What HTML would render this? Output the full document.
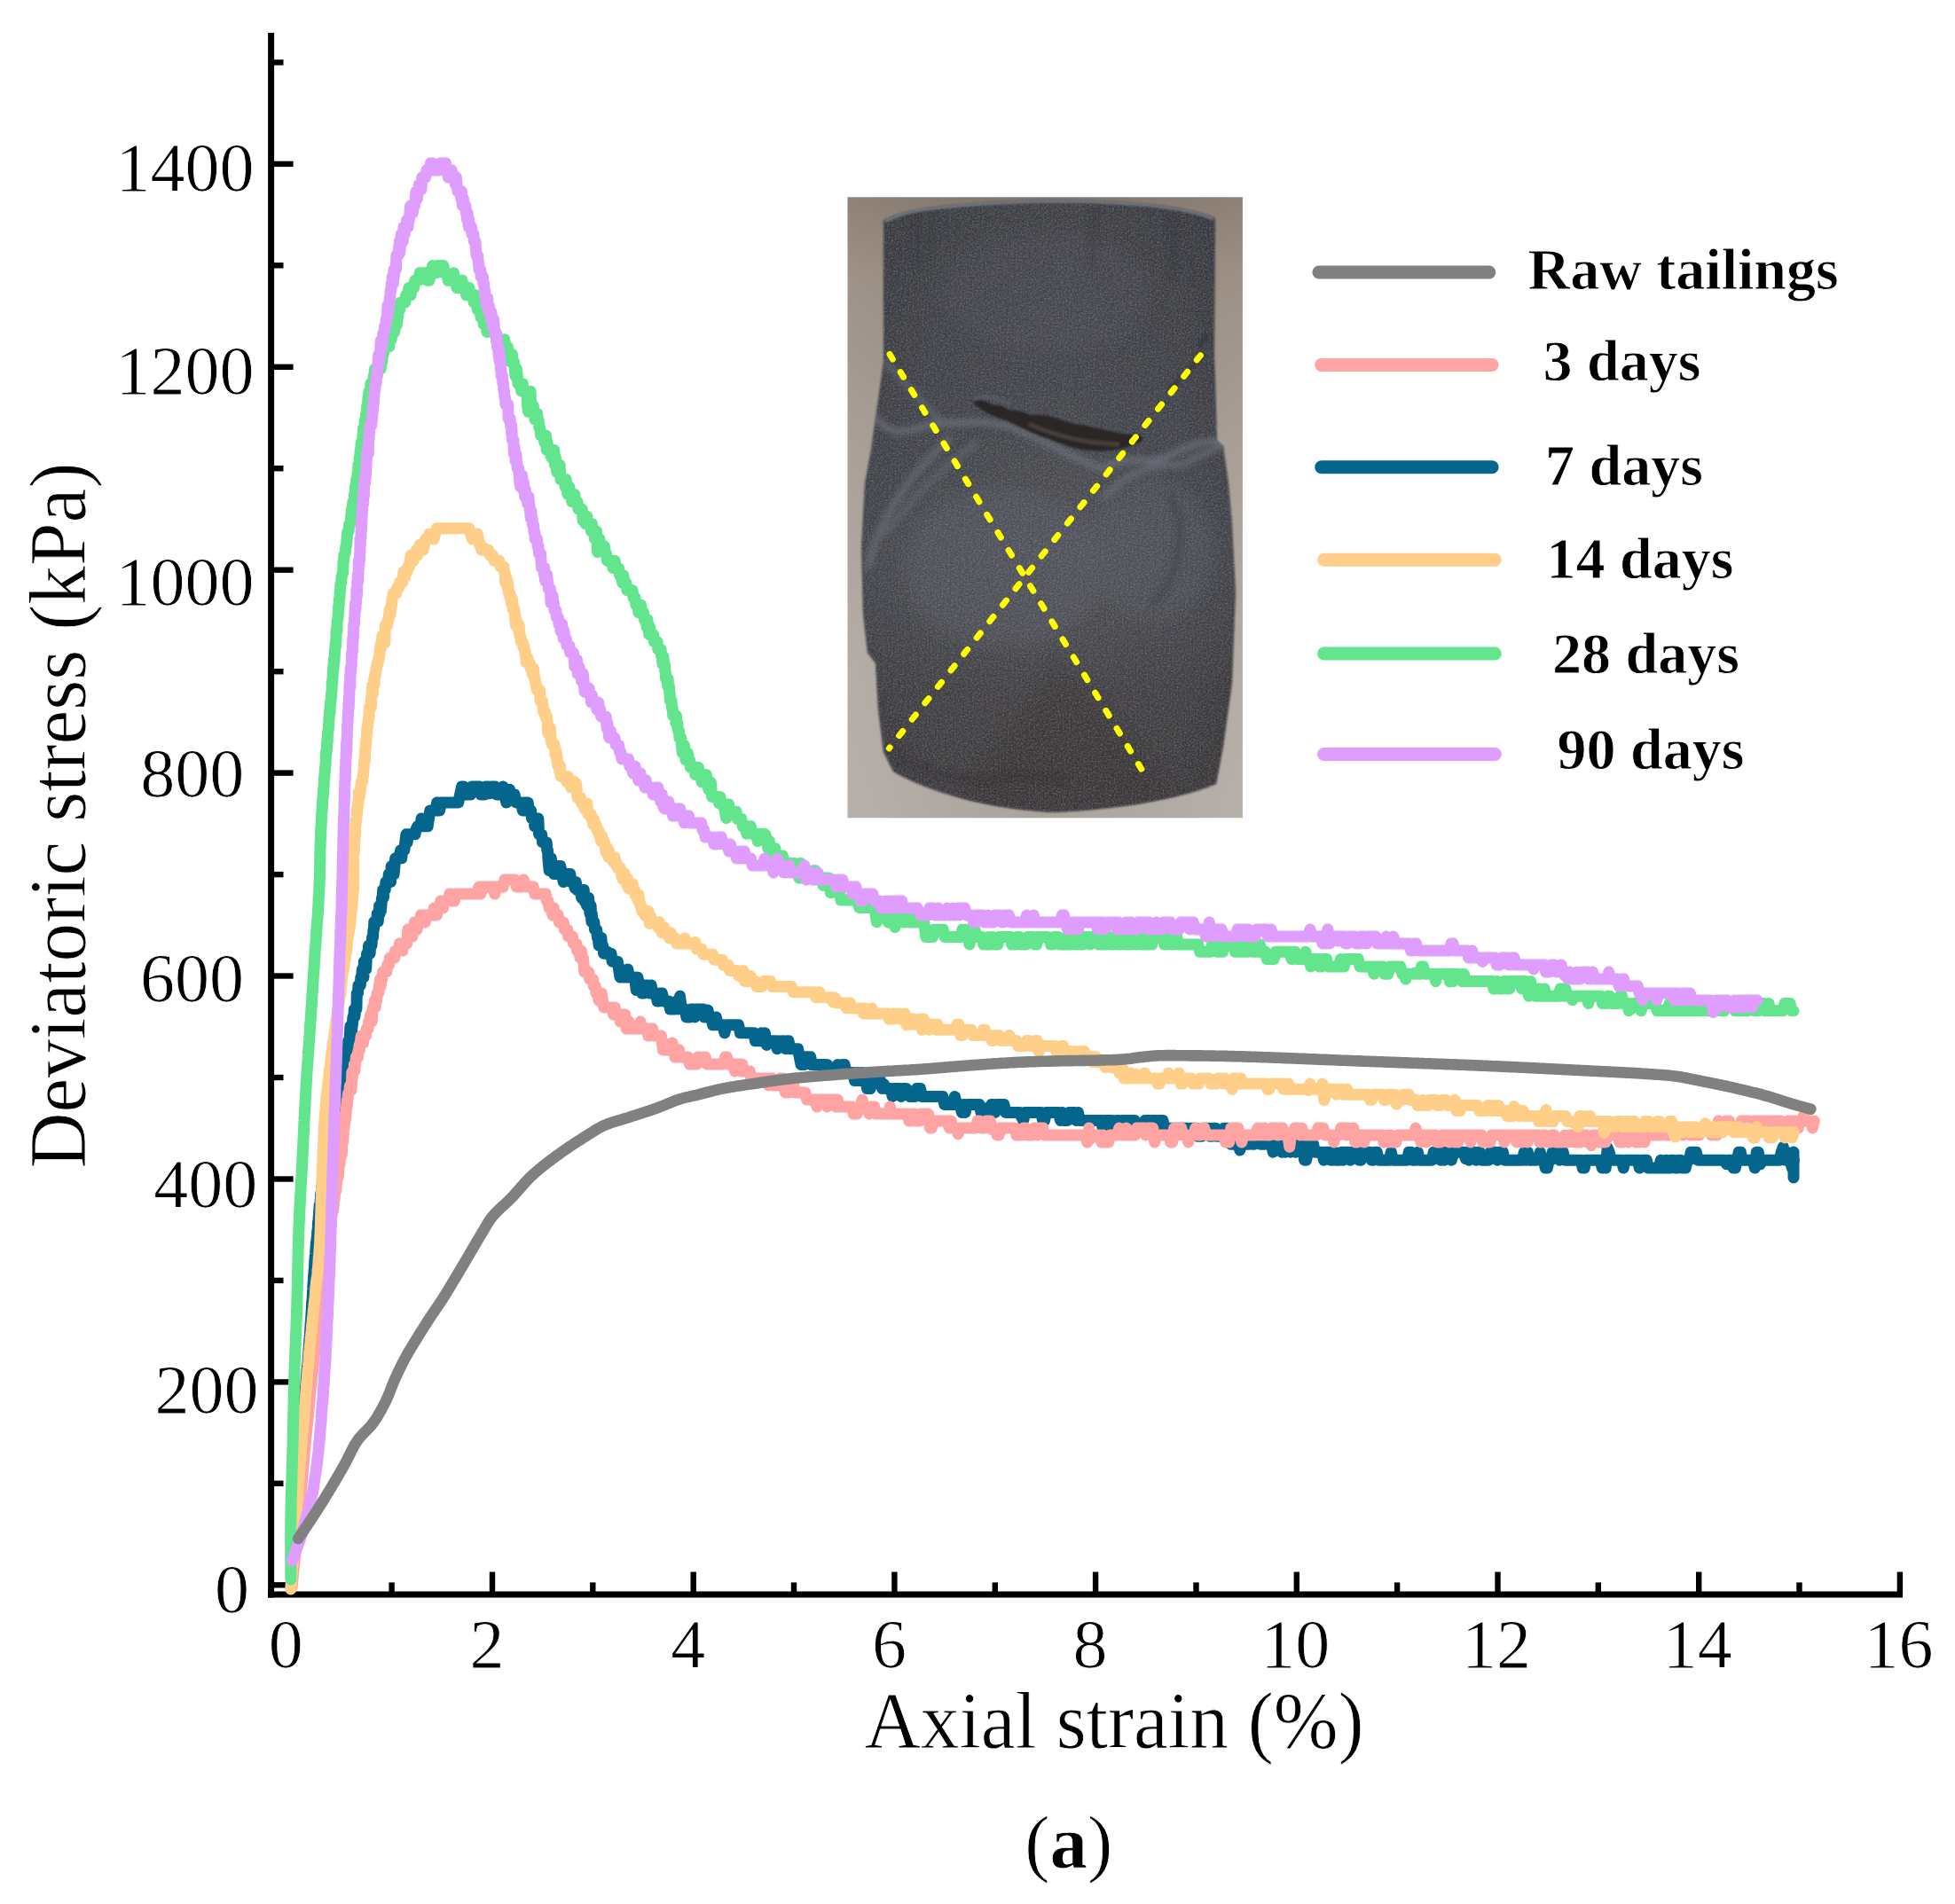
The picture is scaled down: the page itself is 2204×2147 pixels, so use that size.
<!DOCTYPE html>
<html><head><meta charset="utf-8"><title>Deviatoric stress vs axial strain</title>
<style>html,body{margin:0;padding:0;background:#fff}svg{display:block}text{font-family:"Liberation Serif",serif;fill:#000;stroke:#fff;stroke-width:0.8px;paint-order:fill stroke}</style>
</head><body>
<svg width="2204" height="2147" viewBox="0 0 2204 2147">
<rect width="2204" height="2147" fill="#fff"/>
<g id="axes">
<path d="M305.6 37 V1801.50" stroke="#000" stroke-width="7" fill="none"/>
<path d="M302.10 1798 H2145" stroke="#000" stroke-width="7" fill="none"/>
<path d="M305.6 1787.3 h25" stroke="#000" stroke-width="6.4" fill="none"/>
<path d="M305.6 1672.8 h13.9" stroke="#000" stroke-width="6.4" fill="none"/>
<path d="M305.6 1558.4 h25" stroke="#000" stroke-width="6.4" fill="none"/>
<path d="M305.6 1443.9 h13.9" stroke="#000" stroke-width="6.4" fill="none"/>
<path d="M305.6 1329.5 h25" stroke="#000" stroke-width="6.4" fill="none"/>
<path d="M305.6 1215.0 h13.9" stroke="#000" stroke-width="6.4" fill="none"/>
<path d="M305.6 1100.5 h25" stroke="#000" stroke-width="6.4" fill="none"/>
<path d="M305.6 986.1 h13.9" stroke="#000" stroke-width="6.4" fill="none"/>
<path d="M305.6 871.6 h25" stroke="#000" stroke-width="6.4" fill="none"/>
<path d="M305.6 757.2 h13.9" stroke="#000" stroke-width="6.4" fill="none"/>
<path d="M305.6 642.7 h25" stroke="#000" stroke-width="6.4" fill="none"/>
<path d="M305.6 528.2 h13.9" stroke="#000" stroke-width="6.4" fill="none"/>
<path d="M305.6 413.8 h25" stroke="#000" stroke-width="6.4" fill="none"/>
<path d="M305.6 299.3 h13.9" stroke="#000" stroke-width="6.4" fill="none"/>
<path d="M305.6 184.9 h25" stroke="#000" stroke-width="6.4" fill="none"/>
<path d="M305.6 70.4 h13.9" stroke="#000" stroke-width="6.4" fill="none"/>
<path d="M328.3 1798 v-25.5" stroke="#000" stroke-width="6.4" fill="none"/>
<path d="M441.6 1798 v-13.6" stroke="#000" stroke-width="6.4" fill="none"/>
<path d="M555.0 1798 v-25.5" stroke="#000" stroke-width="6.4" fill="none"/>
<path d="M668.3 1798 v-13.6" stroke="#000" stroke-width="6.4" fill="none"/>
<path d="M781.7 1798 v-25.5" stroke="#000" stroke-width="6.4" fill="none"/>
<path d="M895.0 1798 v-13.6" stroke="#000" stroke-width="6.4" fill="none"/>
<path d="M1008.4 1798 v-25.5" stroke="#000" stroke-width="6.4" fill="none"/>
<path d="M1121.8 1798 v-13.6" stroke="#000" stroke-width="6.4" fill="none"/>
<path d="M1235.1 1798 v-25.5" stroke="#000" stroke-width="6.4" fill="none"/>
<path d="M1348.5 1798 v-13.6" stroke="#000" stroke-width="6.4" fill="none"/>
<path d="M1461.8 1798 v-25.5" stroke="#000" stroke-width="6.4" fill="none"/>
<path d="M1575.1 1798 v-13.6" stroke="#000" stroke-width="6.4" fill="none"/>
<path d="M1688.5 1798 v-25.5" stroke="#000" stroke-width="6.4" fill="none"/>
<path d="M1801.8 1798 v-13.6" stroke="#000" stroke-width="6.4" fill="none"/>
<path d="M1915.2 1798 v-25.5" stroke="#000" stroke-width="6.4" fill="none"/>
<path d="M2028.5 1798 v-13.6" stroke="#000" stroke-width="6.4" fill="none"/>
<path d="M2141.9 1798 v-25.5" stroke="#000" stroke-width="6.4" fill="none"/>
</g>
<g id="curves">
<path d="M328.0 1790.0 L328.2 1788.0 L328.3 1786.0 L328.5 1784.0 L328.6 1782.0 L328.8 1780.0 L329.0 1778.0 L329.1 1776.0 L329.3 1774.0 L329.4 1772.1 L329.6 1770.1 L329.8 1768.1 L329.9 1766.1 L330.1 1764.1 L330.2 1762.1 L330.4 1760.1 L330.6 1758.1 L330.7 1756.1 L330.9 1754.1 L331.0 1752.1 L331.2 1750.1 L331.4 1748.1 L331.5 1746.1 L331.7 1744.1 L331.8 1742.1 L332.0 1740.1 L332.2 1738.1 L332.3 1736.2 L332.5 1734.2 L332.6 1732.2 L332.8 1730.2 L332.9 1728.2 L333.1 1726.2 L333.2 1724.2 L333.4 1722.2 L333.5 1720.2 L333.7 1718.2 L333.8 1716.2 L334.0 1714.2 L334.1 1712.2 L334.3 1710.2 L334.4 1708.2 L334.6 1706.2 L334.7 1704.2 L334.8 1702.2 L335.0 1700.2 L335.1 1698.2 L335.2 1696.3 L335.4 1694.2 L335.5 1692.3 L335.6 1690.3 L335.8 1688.2 L335.9 1686.2 L336.0 1684.3 L336.2 1682.3 L336.3 1680.2 L336.4 1678.2 L336.5 1676.1 L336.7 1674.3 L336.8 1672.4 L336.9 1670.4 L337.0 1668.2 L337.2 1666.3 L337.3 1664.1 L337.4 1662.5 L337.5 1660.2 L337.6 1658.6 L337.8 1656.4 L337.9 1654.5 L338.0 1652.2 L338.1 1650.6 L338.3 1648.3 L338.4 1646.0 L338.5 1644.1 L338.6 1642.7 L338.8 1640.3 L338.9 1638.4 L339.0 1636.0 L339.1 1634.1 L339.3 1632.3 L339.4 1629.8 L339.5 1627.9 L339.7 1626.1 L339.8 1624.2 L339.9 1622.3 L340.0 1620.5 L340.2 1618.6 L340.3 1616.8 L340.5 1615.0 L340.6 1613.1 L340.7 1610.6 L340.9 1608.8 L341.0 1606.2 L341.2 1605.1 L341.3 1602.5 L341.5 1599.9 L341.6 1598.9 L341.8 1596.3 L341.9 1593.6 L342.1 1593.5 L342.2 1590.9 L342.4 1589.1 L342.6 1586.4 L342.7 1584.6 L342.9 1582.9 L343.1 1581.1 L343.2 1578.3 L343.4 1576.5 L343.6 1573.7 L343.7 1571.9 L343.9 1570.2 L344.1 1567.3 L344.2 1566.7 L344.4 1565.0 L344.6 1563.3 L344.8 1561.6 L344.9 1559.9 L345.1 1555.6 L345.3 1555.2 L345.4 1552.2 L345.6 1550.5 L345.8 1548.8 L346.0 1545.7 L346.1 1544.0 L346.3 1543.8 L346.5 1540.7 L346.7 1539.0 L346.8 1537.4 L347.0 1535.7 L347.2 1534.1 L347.3 1530.9 L347.5 1529.3 L347.7 1527.6 L347.8 1526.0 L348.0 1522.8 L348.2 1521.1 L348.3 1519.5 L348.5 1516.2 L348.6 1514.6 L348.8 1511.2 L348.9 1509.6 L349.1 1508.0 L349.2 1506.4 L349.4 1504.8 L349.5 1503.3 L349.7 1499.8 L349.8 1498.2 L350.0 1494.7 L350.1 1493.1 L350.2 1491.6 L350.4 1490.0 L350.5 1488.4 L350.6 1486.9 L350.8 1485.3 L350.9 1481.8 L351.0 1480.2 L351.2 1478.7 L351.3 1477.1 L351.4 1475.6 L351.5 1472.0 L351.7 1468.3 L351.8 1468.9 L351.9 1467.4 L352.0 1465.9 L352.2 1464.4 L352.3 1460.7 L352.4 1459.2 L352.5 1457.7 L352.7 1454.0 L352.8 1450.2 L352.9 1448.7 L353.1 1447.2 L353.2 1448.0 L353.3 1444.2 L353.4 1442.8 L353.6 1438.9 L353.7 1437.4 L353.9 1436.0 L354.0 1434.5 L354.1 1433.0 L354.3 1431.6 L354.4 1430.2 L354.6 1426.2 L354.7 1424.8 L354.9 1420.8 L355.0 1419.4 L355.2 1418.0 L355.3 1416.5 L355.5 1417.7 L355.7 1413.7 L355.8 1409.7 L356.0 1408.3 L356.2 1404.1 L356.4 1402.7 L356.5 1401.3 L356.7 1400.0 L356.9 1401.4 L357.0 1397.2 L357.2 1395.8 L357.4 1394.5 L357.6 1393.2 L357.7 1388.9 L357.9 1387.6 L358.1 1386.2 L358.3 1384.9 L358.4 1380.6 L358.6 1377.0 L358.8 1378.0 L359.0 1376.7 L359.2 1372.3 L359.4 1374.1 L359.5 1369.7 L359.7 1365.2 L359.9 1363.9 L360.1 1359.4 L360.3 1364.6 L360.5 1360.1 L360.7 1358.9 L361.0 1357.6 L361.2 1353.1 L361.4 1351.8 L361.6 1347.2 L361.8 1345.9 L362.1 1344.7 L362.3 1343.5 L362.5 1342.3 L362.8 1337.6 L363.0 1336.3 L363.3 1335.2 L363.6 1334.0 L363.8 1332.8 L364.1 1328.0 L364.4 1330.6 L364.6 1321.9 L364.9 1324.5 L365.2 1323.4 L365.5 1318.4 L365.8 1317.3 L366.0 1316.2 L366.3 1315.1 L366.6 1314.0 L366.9 1313.0 L367.2 1307.8 L367.5 1306.7 L367.8 1301.5 L368.1 1300.4 L368.4 1299.4 L368.8 1298.4 L369.1 1293.8 L369.4 1292.0 L369.8 1295.4 L370.1 1285.5 L370.5 1289.0 L370.8 1283.5 L371.2 1282.5 L371.6 1281.5 L371.9 1280.6 L372.3 1279.7 L372.7 1278.8 L373.1 1273.1 L373.6 1277.1 L374.0 1266.3 L374.4 1265.4 L374.9 1264.6 L375.4 1263.7 L375.9 1262.9 L376.4 1262.1 L376.9 1261.4 L377.5 1260.7 L378.0 1255.6 L378.6 1253.7 L379.1 1247.4 L379.7 1246.7 L380.2 1251.7 L380.8 1245.3 L381.3 1238.7 L381.8 1238.0 L382.3 1243.4 L382.8 1236.7 L383.3 1236.1 L383.7 1229.3 L384.1 1235.0 L384.5 1228.1 L384.9 1221.1 L385.2 1226.9 L385.5 1219.9 L385.8 1230.5 L386.1 1218.8 L386.3 1218.3 L386.5 1211.2 L386.8 1210.6 L387.0 1210.1 L387.2 1209.6 L387.4 1202.4 L387.7 1208.6 L387.9 1208.1 L388.1 1207.7 L388.4 1210.7 L388.6 1193.1 L388.9 1199.5 L389.2 1199.1 L389.5 1198.7 L389.8 1189.2 L390.2 1190.9 L390.6 1190.5 L390.9 1183.0 L391.3 1182.6 L391.7 1182.2 L392.1 1181.8 L392.5 1174.2 L392.9 1173.8 L393.3 1173.5 L393.7 1173.2 L394.1 1172.9 L394.5 1165.0 L395.0 1157.0 L395.4 1156.7 L395.8 1156.4 L396.2 1156.2 L396.6 1163.8 L397.0 1155.7 L397.4 1155.5 L397.8 1147.3 L398.2 1147.0 L398.5 1146.9 L398.9 1146.7 L399.3 1138.3 L399.7 1138.1 L400.0 1146.3 L400.4 1137.8 L400.8 1137.7 L401.2 1137.6 L401.5 1137.6 L401.9 1137.5 L402.3 1120.3 L402.7 1120.2 L403.1 1120.1 L403.5 1120.0 L404.0 1111.2 L404.4 1111.1 L404.8 1111.0 L405.3 1111.0 L405.8 1111.0 L406.3 1111.0 L406.8 1102.1 L407.3 1102.1 L407.8 1102.1 L408.3 1093.1 L408.8 1102.1 L409.4 1102.1 L409.9 1102.1 L410.4 1084.2 L411.0 1086.7 L411.5 1093.1 L412.0 1093.1 L412.6 1093.1 L413.1 1084.2 L413.6 1075.2 L414.1 1075.2 L414.6 1075.2 L415.1 1075.2 L415.6 1066.2 L416.1 1071.3 L416.6 1075.2 L417.1 1075.2 L417.6 1066.2 L418.0 1066.2 L418.5 1066.2 L419.0 1066.2 L419.5 1057.3 L420.0 1057.3 L420.4 1057.3 L420.9 1048.3 L421.4 1048.3 L421.8 1039.4 L422.2 1039.4 L422.7 1039.4 L423.1 1039.4 L423.5 1039.4 L424.0 1039.4 L424.4 1039.4 L424.9 1039.4 L425.3 1030.4 L425.8 1039.4 L426.2 1039.4 L426.7 1030.4 L427.2 1030.4 L427.7 1021.4 L428.2 1030.4 L428.8 1021.4 L429.3 1027.3 L429.9 1021.4 L430.5 1012.5 L431.1 1012.5 L431.7 1003.5 L432.3 1012.5 L432.9 1003.5 L433.6 1003.5 L434.2 1003.5 L434.9 994.6 L435.5 994.6 L436.2 994.6 L436.9 994.6 L437.6 994.6 L438.3 985.6 L439.0 985.6 L439.7 994.6 L440.5 994.6 L441.2 976.6 L441.9 976.6 L442.7 976.6 L443.4 976.6 L444.1 985.6 L444.9 976.6 L445.7 967.7 L446.4 967.7 L447.2 967.7 L448.1 967.7 L448.9 967.7 L449.8 967.7 L450.7 962.9 L451.7 958.7 L452.7 967.7 L453.7 958.7 L454.7 958.7 L455.8 958.7 L456.8 949.8 L457.9 940.8 L459.1 949.8 L460.2 940.8 L461.4 940.8 L462.6 940.8 L463.9 940.8 L465.2 940.8 L466.5 940.8 L467.9 940.8 L469.3 934.6 L470.8 931.8 L472.2 931.8 L473.7 931.8 L475.2 922.9 L476.6 931.8 L478.1 922.9 L479.5 931.8 L480.9 922.9 L482.2 931.8 L483.5 922.9 L484.8 913.9 L486.0 913.9 L487.3 913.9 L488.6 913.9 L489.9 913.9 L491.2 913.9 L492.6 905.0 L494.1 913.9 L495.6 913.9 L497.2 905.0 L498.8 905.0 L500.4 905.0 L502.1 905.0 L503.9 905.0 L505.6 905.0 L507.4 905.0 L509.2 905.0 L511.0 905.0 L512.9 905.0 L514.8 905.0 L516.7 905.0 L518.6 896.0 L520.6 887.0 L522.5 887.0 L524.5 896.0 L526.5 896.0 L528.5 896.0 L530.4 896.0 L532.4 887.0 L534.4 887.0 L536.3 887.0 L538.3 887.0 L540.3 887.0 L542.3 896.0 L544.3 896.0 L546.3 896.0 L548.2 887.0 L550.2 887.0 L552.2 894.7 L554.1 887.0 L556.0 887.0 L557.9 887.0 L559.8 896.0 L561.6 896.0 L563.5 896.0 L565.3 896.0 L567.2 887.0 L569.0 896.0 L570.8 905.0 L572.6 896.0 L574.5 890.2 L576.3 896.0 L578.2 896.0 L580.1 896.0 L582.0 905.0 L583.9 905.0 L585.8 905.0 L587.6 905.0 L589.3 913.9 L591.0 913.9 L592.5 905.0 L593.9 905.0 L595.2 905.0 L596.4 913.9 L597.5 913.9 L598.5 913.9 L599.5 922.9 L600.4 922.9 L601.2 922.9 L602.0 922.9 L602.8 931.8 L603.6 922.9 L604.4 922.9 L605.2 931.8 L606.0 931.8 L606.8 922.9 L607.6 940.8 L608.4 940.8 L609.2 940.8 L610.0 940.8 L610.7 940.8 L611.5 949.8 L612.2 949.8 L612.9 949.8 L613.6 949.8 L614.3 949.8 L615.0 949.8 L615.6 949.8 L616.2 949.8 L616.7 958.7 L617.1 958.7 L617.5 958.7 L617.9 967.7 L618.3 973.0 L618.7 976.6 L619.2 981.8 L619.8 967.7 L620.4 967.7 L621.3 967.7 L622.3 976.6 L623.4 976.6 L624.8 985.6 L626.4 985.6 L628.1 976.6 L629.8 976.6 L631.7 976.6 L633.5 985.6 L635.2 994.6 L636.9 985.6 L638.4 985.6 L639.9 985.6 L641.3 985.6 L642.7 985.6 L644.1 994.6 L645.4 994.6 L646.8 994.6 L648.1 1001.5 L649.3 994.6 L650.6 1003.5 L651.9 1003.5 L653.1 1003.5 L654.4 1003.5 L655.6 1012.5 L656.9 1012.5 L658.2 1003.5 L659.4 1017.0 L660.5 1012.5 L661.6 1021.4 L662.6 1021.4 L663.5 1012.5 L664.3 1021.4 L665.0 1030.4 L665.6 1030.4 L666.1 1021.4 L666.5 1030.4 L666.9 1039.4 L667.3 1030.4 L667.7 1039.4 L668.2 1039.4 L668.6 1039.4 L669.2 1039.4 L669.8 1039.4 L670.5 1048.3 L671.2 1048.3 L671.9 1048.3 L672.7 1048.3 L673.5 1057.3 L674.3 1057.3 L675.2 1066.2 L676.0 1066.2 L676.9 1061.8 L677.8 1057.3 L678.7 1066.2 L679.7 1066.2 L680.6 1075.2 L681.6 1075.2 L682.6 1075.2 L683.6 1075.2 L684.7 1073.2 L685.7 1075.2 L686.8 1075.2 L687.9 1075.2 L689.0 1075.2 L690.1 1084.2 L691.3 1084.2 L692.5 1084.2 L693.7 1084.2 L695.0 1084.2 L696.3 1084.2 L697.6 1093.1 L699.0 1102.1 L700.4 1093.1 L701.8 1102.1 L703.3 1102.1 L704.8 1102.1 L706.3 1102.1 L707.8 1093.1 L709.4 1102.1 L711.0 1102.1 L712.5 1102.1 L714.1 1102.1 L715.7 1102.1 L717.3 1116.6 L718.9 1102.1 L720.5 1111.0 L722.2 1111.0 L723.9 1120.0 L725.5 1120.0 L727.2 1111.0 L728.9 1111.0 L730.6 1111.0 L732.4 1120.0 L734.1 1111.0 L735.8 1120.0 L737.6 1120.0 L739.3 1120.0 L741.1 1129.0 L742.9 1129.0 L744.6 1120.0 L746.4 1120.0 L748.2 1129.0 L750.1 1129.0 L751.9 1129.0 L753.7 1129.0 L755.5 1137.9 L757.3 1137.9 L759.1 1137.9 L761.0 1137.9 L762.8 1129.0 L764.6 1137.9 L766.5 1123.3 L768.3 1137.9 L770.2 1137.9 L772.0 1137.9 L773.9 1146.9 L775.7 1146.9 L777.6 1146.9 L779.4 1137.9 L781.3 1137.9 L783.2 1146.9 L785.0 1137.9 L786.9 1137.9 L788.8 1137.9 L790.6 1137.9 L792.5 1137.9 L794.3 1146.9 L796.2 1146.9 L798.0 1139.1 L799.8 1146.9 L801.7 1146.9 L803.6 1155.8 L805.4 1155.8 L807.3 1146.9 L809.2 1155.8 L811.1 1155.8 L813.0 1155.8 L814.9 1155.8 L816.9 1164.8 L818.9 1155.8 L820.8 1155.8 L822.8 1155.8 L824.8 1155.8 L826.8 1155.8 L828.7 1155.8 L830.7 1155.8 L832.6 1155.8 L834.5 1164.8 L836.3 1164.8 L838.1 1164.8 L839.9 1164.8 L841.6 1164.8 L843.2 1164.8 L844.9 1164.8 L846.5 1164.8 L848.1 1164.8 L849.8 1164.8 L851.5 1173.8 L853.2 1173.8 L854.9 1173.8 L856.7 1173.8 L858.5 1164.8 L860.4 1173.8 L862.3 1164.8 L864.3 1178.4 L866.3 1173.8 L868.3 1173.8 L870.3 1173.8 L872.3 1173.8 L874.2 1173.8 L876.2 1182.7 L878.1 1173.8 L879.9 1178.0 L881.8 1173.8 L883.6 1173.8 L885.4 1182.7 L887.2 1173.8 L889.0 1173.8 L890.7 1182.7 L892.5 1182.7 L894.3 1182.7 L896.1 1182.7 L897.8 1182.7 L899.6 1182.7 L901.3 1191.7 L903.1 1200.6 L904.8 1191.7 L906.6 1200.6 L908.3 1191.7 L910.1 1191.7 L911.9 1191.7 L913.7 1191.7 L915.5 1200.6 L917.4 1200.6 L919.3 1200.6 L921.2 1200.6 L923.1 1200.6 L925.0 1200.6 L927.0 1200.6 L928.9 1200.6 L930.8 1207.0 L932.8 1200.6 L934.7 1209.6 L936.6 1209.6 L938.6 1209.6 L940.5 1209.6 L942.4 1209.6 L944.4 1200.6 L946.3 1209.6 L948.2 1209.6 L950.2 1200.6 L952.1 1200.6 L954.1 1209.6 L956.0 1209.6 L957.9 1209.6 L959.8 1209.6 L961.7 1209.6 L963.5 1218.6 L965.3 1218.6 L967.1 1209.6 L968.9 1218.6 L970.6 1209.6 L972.3 1209.6 L974.1 1218.6 L975.8 1218.6 L977.6 1227.5 L979.4 1227.5 L981.2 1227.5 L983.0 1218.6 L984.9 1218.6 L986.8 1218.6 L988.7 1218.6 L990.6 1218.6 L992.6 1218.6 L994.5 1227.5 L996.5 1222.5 L998.4 1227.5 L1000.4 1227.5 L1002.3 1227.5 L1004.2 1227.5 L1006.2 1236.5 L1008.1 1227.5 L1010.1 1227.5 L1012.0 1227.5 L1014.0 1227.5 L1016.0 1236.5 L1017.9 1227.5 L1019.9 1227.5 L1021.9 1227.5 L1023.8 1230.4 L1025.8 1236.5 L1027.8 1236.5 L1029.7 1236.5 L1031.7 1236.5 L1033.6 1227.5 L1035.6 1227.5 L1037.5 1227.5 L1039.5 1236.5 L1041.5 1236.5 L1043.4 1236.5 L1045.4 1236.5 L1047.3 1236.5 L1049.3 1236.5 L1051.2 1236.5 L1053.2 1236.5 L1055.1 1236.5 L1057.1 1236.5 L1059.0 1236.5 L1060.9 1236.5 L1062.9 1236.5 L1064.8 1245.4 L1066.7 1245.4 L1068.7 1245.4 L1070.6 1245.4 L1072.5 1245.4 L1074.5 1245.4 L1076.4 1236.5 L1078.4 1245.4 L1080.3 1245.4 L1082.3 1245.4 L1084.3 1254.4 L1086.2 1245.4 L1088.2 1254.4 L1090.2 1245.4 L1092.1 1245.4 L1094.1 1245.4 L1096.1 1245.4 L1098.1 1245.4 L1100.1 1245.4 L1102.1 1245.4 L1104.0 1245.4 L1106.0 1254.4 L1108.0 1260.0 L1110.0 1254.4 L1112.0 1249.6 L1114.0 1254.4 L1116.0 1254.4 L1117.9 1245.4 L1119.9 1245.4 L1121.9 1254.4 L1123.9 1245.4 L1125.9 1245.4 L1127.9 1245.4 L1129.9 1245.4 L1131.8 1245.4 L1133.8 1254.4 L1135.8 1254.4 L1137.8 1254.4 L1139.8 1254.4 L1141.8 1254.4 L1143.8 1254.4 L1145.8 1254.4 L1147.7 1254.4 L1149.7 1254.4 L1151.7 1259.7 L1153.7 1263.4 L1155.7 1254.4 L1157.7 1254.4 L1159.7 1254.4 L1161.7 1254.4 L1163.6 1254.4 L1165.6 1254.4 L1167.6 1254.4 L1169.6 1254.4 L1171.6 1254.4 L1173.6 1254.4 L1175.6 1263.4 L1177.6 1263.4 L1179.6 1254.4 L1181.5 1254.4 L1183.5 1254.4 L1185.5 1254.4 L1187.5 1254.4 L1189.5 1254.4 L1191.5 1254.4 L1193.5 1254.4 L1195.5 1263.4 L1197.5 1254.4 L1199.4 1263.4 L1201.4 1263.4 L1203.4 1263.4 L1205.4 1254.4 L1207.4 1254.4 L1209.4 1254.4 L1211.4 1254.4 L1213.4 1263.4 L1215.4 1254.4 L1217.4 1263.4 L1219.4 1263.4 L1221.3 1263.4 L1223.3 1263.4 L1225.3 1263.4 L1227.3 1263.4 L1229.3 1263.4 L1231.3 1263.4 L1233.3 1263.4 L1235.3 1263.4 L1237.3 1263.4 L1239.3 1263.4 L1241.3 1263.4 L1243.2 1272.3 L1245.2 1263.4 L1247.2 1263.4 L1249.2 1263.4 L1251.2 1263.4 L1253.2 1263.4 L1255.2 1272.3 L1257.2 1272.3 L1259.2 1263.4 L1261.2 1263.4 L1263.1 1272.3 L1265.1 1263.4 L1267.1 1263.4 L1269.1 1263.4 L1271.1 1263.4 L1273.1 1263.4 L1275.1 1263.4 L1277.1 1263.4 L1279.1 1263.4 L1281.1 1272.3 L1283.1 1272.3 L1285.1 1272.3 L1287.0 1272.3 L1289.0 1272.3 L1291.0 1263.4 L1293.0 1263.4 L1295.0 1263.4 L1297.0 1272.3 L1299.0 1263.4 L1301.0 1263.4 L1303.0 1263.4 L1304.9 1272.3 L1306.9 1263.4 L1308.9 1263.4 L1310.9 1263.4 L1312.9 1272.3 L1314.8 1272.3 L1316.8 1272.3 L1318.8 1272.3 L1320.8 1272.3 L1322.8 1272.3 L1324.7 1272.3 L1326.7 1272.3 L1328.7 1272.3 L1330.7 1272.3 L1332.6 1272.3 L1334.6 1272.3 L1336.6 1272.3 L1338.6 1272.3 L1340.5 1281.3 L1342.5 1272.3 L1344.5 1272.3 L1346.5 1272.3 L1348.5 1272.3 L1350.4 1281.3 L1352.4 1281.3 L1354.4 1281.3 L1356.4 1272.3 L1358.3 1272.3 L1360.3 1272.3 L1362.3 1272.3 L1364.3 1281.3 L1366.2 1281.3 L1368.2 1272.3 L1370.2 1272.3 L1372.2 1281.3 L1374.2 1281.3 L1376.1 1281.3 L1378.1 1281.3 L1380.1 1272.3 L1382.1 1272.3 L1384.0 1272.3 L1386.0 1281.3 L1388.0 1290.2 L1389.9 1290.2 L1391.9 1288.5 L1393.9 1290.2 L1395.9 1290.2 L1397.8 1297.0 L1399.8 1290.2 L1401.8 1290.2 L1403.7 1290.2 L1405.7 1290.2 L1407.7 1290.2 L1409.7 1281.3 L1411.6 1290.2 L1413.6 1290.2 L1415.6 1281.3 L1417.5 1281.3 L1419.5 1281.3 L1421.5 1290.2 L1423.4 1290.2 L1425.4 1290.2 L1427.4 1281.3 L1429.3 1281.3 L1431.3 1290.2 L1433.3 1290.2 L1435.2 1299.2 L1437.2 1290.2 L1439.2 1290.2 L1441.1 1290.2 L1443.1 1290.2 L1445.1 1299.2 L1447.0 1290.2 L1449.0 1299.2 L1451.0 1295.4 L1452.9 1290.2 L1454.9 1299.2 L1456.9 1290.2 L1458.8 1290.2 L1460.8 1299.2 L1462.8 1290.2 L1464.7 1290.2 L1466.7 1290.2 L1468.6 1290.2 L1470.6 1308.2 L1472.6 1308.2 L1474.5 1299.2 L1476.5 1290.2 L1478.5 1290.2 L1480.5 1290.2 L1482.4 1299.2 L1484.4 1299.2 L1486.4 1299.2 L1488.4 1299.2 L1490.4 1299.2 L1492.4 1308.2 L1494.3 1299.2 L1496.3 1299.2 L1498.3 1299.2 L1500.3 1308.2 L1502.3 1308.2 L1504.3 1299.2 L1506.3 1308.2 L1508.3 1308.2 L1510.3 1308.2 L1512.3 1299.2 L1514.3 1308.2 L1516.3 1299.2 L1518.3 1299.2 L1520.3 1299.2 L1522.3 1308.2 L1524.3 1299.2 L1526.3 1299.2 L1528.3 1299.2 L1530.3 1299.2 L1532.3 1308.2 L1534.3 1308.2 L1536.3 1299.2 L1538.3 1299.2 L1540.3 1299.2 L1542.3 1299.2 L1544.3 1299.2 L1546.3 1308.2 L1548.3 1308.2 L1550.3 1299.2 L1552.3 1299.2 L1554.3 1308.2 L1556.3 1308.2 L1558.3 1308.2 L1560.3 1308.2 L1562.3 1308.2 L1564.3 1308.2 L1566.3 1308.2 L1568.3 1299.2 L1570.3 1308.2 L1572.3 1308.2 L1574.3 1308.2 L1576.3 1308.2 L1578.3 1308.2 L1580.3 1308.2 L1582.3 1308.2 L1584.3 1308.2 L1586.3 1308.2 L1588.3 1299.2 L1590.3 1299.2 L1592.3 1308.2 L1594.3 1308.2 L1596.3 1308.2 L1598.3 1299.2 L1600.3 1308.2 L1602.3 1308.2 L1604.3 1308.2 L1606.3 1308.2 L1608.3 1308.2 L1610.3 1308.2 L1612.3 1308.2 L1614.3 1308.2 L1616.3 1299.2 L1618.3 1299.2 L1620.3 1303.5 L1622.3 1299.2 L1624.3 1308.2 L1626.3 1299.2 L1628.3 1308.2 L1630.3 1299.2 L1632.3 1299.2 L1634.3 1299.2 L1636.3 1308.2 L1638.3 1301.6 L1640.3 1299.2 L1642.3 1299.2 L1644.3 1299.2 L1646.3 1299.2 L1648.3 1299.2 L1650.3 1299.2 L1652.3 1306.6 L1654.3 1299.2 L1656.3 1308.2 L1658.3 1299.2 L1660.3 1299.2 L1662.3 1299.2 L1664.3 1308.2 L1666.3 1299.2 L1668.3 1299.2 L1670.3 1308.2 L1672.3 1308.2 L1674.3 1308.2 L1676.3 1308.2 L1678.3 1308.2 L1680.3 1299.2 L1682.3 1299.2 L1684.3 1299.2 L1686.3 1299.2 L1688.3 1308.2 L1690.3 1299.2 L1692.3 1299.2 L1694.3 1299.2 L1696.3 1308.2 L1698.3 1308.2 L1700.3 1308.2 L1702.3 1308.2 L1704.3 1308.2 L1706.3 1308.2 L1708.3 1308.2 L1710.3 1308.2 L1712.3 1308.2 L1714.3 1308.2 L1716.3 1308.2 L1718.3 1299.2 L1720.3 1308.2 L1722.3 1299.2 L1724.3 1308.2 L1726.3 1308.2 L1728.3 1308.2 L1730.3 1308.2 L1732.3 1308.2 L1734.3 1306.6 L1736.3 1299.2 L1738.3 1308.2 L1740.3 1308.2 L1742.3 1317.1 L1744.3 1317.1 L1746.3 1308.2 L1748.3 1308.2 L1750.3 1299.2 L1752.3 1299.2 L1754.3 1299.2 L1756.2 1299.2 L1758.2 1308.2 L1760.2 1299.2 L1762.2 1299.2 L1764.2 1308.2 L1766.2 1308.2 L1768.2 1308.2 L1770.2 1308.2 L1772.2 1308.2 L1774.2 1308.2 L1776.2 1308.2 L1778.2 1308.2 L1780.2 1308.2 L1782.2 1308.2 L1784.2 1317.1 L1786.2 1317.1 L1788.2 1308.2 L1790.2 1308.2 L1792.2 1308.2 L1794.2 1308.2 L1796.2 1308.2 L1798.2 1308.2 L1800.2 1308.2 L1802.2 1308.2 L1804.2 1308.2 L1806.2 1317.1 L1808.2 1308.2 L1810.2 1317.1 L1812.2 1294.3 L1814.2 1299.2 L1816.2 1308.2 L1818.2 1308.2 L1820.2 1308.2 L1822.2 1308.2 L1824.2 1308.2 L1826.2 1308.2 L1828.2 1308.2 L1830.2 1317.1 L1832.2 1308.2 L1834.3 1308.2 L1836.3 1308.2 L1838.3 1308.2 L1840.3 1308.2 L1842.3 1308.2 L1844.3 1308.2 L1846.3 1308.2 L1848.3 1317.1 L1850.3 1308.2 L1852.3 1308.2 L1854.3 1308.2 L1856.3 1308.2 L1858.3 1317.1 L1860.3 1317.1 L1862.3 1317.1 L1864.3 1317.1 L1866.3 1317.1 L1868.3 1317.1 L1870.3 1317.1 L1872.3 1308.2 L1874.3 1317.1 L1876.3 1317.1 L1878.3 1308.2 L1880.3 1317.1 L1882.3 1317.1 L1884.3 1308.2 L1886.3 1308.2 L1888.3 1317.1 L1890.3 1317.1 L1892.3 1308.2 L1894.3 1308.2 L1896.3 1317.1 L1898.3 1317.1 L1900.3 1317.1 L1902.3 1308.2 L1904.3 1308.2 L1906.3 1299.2 L1908.3 1299.2 L1910.3 1299.2 L1912.3 1299.2 L1914.3 1308.2 L1916.3 1308.2 L1918.3 1308.2 L1920.3 1308.2 L1922.3 1308.2 L1924.3 1308.2 L1926.3 1308.2 L1928.3 1308.2 L1930.3 1308.2 L1932.3 1308.2 L1934.3 1308.2 L1936.3 1308.2 L1938.3 1308.2 L1940.3 1308.2 L1942.3 1308.2 L1944.3 1308.2 L1946.3 1312.7 L1948.3 1308.2 L1950.3 1308.2 L1952.3 1308.2 L1954.3 1317.1 L1956.3 1317.1 L1958.3 1308.2 L1960.3 1299.2 L1962.3 1299.2 L1964.3 1308.2 L1966.3 1308.2 L1968.3 1308.2 L1970.3 1308.2 L1972.3 1308.2 L1974.3 1308.2 L1976.3 1308.2 L1978.3 1317.1 L1980.3 1299.2 L1982.3 1299.2 L1984.3 1312.8 L1986.3 1308.2 L1988.3 1308.2 L1990.3 1308.2 L1992.3 1308.2 L1994.3 1308.2 L1996.3 1308.2 L1998.3 1308.2 L2000.3 1308.2 L2002.3 1308.2 L2004.3 1308.2 L2006.3 1308.2 L2008.3 1299.2 L2010.3 1293.3 L2012.3 1308.2 L2014.3 1299.2 L2016.3 1308.2 L2018.3 1308.2 L2020.3 1317.1 L2022.3 1308.2" fill="none" stroke="#05668D" stroke-width="13" stroke-linecap="round" stroke-linejoin="round"/>
<path d="M2022 1299 L2022 1328" stroke="#05668D" stroke-width="13" stroke-linecap="round" fill="none"/>
<path d="M329.0 1790.0 L329.2 1788.0 L329.4 1786.0 L329.6 1784.0 L329.8 1782.0 L330.0 1780.0 L330.2 1778.1 L330.4 1776.1 L330.6 1774.1 L330.8 1772.1 L331.0 1770.1 L331.2 1768.1 L331.4 1766.1 L331.6 1764.1 L331.8 1762.1 L332.0 1760.1 L332.2 1758.1 L332.4 1756.1 L332.6 1754.2 L332.8 1752.2 L333.0 1750.2 L333.2 1748.2 L333.4 1746.2 L333.6 1744.2 L333.8 1742.2 L334.0 1740.2 L334.2 1738.2 L334.4 1736.2 L334.6 1734.2 L334.7 1732.2 L334.9 1730.3 L335.1 1728.3 L335.3 1726.3 L335.5 1724.2 L335.7 1722.3 L335.9 1720.2 L336.1 1718.2 L336.3 1716.2 L336.5 1714.3 L336.7 1712.3 L336.8 1710.4 L337.0 1708.4 L337.2 1706.3 L337.4 1704.3 L337.6 1702.1 L337.8 1700.2 L337.9 1698.6 L338.1 1696.7 L338.3 1694.5 L338.5 1692.6 L338.6 1690.7 L338.8 1687.9 L339.0 1686.0 L339.2 1684.2 L339.3 1682.3 L339.5 1680.4 L339.7 1678.0 L339.9 1676.7 L340.0 1674.3 L340.2 1672.4 L340.4 1670.6 L340.5 1668.1 L340.7 1666.3 L340.9 1664.4 L341.1 1662.6 L341.2 1660.4 L341.4 1658.3 L341.6 1656.5 L341.8 1653.9 L341.9 1652.9 L342.1 1650.3 L342.3 1649.3 L342.5 1646.7 L342.7 1644.9 L342.8 1642.3 L343.0 1639.6 L343.2 1637.8 L343.4 1637.0 L343.6 1635.2 L343.8 1632.5 L343.9 1629.8 L344.1 1629.0 L344.3 1627.3 L344.5 1624.5 L344.7 1622.8 L344.9 1620.0 L345.1 1618.3 L345.3 1616.6 L345.5 1614.9 L345.7 1612.0 L345.9 1610.3 L346.1 1608.6 L346.3 1606.9 L346.5 1603.9 L346.7 1602.3 L346.9 1601.4 L347.1 1598.9 L347.3 1597.3 L347.5 1595.7 L347.7 1592.6 L347.9 1591.0 L348.1 1589.4 L348.3 1586.3 L348.5 1584.6 L348.7 1583.0 L348.9 1581.4 L349.1 1578.2 L349.3 1575.0 L349.5 1573.4 L349.7 1571.8 L349.9 1570.2 L350.1 1566.9 L350.3 1565.4 L350.5 1563.8 L350.7 1562.2 L351.0 1560.7 L351.2 1559.2 L351.4 1557.6 L351.6 1554.2 L351.8 1550.8 L352.0 1549.3 L352.2 1547.7 L352.4 1546.2 L352.6 1546.7 L352.8 1543.2 L353.0 1541.8 L353.2 1538.2 L353.4 1536.7 L353.6 1535.3 L353.8 1533.8 L354.0 1532.4 L354.2 1531.0 L354.5 1525.1 L354.7 1525.9 L354.9 1522.2 L355.1 1520.8 L355.3 1517.0 L355.5 1515.6 L355.7 1514.2 L355.9 1512.8 L356.1 1511.4 L356.3 1507.6 L356.5 1508.6 L356.7 1507.3 L356.9 1503.4 L357.1 1502.1 L357.4 1500.7 L357.6 1496.8 L357.8 1495.5 L358.0 1491.5 L358.2 1492.8 L358.4 1488.8 L358.7 1484.8 L358.9 1486.2 L359.1 1482.1 L359.4 1480.8 L359.6 1479.5 L359.8 1478.3 L360.0 1477.0 L360.3 1475.7 L360.5 1471.6 L360.8 1470.3 L361.0 1469.1 L361.2 1464.9 L361.5 1466.7 L361.7 1459.3 L361.9 1458.1 L362.2 1460.0 L362.4 1455.7 L362.7 1454.5 L362.9 1453.3 L363.2 1452.1 L363.4 1444.5 L363.7 1443.3 L363.9 1445.4 L364.2 1440.9 L364.4 1436.4 L364.7 1438.6 L364.9 1434.1 L365.2 1436.4 L365.5 1435.3 L365.7 1427.2 L366.0 1426.0 L366.2 1428.5 L366.5 1427.4 L366.8 1419.1 L367.0 1415.4 L367.3 1416.9 L367.6 1415.9 L367.8 1414.8 L368.1 1410.0 L368.4 1408.9 L368.7 1407.9 L369.0 1406.9 L369.2 1405.9 L369.5 1404.9 L369.8 1396.0 L370.1 1399.0 L370.4 1393.9 L370.7 1397.0 L371.0 1387.9 L371.3 1391.0 L371.5 1390.1 L371.8 1389.2 L372.1 1388.3 L372.4 1383.1 L372.7 1382.2 L373.0 1377.0 L373.3 1376.1 L373.6 1375.2 L373.9 1369.9 L374.2 1369.0 L374.5 1368.1 L374.8 1367.2 L375.1 1366.4 L375.4 1365.6 L375.7 1364.8 L376.0 1359.3 L376.3 1358.5 L376.6 1353.0 L376.9 1352.2 L377.2 1351.4 L377.5 1345.7 L377.8 1345.0 L378.1 1344.2 L378.4 1343.4 L378.7 1342.7 L379.0 1342.0 L379.3 1336.2 L379.6 1330.4 L379.9 1329.7 L380.2 1328.9 L380.6 1328.2 L380.9 1327.5 L381.2 1326.9 L381.5 1325.1 L381.8 1320.2 L382.1 1314.2 L382.5 1313.5 L382.8 1312.9 L383.1 1312.3 L383.4 1306.1 L383.7 1305.5 L384.0 1304.9 L384.2 1304.3 L384.5 1303.7 L384.8 1297.4 L385.1 1296.8 L385.3 1302.0 L385.6 1295.7 L385.8 1289.4 L386.0 1288.8 L386.3 1288.3 L386.5 1286.8 L386.6 1287.2 L386.8 1286.7 L387.0 1280.3 L387.2 1279.8 L387.3 1273.3 L387.5 1272.8 L387.7 1272.3 L387.8 1265.7 L388.0 1271.3 L388.2 1270.8 L388.4 1264.3 L388.6 1267.1 L388.8 1257.2 L389.1 1262.9 L389.3 1262.5 L389.6 1262.1 L389.9 1255.4 L390.2 1255.0 L390.5 1248.3 L390.8 1247.9 L391.1 1241.1 L391.4 1247.1 L391.8 1240.3 L392.1 1239.9 L392.5 1233.0 L392.8 1232.6 L393.2 1232.2 L393.6 1231.9 L393.9 1231.6 L394.3 1224.5 L394.7 1224.2 L395.1 1223.9 L395.5 1223.7 L396.0 1229.0 L396.4 1223.2 L396.8 1208.9 L397.2 1215.8 L397.6 1208.4 L398.1 1208.2 L398.5 1208.0 L399.0 1207.8 L399.4 1200.3 L399.9 1207.6 L400.3 1200.0 L400.8 1199.9 L401.3 1192.2 L401.8 1192.1 L402.4 1192.0 L402.9 1192.0 L403.5 1191.9 L404.1 1184.0 L404.7 1184.0 L405.3 1184.0 L405.9 1176.0 L406.6 1176.0 L407.3 1168.0 L408.1 1168.0 L408.8 1168.0 L409.6 1176.0 L410.3 1168.0 L411.0 1168.0 L411.8 1168.0 L412.5 1168.0 L413.2 1160.0 L413.9 1160.0 L414.5 1160.0 L415.1 1160.0 L415.7 1152.0 L416.3 1152.0 L416.9 1152.0 L417.5 1144.0 L418.0 1144.0 L418.6 1152.0 L419.2 1152.0 L419.7 1144.0 L420.3 1136.0 L420.8 1136.0 L421.3 1136.0 L421.8 1136.0 L422.3 1128.0 L422.8 1136.0 L423.2 1136.0 L423.7 1128.0 L424.2 1128.0 L424.6 1128.0 L425.1 1120.0 L425.6 1120.0 L426.1 1120.0 L426.7 1120.0 L427.3 1112.0 L427.9 1112.0 L428.5 1104.0 L429.2 1112.0 L429.9 1104.0 L430.7 1104.0 L431.5 1096.0 L432.3 1096.0 L433.1 1096.0 L434.0 1096.0 L434.9 1096.0 L435.8 1096.0 L436.7 1088.0 L437.6 1088.0 L438.6 1088.0 L439.5 1080.0 L440.5 1080.0 L441.5 1080.0 L442.6 1080.0 L443.6 1080.0 L444.7 1080.0 L445.8 1072.0 L446.9 1072.0 L448.0 1072.0 L449.1 1072.0 L450.3 1064.0 L451.5 1064.0 L452.6 1064.0 L453.8 1072.0 L455.0 1064.0 L456.3 1064.0 L457.5 1064.0 L458.7 1064.0 L459.9 1048.0 L461.1 1048.0 L462.4 1048.0 L463.6 1048.0 L464.9 1056.0 L466.2 1048.0 L467.5 1040.0 L468.9 1040.0 L470.2 1048.0 L471.6 1040.0 L473.1 1040.0 L474.6 1032.0 L476.1 1032.0 L477.7 1032.0 L479.3 1040.0 L481.0 1032.0 L482.7 1032.0 L484.3 1032.0 L486.0 1032.0 L487.6 1032.0 L489.3 1024.0 L490.8 1032.0 L492.4 1032.0 L493.8 1024.0 L495.3 1024.0 L496.7 1016.0 L498.1 1024.0 L499.5 1024.0 L500.9 1016.0 L502.3 1016.0 L503.8 1016.0 L505.3 1016.0 L506.9 1008.0 L508.6 1008.0 L510.4 1016.0 L512.2 1016.0 L514.1 1008.0 L516.0 1008.0 L517.9 1008.0 L519.9 1008.0 L521.9 1008.0 L523.9 1008.0 L525.9 1008.0 L527.9 1008.0 L529.9 1008.0 L531.8 1008.0 L533.8 1008.0 L535.8 1008.0 L537.8 1008.0 L539.9 1000.0 L541.9 1008.0 L543.9 1000.0 L545.9 1000.0 L548.0 1000.0 L550.0 1000.0 L551.9 1000.0 L553.9 1000.0 L555.9 1000.0 L557.8 1008.0 L559.7 1000.0 L561.6 1000.0 L563.4 1000.0 L565.3 1000.0 L567.2 1000.0 L569.0 992.0 L570.9 992.0 L572.7 992.0 L574.6 992.0 L576.5 992.0 L578.5 992.0 L580.4 992.0 L582.4 1000.0 L584.4 1000.0 L586.4 1000.0 L588.4 1000.0 L590.3 992.0 L592.3 998.3 L594.1 1000.0 L595.9 1000.0 L597.7 1000.0 L599.5 1000.0 L601.2 1000.0 L602.9 1008.0 L604.6 1008.0 L606.3 1008.0 L607.9 1008.0 L609.4 1008.0 L610.9 1008.0 L612.4 1008.0 L613.8 1008.0 L615.2 1008.0 L616.5 1016.0 L617.9 1016.0 L619.2 1024.0 L620.4 1024.0 L621.7 1024.0 L623.0 1032.0 L624.2 1024.0 L625.5 1032.0 L626.8 1032.0 L628.0 1032.0 L629.2 1032.0 L630.5 1040.0 L631.7 1040.0 L632.9 1040.0 L634.0 1040.0 L635.2 1040.0 L636.3 1048.0 L637.4 1048.0 L638.5 1048.0 L639.6 1048.0 L640.6 1056.0 L641.6 1056.0 L642.6 1056.0 L643.6 1056.0 L644.6 1056.0 L645.5 1056.0 L646.4 1064.0 L647.3 1064.0 L648.2 1064.0 L649.0 1064.0 L649.9 1064.0 L650.7 1072.0 L651.5 1072.0 L652.3 1072.0 L653.1 1072.0 L653.9 1080.0 L654.6 1072.0 L655.3 1072.0 L656.0 1080.0 L656.7 1080.0 L657.4 1080.0 L658.1 1088.0 L658.8 1096.0 L659.6 1096.0 L660.3 1096.0 L661.2 1096.0 L662.0 1096.0 L662.9 1096.0 L663.7 1096.0 L664.6 1104.0 L665.5 1104.0 L666.5 1104.0 L667.4 1104.0 L668.3 1104.0 L669.3 1112.0 L670.2 1112.0 L671.2 1112.0 L672.1 1120.0 L673.1 1120.0 L674.0 1120.0 L675.0 1128.0 L676.0 1120.0 L677.1 1120.0 L678.2 1120.0 L679.4 1128.0 L680.7 1136.0 L682.0 1136.0 L683.5 1136.0 L685.1 1136.0 L686.7 1136.0 L688.3 1136.0 L690.0 1136.0 L691.6 1144.0 L693.3 1136.0 L694.9 1144.0 L696.4 1144.0 L697.9 1144.0 L699.3 1152.0 L700.7 1152.0 L702.0 1144.0 L703.4 1144.0 L704.7 1144.0 L706.1 1160.0 L707.5 1152.0 L709.0 1152.0 L710.6 1160.0 L712.4 1160.0 L714.2 1160.0 L716.0 1160.0 L717.9 1160.0 L719.9 1160.0 L721.8 1152.0 L723.7 1160.0 L725.6 1160.0 L727.4 1160.0 L729.1 1160.0 L730.8 1168.0 L732.4 1168.0 L734.0 1160.0 L735.6 1160.0 L737.2 1168.0 L738.8 1168.0 L740.4 1168.0 L742.0 1168.0 L743.7 1168.0 L745.5 1168.0 L747.3 1184.0 L749.1 1176.0 L751.0 1184.0 L752.8 1184.0 L754.6 1184.0 L756.3 1184.0 L758.0 1176.0 L759.6 1184.0 L761.1 1192.0 L762.6 1192.0 L764.1 1184.0 L765.5 1184.0 L767.0 1192.0 L768.6 1192.0 L770.2 1192.0 L771.9 1192.0 L773.7 1192.0 L775.6 1192.0 L777.5 1200.0 L779.4 1200.0 L781.3 1200.0 L783.2 1200.0 L785.2 1200.0 L787.1 1192.0 L789.0 1192.0 L791.0 1197.6 L793.0 1192.0 L795.1 1192.0 L797.1 1200.0 L799.2 1200.0 L801.2 1200.0 L803.3 1200.0 L805.4 1200.0 L807.4 1200.0 L809.5 1200.0 L811.5 1200.0 L813.5 1200.0 L815.5 1200.0 L817.5 1192.0 L819.4 1192.0 L821.3 1200.0 L823.2 1200.0 L825.0 1200.0 L826.7 1200.0 L828.4 1208.0 L830.1 1200.0 L831.8 1200.0 L833.4 1200.0 L835.1 1208.0 L836.7 1200.0 L838.3 1208.0 L840.0 1208.0 L841.7 1208.0 L843.4 1208.0 L845.2 1208.0 L847.0 1216.0 L848.9 1216.0 L850.8 1216.0 L852.7 1216.0 L854.6 1216.0 L856.5 1216.0 L858.5 1216.0 L860.5 1216.0 L862.4 1216.0 L864.4 1216.0 L866.4 1224.0 L868.3 1216.0 L870.3 1216.0 L872.2 1224.0 L874.1 1224.0 L876.0 1224.0 L877.9 1224.0 L879.8 1216.0 L881.7 1216.0 L883.5 1216.0 L885.4 1232.0 L887.3 1224.0 L889.1 1232.0 L891.0 1224.0 L892.9 1224.0 L894.7 1224.0 L896.6 1232.0 L898.5 1232.0 L900.3 1232.0 L902.2 1232.0 L904.1 1232.0 L906.0 1232.0 L907.8 1232.0 L909.7 1240.0 L911.6 1240.0 L913.5 1240.0 L915.3 1240.0 L917.2 1240.0 L919.1 1240.0 L921.0 1248.0 L922.9 1240.0 L924.8 1240.0 L926.7 1240.0 L928.7 1240.0 L930.6 1240.0 L932.5 1248.0 L934.5 1240.0 L936.5 1240.0 L938.4 1240.0 L940.4 1240.0 L942.4 1248.0 L944.3 1240.0 L946.3 1248.0 L948.3 1248.0 L950.3 1248.0 L952.3 1248.0 L954.3 1248.0 L956.2 1248.0 L958.2 1248.0 L960.2 1248.0 L962.2 1256.0 L964.1 1256.0 L966.1 1256.0 L968.1 1248.0 L970.0 1248.0 L972.0 1240.0 L973.9 1248.0 L975.9 1248.0 L977.8 1248.0 L979.8 1256.0 L981.8 1248.0 L983.7 1248.0 L985.7 1248.0 L987.6 1256.0 L989.6 1256.0 L991.6 1256.0 L993.5 1256.0 L995.5 1256.0 L997.4 1256.0 L999.4 1256.0 L1001.4 1256.0 L1003.3 1248.0 L1005.3 1256.0 L1007.3 1256.0 L1009.2 1256.0 L1011.2 1256.0 L1013.2 1256.0 L1015.1 1256.0 L1017.1 1256.0 L1019.0 1256.0 L1021.0 1256.0 L1022.9 1256.0 L1024.9 1264.0 L1026.8 1264.0 L1028.8 1256.0 L1030.8 1256.0 L1032.7 1264.0 L1034.7 1264.0 L1036.6 1264.0 L1038.6 1256.0 L1040.6 1256.0 L1042.5 1256.0 L1044.5 1256.0 L1046.5 1256.0 L1048.5 1272.0 L1050.4 1272.0 L1052.4 1264.0 L1054.4 1264.0 L1056.4 1264.0 L1058.4 1264.0 L1060.4 1264.0 L1062.4 1264.0 L1064.4 1264.0 L1066.3 1264.0 L1068.3 1264.0 L1070.3 1272.0 L1072.3 1264.0 L1074.3 1272.0 L1076.3 1272.0 L1078.3 1272.0 L1080.3 1278.7 L1082.3 1272.0 L1084.3 1272.0 L1086.3 1272.0 L1088.3 1272.0 L1090.2 1272.0 L1092.2 1272.0 L1094.2 1272.0 L1096.2 1272.0 L1098.2 1272.0 L1100.2 1272.0 L1102.2 1264.0 L1104.2 1264.0 L1106.2 1272.0 L1108.2 1272.0 L1110.2 1272.0 L1112.2 1264.0 L1114.2 1264.0 L1116.2 1264.0 L1118.2 1273.5 L1120.1 1272.0 L1122.1 1272.0 L1124.1 1280.0 L1126.1 1280.0 L1128.1 1272.0 L1130.1 1272.0 L1132.1 1272.0 L1134.1 1272.0 L1136.1 1272.0 L1138.1 1272.0 L1140.1 1272.0 L1142.1 1272.0 L1144.1 1272.0 L1146.0 1280.0 L1148.0 1280.0 L1150.0 1280.0 L1152.0 1280.0 L1154.0 1272.0 L1156.0 1272.0 L1158.0 1280.0 L1159.9 1280.0 L1161.9 1280.0 L1163.9 1280.0 L1165.9 1272.0 L1167.9 1272.0 L1169.8 1280.0 L1171.8 1272.0 L1173.8 1272.0 L1175.8 1272.0 L1177.7 1280.0 L1179.7 1280.0 L1181.7 1280.0 L1183.7 1280.0 L1185.7 1280.0 L1187.7 1280.0 L1189.7 1280.0 L1191.7 1280.0 L1193.7 1280.0 L1195.7 1280.0 L1197.7 1280.0 L1199.7 1280.0 L1201.7 1280.0 L1203.7 1280.0 L1205.7 1280.0 L1207.7 1280.0 L1209.7 1280.0 L1211.7 1280.0 L1213.7 1280.0 L1215.7 1280.0 L1217.7 1280.0 L1219.7 1280.0 L1221.7 1280.0 L1223.7 1280.0 L1225.7 1288.0 L1227.7 1272.0 L1229.7 1284.0 L1231.7 1280.0 L1233.7 1280.0 L1235.7 1280.0 L1237.7 1280.0 L1239.7 1280.0 L1241.7 1288.0 L1243.7 1280.0 L1245.7 1288.0 L1247.7 1288.0 L1249.7 1288.0 L1251.7 1280.0 L1253.7 1280.0 L1255.7 1280.0 L1257.7 1280.0 L1259.7 1280.0 L1261.7 1272.0 L1263.7 1280.0 L1265.7 1280.0 L1267.7 1280.0 L1269.7 1272.0 L1271.7 1280.0 L1273.7 1280.0 L1275.7 1280.0 L1277.7 1280.0 L1279.7 1280.0 L1281.7 1272.0 L1283.7 1272.0 L1285.7 1272.0 L1287.7 1272.0 L1289.7 1272.0 L1291.7 1280.0 L1293.7 1272.0 L1295.7 1272.0 L1297.7 1272.0 L1299.7 1272.0 L1301.7 1288.0 L1303.7 1280.0 L1305.7 1280.0 L1307.7 1280.0 L1309.7 1280.0 L1311.7 1280.0 L1313.7 1280.0 L1315.7 1280.0 L1317.7 1280.0 L1319.7 1288.0 L1321.7 1288.0 L1323.7 1272.0 L1325.7 1272.0 L1327.7 1280.0 L1329.7 1272.0 L1331.7 1272.0 L1333.7 1280.0 L1335.7 1280.0 L1337.7 1280.0 L1339.7 1288.0 L1341.7 1280.0 L1343.7 1280.0 L1345.7 1280.0 L1347.7 1272.0 L1349.7 1280.0 L1351.7 1280.0 L1353.7 1280.0 L1355.7 1272.0 L1357.7 1272.0 L1359.7 1280.0 L1361.7 1280.0 L1363.7 1280.0 L1365.7 1280.0 L1367.7 1280.0 L1369.7 1280.0 L1371.7 1280.0 L1373.7 1280.0 L1375.7 1280.0 L1377.7 1280.0 L1379.7 1280.0 L1381.7 1288.0 L1383.7 1288.0 L1385.7 1288.0 L1387.8 1272.0 L1389.8 1272.0 L1391.8 1272.0 L1393.8 1272.0 L1395.8 1272.0 L1397.8 1280.0 L1399.8 1288.0 L1401.8 1280.0 L1403.8 1280.0 L1405.8 1280.0 L1407.8 1280.0 L1409.8 1280.0 L1411.8 1280.0 L1413.8 1280.0 L1415.8 1280.0 L1417.8 1272.0 L1419.8 1280.0 L1421.8 1272.0 L1423.8 1280.0 L1425.8 1272.0 L1427.8 1280.0 L1429.8 1280.0 L1431.8 1280.0 L1433.8 1272.0 L1435.8 1272.0 L1437.8 1272.0 L1439.8 1280.0 L1441.8 1280.0 L1443.8 1272.0 L1445.8 1272.0 L1447.8 1280.0 L1449.8 1280.0 L1451.8 1280.0 L1453.8 1293.3 L1455.8 1276.9 L1457.8 1280.0 L1459.8 1272.0 L1461.8 1272.0 L1463.8 1272.0 L1465.8 1280.0 L1467.8 1272.0 L1469.8 1280.0 L1471.8 1280.0 L1473.8 1280.0 L1475.8 1280.0 L1477.8 1280.0 L1479.8 1280.0 L1481.8 1280.0 L1483.8 1280.0 L1485.8 1272.0 L1487.8 1272.0 L1489.8 1272.0 L1491.8 1272.0 L1493.8 1280.0 L1495.8 1280.0 L1497.8 1280.0 L1499.8 1280.0 L1501.8 1280.0 L1503.8 1288.0 L1505.8 1280.0 L1507.8 1280.0 L1509.8 1280.0 L1511.8 1272.0 L1513.8 1272.0 L1515.8 1272.0 L1517.8 1280.0 L1519.8 1272.0 L1521.8 1280.0 L1523.8 1280.0 L1525.8 1272.0 L1527.8 1288.0 L1529.8 1288.0 L1531.8 1280.0 L1533.8 1280.0 L1535.8 1280.0 L1537.8 1288.0 L1539.9 1280.0 L1541.9 1280.0 L1543.9 1280.0 L1545.9 1280.0 L1547.9 1280.0 L1549.9 1280.0 L1551.9 1280.0 L1553.9 1280.0 L1555.9 1280.0 L1557.9 1280.0 L1559.9 1288.0 L1561.9 1288.0 L1563.9 1280.0 L1565.9 1288.0 L1567.9 1280.0 L1569.9 1288.0 L1571.9 1288.0 L1573.9 1288.0 L1575.9 1280.0 L1577.9 1280.0 L1579.9 1280.0 L1581.9 1280.0 L1583.9 1280.0 L1585.9 1280.0 L1587.9 1280.0 L1589.9 1280.0 L1591.9 1280.0 L1593.9 1280.0 L1595.9 1272.0 L1597.9 1280.0 L1599.9 1280.0 L1601.9 1288.0 L1603.9 1280.0 L1605.9 1280.0 L1607.9 1288.0 L1609.9 1280.0 L1611.9 1280.0 L1613.9 1280.0 L1615.9 1280.0 L1617.9 1280.0 L1619.9 1288.0 L1621.9 1288.0 L1623.9 1288.0 L1625.9 1280.0 L1627.9 1280.0 L1629.9 1280.0 L1631.9 1280.0 L1633.9 1288.0 L1635.9 1280.0 L1637.9 1280.0 L1639.9 1288.0 L1641.9 1280.0 L1643.9 1288.0 L1645.9 1280.0 L1647.9 1280.0 L1649.9 1280.0 L1651.9 1280.0 L1653.9 1280.0 L1655.9 1280.0 L1657.9 1288.0 L1659.9 1280.0 L1661.9 1280.0 L1663.9 1280.0 L1665.9 1280.0 L1667.9 1280.0 L1669.9 1280.0 L1671.9 1288.0 L1673.9 1288.0 L1675.9 1288.0 L1677.9 1288.0 L1679.9 1288.0 L1681.9 1280.0 L1683.9 1280.0 L1685.9 1280.0 L1687.9 1280.0 L1689.9 1280.0 L1691.9 1280.0 L1693.9 1280.0 L1695.9 1288.0 L1697.9 1280.0 L1699.9 1280.0 L1701.9 1280.0 L1703.9 1280.0 L1705.9 1280.0 L1707.9 1280.0 L1709.9 1288.0 L1711.9 1280.0 L1713.9 1280.0 L1715.9 1288.0 L1717.9 1280.0 L1719.9 1280.0 L1721.9 1288.0 L1723.9 1280.0 L1725.9 1280.0 L1727.9 1280.0 L1729.9 1280.0 L1731.9 1280.0 L1733.9 1280.0 L1735.9 1288.0 L1737.9 1288.0 L1739.9 1280.0 L1741.9 1280.0 L1743.9 1288.0 L1745.9 1288.0 L1748.0 1288.0 L1750.0 1280.0 L1752.0 1280.0 L1754.0 1288.0 L1756.0 1288.0 L1758.0 1288.0 L1760.0 1288.0 L1762.0 1288.0 L1764.0 1280.0 L1766.0 1288.0 L1768.0 1288.0 L1770.0 1280.0 L1772.0 1280.0 L1774.0 1288.0 L1776.0 1288.0 L1778.0 1288.0 L1780.0 1280.0 L1782.0 1288.0 L1784.0 1280.0 L1786.0 1280.0 L1788.0 1280.0 L1790.0 1288.0 L1792.0 1288.0 L1794.0 1291.7 L1796.0 1280.0 L1798.0 1280.0 L1800.0 1280.0 L1802.0 1288.0 L1804.0 1288.0 L1806.0 1288.0 L1808.0 1288.0 L1810.0 1288.0 L1812.0 1280.0 L1814.0 1280.0 L1816.0 1280.0 L1818.0 1280.0 L1820.0 1280.0 L1822.0 1280.0 L1824.0 1280.0 L1826.0 1288.0 L1828.0 1288.0 L1830.0 1288.0 L1832.0 1280.0 L1834.0 1280.0 L1836.0 1288.0 L1838.0 1280.0 L1840.0 1280.0 L1842.0 1280.0 L1844.0 1288.0 L1846.0 1280.0 L1848.0 1288.0 L1849.9 1280.0 L1851.9 1280.0 L1853.9 1288.0 L1855.9 1280.0 L1857.9 1280.0 L1859.9 1280.0 L1861.9 1280.0 L1863.9 1280.0 L1865.9 1280.0 L1867.9 1280.0 L1869.9 1280.0 L1871.9 1280.0 L1873.8 1272.0 L1875.8 1272.0 L1877.8 1280.0 L1879.8 1280.0 L1881.8 1280.0 L1883.8 1280.0 L1885.8 1280.0 L1887.8 1280.0 L1889.7 1280.0 L1891.7 1272.0 L1893.7 1272.0 L1895.7 1272.0 L1897.7 1280.0 L1899.7 1272.0 L1901.7 1272.0 L1903.6 1272.0 L1905.6 1280.0 L1907.6 1272.0 L1909.6 1280.0 L1911.6 1280.0 L1913.6 1272.0 L1915.6 1280.0 L1917.5 1272.0 L1919.5 1272.0 L1921.5 1272.0 L1923.5 1272.0 L1925.5 1272.0 L1927.5 1272.0 L1929.5 1280.0 L1931.4 1272.0 L1933.4 1276.3 L1935.4 1280.0 L1937.4 1264.0 L1939.4 1272.0 L1941.4 1272.0 L1943.4 1272.0 L1945.4 1264.0 L1947.4 1272.0 L1949.4 1264.0 L1951.3 1272.0 L1953.3 1272.0 L1955.3 1272.0 L1957.3 1272.0 L1959.3 1272.0 L1961.3 1272.0 L1963.3 1264.0 L1965.3 1264.0 L1967.3 1264.0 L1969.3 1264.0 L1971.3 1264.0 L1973.3 1272.0 L1975.3 1272.0 L1977.3 1264.0 L1979.3 1272.0 L1981.3 1264.0 L1983.3 1264.0 L1985.3 1264.0 L1987.3 1272.0 L1989.3 1264.0 L1991.3 1264.0 L1993.3 1272.0 L1995.3 1264.0 L1997.3 1272.0 L1999.3 1264.0 L2001.3 1264.0 L2003.3 1264.0 L2005.3 1264.0 L2007.3 1264.0 L2009.3 1272.0 L2011.3 1272.0 L2013.3 1272.0 L2015.3 1264.0 L2017.3 1272.0 L2019.3 1264.0 L2021.3 1264.0 L2023.3 1264.0 L2025.3 1272.0 L2027.3 1272.0 L2029.3 1264.0 L2031.3 1264.0 L2033.3 1258.2 L2035.3 1264.0 L2037.3 1264.0 L2039.3 1264.0 L2041.3 1264.0 L2043.3 1272.0 L2045.3 1264.0" fill="none" stroke="#FFA3A3" stroke-width="13" stroke-linecap="round" stroke-linejoin="round"/>
<path d="M327.8 1792.0 L327.9 1790.0 L328.1 1788.0 L328.2 1786.0 L328.4 1784.0 L328.5 1782.0 L328.7 1780.0 L328.8 1778.0 L329.0 1776.0 L329.1 1774.0 L329.3 1772.0 L329.4 1770.0 L329.5 1768.0 L329.7 1766.1 L329.8 1764.1 L330.0 1762.1 L330.1 1760.1 L330.3 1758.1 L330.4 1756.1 L330.6 1754.1 L330.7 1752.1 L330.8 1750.1 L331.0 1748.1 L331.1 1746.1 L331.3 1744.1 L331.4 1742.1 L331.6 1740.1 L331.7 1738.1 L331.9 1736.1 L332.0 1734.1 L332.2 1732.1 L332.3 1730.1 L332.4 1728.1 L332.6 1726.1 L332.7 1724.1 L332.9 1722.1 L333.0 1720.1 L333.2 1718.2 L333.3 1716.2 L333.5 1714.2 L333.6 1712.2 L333.8 1710.2 L333.9 1708.2 L334.1 1706.2 L334.2 1704.2 L334.4 1702.2 L334.5 1700.2 L334.7 1698.2 L334.8 1696.2 L335.0 1694.2 L335.1 1692.2 L335.3 1690.2 L335.5 1688.2 L335.6 1686.2 L335.8 1684.2 L335.9 1682.3 L336.1 1680.2 L336.2 1678.2 L336.4 1676.3 L336.5 1674.2 L336.7 1672.2 L336.8 1670.3 L337.0 1668.4 L337.1 1666.4 L337.3 1664.3 L337.5 1662.2 L337.6 1660.3 L337.8 1658.1 L337.9 1656.2 L338.1 1654.3 L338.2 1652.4 L338.4 1650.2 L338.5 1648.3 L338.7 1646.1 L338.9 1644.2 L339.0 1642.3 L339.2 1640.4 L339.3 1638.2 L339.5 1636.3 L339.7 1634.4 L339.8 1632.6 L340.0 1630.3 L340.1 1628.0 L340.3 1626.1 L340.5 1624.3 L340.6 1622.0 L340.8 1620.1 L340.9 1618.8 L341.1 1615.9 L341.2 1614.7 L341.4 1612.4 L341.6 1610.5 L341.7 1608.1 L341.9 1606.3 L342.0 1604.5 L342.2 1602.7 L342.4 1600.9 L342.5 1598.5 L342.7 1596.7 L342.9 1594.3 L343.0 1592.5 L343.2 1590.8 L343.3 1588.3 L343.5 1586.5 L343.7 1584.0 L343.8 1582.3 L344.0 1581.3 L344.2 1578.0 L344.3 1576.3 L344.5 1574.5 L344.6 1572.8 L344.8 1571.1 L345.0 1568.5 L345.1 1566.8 L345.3 1564.2 L345.5 1561.6 L345.7 1559.9 L345.8 1558.2 L346.0 1556.5 L346.2 1554.9 L346.3 1553.2 L346.5 1550.5 L346.7 1548.9 L346.9 1546.2 L347.0 1545.6 L347.2 1542.9 L347.4 1541.3 L347.6 1538.5 L347.7 1536.9 L347.9 1535.3 L348.1 1532.5 L348.3 1530.9 L348.5 1528.2 L348.6 1526.5 L348.8 1524.9 L349.0 1522.1 L349.2 1520.5 L349.4 1517.7 L349.6 1516.1 L349.8 1514.5 L350.0 1513.0 L350.2 1508.6 L350.3 1508.5 L350.5 1507.0 L350.7 1505.4 L350.9 1502.5 L351.1 1501.0 L351.3 1499.5 L351.5 1496.5 L351.7 1493.5 L351.9 1492.0 L352.1 1492.0 L352.3 1487.3 L352.5 1487.5 L352.7 1486.0 L352.9 1483.0 L353.1 1481.5 L353.3 1478.5 L353.5 1477.0 L353.7 1475.6 L353.9 1474.1 L354.1 1471.0 L354.3 1469.6 L354.5 1468.1 L354.7 1465.0 L354.9 1465.5 L355.1 1462.2 L355.3 1460.8 L355.5 1457.8 L355.7 1454.4 L355.9 1451.2 L356.2 1449.8 L356.4 1448.4 L356.6 1445.1 L356.8 1443.7 L357.0 1444.3 L357.2 1441.0 L357.5 1439.7 L357.7 1438.3 L357.9 1437.0 L358.1 1431.7 L358.3 1432.3 L358.5 1429.0 L358.7 1427.7 L358.9 1424.3 L359.0 1423.0 L359.2 1419.6 L359.4 1418.3 L359.5 1417.0 L359.7 1415.7 L359.8 1412.2 L360.0 1413.1 L360.1 1407.5 L360.2 1408.4 L360.3 1407.1 L360.4 1403.6 L360.6 1402.4 L360.7 1398.9 L360.8 1395.4 L360.8 1394.1 L360.9 1392.9 L361.0 1391.6 L361.1 1392.3 L361.2 1388.8 L361.2 1385.6 L361.3 1384.3 L361.4 1383.1 L361.5 1379.5 L361.5 1378.3 L361.6 1374.8 L361.6 1371.2 L361.7 1370.0 L361.7 1371.0 L361.8 1367.5 L361.9 1363.9 L361.9 1362.7 L362.0 1361.4 L362.0 1360.2 L362.1 1359.0 L362.1 1355.4 L362.2 1351.8 L362.2 1350.6 L362.3 1349.4 L362.4 1348.2 L362.4 1347.0 L362.5 1343.4 L362.6 1342.1 L362.6 1340.9 L362.7 1342.8 L362.8 1336.1 L362.9 1332.5 L362.9 1331.3 L363.0 1330.1 L363.1 1328.9 L363.2 1325.3 L363.3 1324.1 L363.4 1320.4 L363.4 1319.2 L363.5 1315.7 L363.6 1314.4 L363.7 1310.7 L363.7 1309.5 L363.8 1308.3 L363.9 1303.9 L364.0 1306.0 L364.0 1304.8 L364.1 1303.7 L364.2 1297.4 L364.3 1296.3 L364.3 1295.1 L364.4 1293.9 L364.5 1290.2 L364.6 1289.1 L364.7 1287.9 L364.8 1286.8 L364.8 1285.6 L364.9 1281.9 L365.0 1278.1 L365.1 1278.8 L365.2 1273.2 L365.3 1269.3 L365.5 1271.0 L365.6 1267.2 L365.7 1268.7 L365.8 1264.9 L366.0 1261.1 L366.1 1262.7 L366.2 1258.9 L366.4 1255.1 L366.5 1254.0 L366.7 1252.9 L366.9 1251.8 L367.1 1250.7 L367.2 1246.8 L367.4 1242.9 L367.6 1241.9 L367.8 1238.0 L368.0 1236.9 L368.2 1235.8 L368.4 1234.8 L368.6 1233.7 L368.8 1229.8 L369.0 1231.7 L369.2 1227.7 L369.5 1226.7 L369.7 1225.7 L369.9 1221.7 L370.2 1220.7 L370.4 1216.7 L370.6 1216.4 L370.9 1211.6 L371.1 1210.6 L371.3 1206.5 L371.6 1208.7 L371.8 1204.6 L372.1 1203.7 L372.3 1202.7 L372.6 1198.6 L372.8 1197.6 L373.1 1196.7 L373.3 1192.5 L373.6 1191.6 L373.8 1187.4 L374.1 1189.9 L374.3 1185.6 L374.6 1184.7 L374.8 1180.4 L375.0 1176.1 L375.3 1175.2 L375.5 1177.9 L375.8 1173.5 L376.1 1172.7 L376.3 1171.9 L376.6 1167.5 L376.9 1166.7 L377.1 1165.9 L377.4 1161.5 L377.7 1160.7 L377.9 1159.9 L378.2 1155.4 L378.5 1154.7 L378.8 1153.9 L379.1 1149.4 L379.4 1148.7 L379.6 1148.0 L379.9 1147.3 L380.2 1142.7 L380.5 1142.0 L380.8 1137.3 L381.1 1136.6 L381.4 1136.0 L381.7 1131.3 L382.0 1130.6 L382.3 1130.0 L382.5 1125.2 L382.8 1124.6 L383.1 1124.0 L383.4 1123.4 L383.7 1122.8 L384.0 1118.0 L384.3 1113.1 L384.6 1112.5 L384.9 1112.0 L385.2 1107.0 L385.4 1102.1 L385.7 1101.5 L386.0 1101.0 L386.3 1096.0 L386.6 1095.4 L386.9 1094.9 L387.1 1094.4 L387.4 1093.9 L387.7 1088.8 L388.0 1088.4 L388.2 1087.9 L388.5 1082.8 L388.7 1082.3 L389.0 1081.8 L389.3 1081.4 L389.5 1076.2 L389.8 1075.8 L390.0 1070.6 L390.3 1075.0 L390.6 1069.8 L390.9 1069.4 L391.1 1069.0 L391.4 1063.7 L391.7 1058.4 L392.0 1058.1 L392.3 1057.7 L392.6 1052.4 L392.9 1052.0 L393.1 1051.7 L393.4 1051.3 L393.7 1045.9 L394.0 1045.6 L394.3 1045.3 L394.6 1045.0 L394.8 1039.6 L395.1 1039.3 L395.4 1033.8 L395.6 1033.5 L395.9 1028.0 L396.1 1027.7 L396.4 1027.4 L396.6 1021.9 L396.8 1021.6 L397.0 1021.4 L397.2 1015.8 L397.4 1015.5 L397.6 1015.3 L397.7 1009.7 L397.9 1009.5 L398.0 1009.3 L398.2 1003.6 L398.3 1003.4 L398.4 1003.2 L398.5 1003.0 L398.5 1003.9 L398.6 991.6 L398.6 996.9 L398.6 991.2 L398.6 991.0 L398.6 985.3 L398.6 985.2 L398.5 985.0 L398.5 984.8 L398.5 979.1 L398.4 978.9 L398.4 973.2 L398.4 973.0 L398.4 978.3 L398.5 972.6 L398.5 966.9 L398.6 966.7 L398.6 966.6 L398.7 960.9 L398.8 960.7 L398.9 954.9 L399.0 961.7 L399.1 953.2 L399.2 954.4 L399.3 961.1 L399.5 948.5 L399.6 942.8 L399.7 942.6 L399.9 948.1 L400.1 942.3 L400.2 936.5 L400.4 942.0 L400.6 936.2 L400.7 930.4 L400.9 930.3 L401.1 930.2 L401.3 924.3 L401.5 924.2 L401.7 924.1 L402.0 924.0 L402.2 918.1 L402.4 912.2 L402.6 918.0 L402.9 912.0 L403.2 912.0 L403.4 906.0 L403.7 905.9 L404.0 905.9 L404.3 899.9 L404.6 892.9 L405.0 899.8 L405.3 899.8 L405.6 893.8 L405.9 893.8 L406.3 893.8 L406.6 887.7 L406.9 887.7 L407.2 881.6 L407.6 881.6 L407.9 881.6 L408.2 881.6 L408.5 881.6 L408.8 881.6 L409.0 875.5 L409.3 875.5 L409.5 875.5 L409.8 869.4 L410.0 869.4 L410.2 863.4 L410.4 863.4 L410.6 857.3 L410.8 857.3 L411.0 857.3 L411.2 857.3 L411.4 857.3 L411.6 851.2 L411.7 845.1 L411.9 845.1 L412.1 845.1 L412.3 839.0 L412.4 839.0 L412.6 839.0 L412.8 833.0 L413.0 833.0 L413.2 833.0 L413.4 826.9 L413.6 826.9 L413.8 820.8 L414.0 820.8 L414.2 820.8 L414.4 820.8 L414.7 814.7 L414.9 814.7 L415.1 814.7 L415.4 808.6 L415.6 808.6 L415.9 808.6 L416.1 808.6 L416.3 802.6 L416.6 796.5 L416.8 796.5 L417.1 796.5 L417.3 796.5 L417.6 796.5 L417.9 796.5 L418.2 790.4 L418.4 797.6 L418.7 784.3 L419.0 784.3 L419.3 778.2 L419.6 778.2 L419.9 772.2 L420.3 782.9 L420.6 772.2 L420.9 772.2 L421.3 772.2 L421.6 766.1 L422.0 772.2 L422.4 766.1 L422.7 760.0 L423.1 760.0 L423.5 760.0 L423.9 753.9 L424.3 753.9 L424.7 753.9 L425.1 747.8 L425.5 747.8 L425.9 747.8 L426.3 747.8 L426.8 741.8 L427.2 741.8 L427.6 741.8 L428.1 735.7 L428.5 729.6 L428.9 729.6 L429.4 729.6 L429.9 723.5 L430.3 729.6 L430.8 717.0 L431.3 717.4 L431.8 717.4 L432.3 717.4 L432.8 717.4 L433.3 717.4 L433.8 724.9 L434.3 705.3 L434.8 705.3 L435.2 705.3 L435.7 705.3 L436.2 705.3 L436.7 705.3 L437.1 699.2 L437.6 699.2 L438.0 699.2 L438.4 693.1 L438.8 693.1 L439.2 687.0 L439.6 693.1 L440.0 693.1 L440.5 687.0 L441.0 687.0 L441.5 681.0 L442.0 674.9 L442.6 674.9 L443.2 668.8 L443.8 668.8 L444.6 668.8 L445.3 668.8 L446.1 668.8 L447.0 668.8 L447.8 662.7 L448.7 662.7 L449.6 662.7 L450.5 656.6 L451.4 656.6 L452.3 656.6 L453.2 656.6 L454.0 656.6 L454.9 644.5 L455.7 644.5 L456.6 650.6 L457.4 644.5 L458.3 644.5 L459.2 644.5 L460.0 638.4 L461.0 638.4 L461.9 638.4 L462.9 626.2 L464.0 632.3 L465.0 626.2 L466.1 632.3 L467.2 626.2 L468.3 626.2 L469.5 620.2 L470.7 626.2 L471.9 620.2 L473.2 614.1 L474.4 620.2 L475.8 620.2 L477.1 620.2 L478.4 614.1 L479.8 608.0 L481.3 608.0 L482.7 608.0 L484.2 601.9 L485.8 601.9 L487.3 601.9 L489.0 608.0 L490.6 601.9 L492.3 595.8 L494.0 595.8 L495.8 595.8 L497.6 595.8 L499.4 595.8 L501.3 595.8 L503.2 595.8 L505.2 595.8 L507.2 595.8 L509.2 595.8 L511.3 595.8 L513.3 595.8 L515.4 595.8 L517.4 595.8 L519.3 595.8 L521.2 595.8 L523.1 595.8 L525.1 595.8 L526.9 595.8 L528.8 595.8 L530.6 601.9 L532.3 608.0 L533.9 601.9 L535.4 601.9 L536.8 601.9 L538.1 601.9 L539.4 608.0 L540.5 614.1 L541.7 614.1 L542.8 620.2 L544.0 620.2 L545.2 620.2 L546.4 618.4 L547.7 620.2 L549.2 620.2 L550.7 620.2 L552.3 626.2 L553.9 626.2 L555.5 626.2 L557.1 632.3 L558.7 632.3 L560.1 632.3 L561.4 632.3 L562.6 632.3 L563.7 638.4 L564.6 638.4 L565.5 638.4 L566.3 638.4 L567.0 638.4 L567.7 638.4 L568.3 644.5 L568.9 644.5 L569.6 656.6 L570.2 656.6 L570.8 650.6 L571.4 656.6 L572.0 662.7 L572.5 656.6 L573.0 662.7 L573.4 668.8 L573.9 668.8 L574.3 668.8 L574.8 668.8 L575.2 674.9 L575.6 674.9 L576.1 674.9 L576.6 681.0 L577.0 674.9 L577.5 674.9 L577.9 681.0 L578.3 687.0 L578.8 687.0 L579.2 687.0 L579.6 687.0 L580.0 687.0 L580.5 693.1 L580.9 699.2 L581.4 705.3 L581.9 699.2 L582.4 699.2 L582.9 705.3 L583.5 705.3 L584.1 705.3 L584.7 711.4 L585.3 705.3 L586.0 717.4 L586.6 717.4 L587.3 723.5 L587.9 723.5 L588.6 723.5 L589.2 723.5 L589.9 729.6 L590.5 729.6 L591.1 729.6 L591.8 735.7 L592.4 735.7 L593.0 746.8 L593.7 741.8 L594.3 741.8 L594.9 741.8 L595.6 747.8 L596.2 747.8 L596.9 747.8 L597.5 747.8 L598.1 753.9 L598.8 753.9 L599.4 753.9 L600.1 760.0 L600.7 760.0 L601.4 753.9 L602.0 760.0 L602.7 766.1 L603.3 766.1 L604.0 772.2 L604.6 772.2 L605.2 778.2 L605.8 778.2 L606.4 778.2 L607.0 778.2 L607.5 778.2 L608.0 778.2 L608.6 778.2 L609.1 790.4 L609.6 790.4 L610.1 790.4 L610.6 790.4 L611.1 790.4 L611.5 790.4 L612.0 796.5 L612.6 802.6 L613.1 802.6 L613.6 802.6 L614.1 802.6 L614.6 802.6 L615.1 808.6 L615.7 808.6 L616.2 808.6 L616.7 808.6 L617.2 814.7 L617.7 826.7 L618.3 820.8 L618.8 820.8 L619.3 820.8 L619.8 820.8 L620.3 820.8 L620.8 833.0 L621.3 833.0 L621.8 839.0 L622.4 839.0 L622.9 839.0 L623.4 839.0 L623.9 839.0 L624.4 839.0 L624.9 839.0 L625.5 845.1 L626.0 851.2 L626.4 845.1 L626.9 851.2 L627.3 851.2 L627.8 851.2 L628.2 857.3 L628.8 863.4 L629.3 863.4 L629.9 863.4 L630.6 869.4 L631.4 863.4 L632.2 875.5 L633.2 875.5 L634.2 875.5 L635.3 875.5 L636.4 875.5 L637.6 875.5 L638.8 881.6 L640.0 875.5 L641.2 881.6 L642.3 881.6 L643.5 887.7 L644.7 887.7 L645.9 887.7 L647.1 881.2 L648.4 887.7 L649.6 883.4 L650.9 899.8 L652.1 899.8 L653.4 899.8 L654.6 899.8 L655.7 905.9 L656.9 905.9 L658.0 905.9 L659.0 912.0 L660.0 905.9 L660.9 905.9 L661.9 905.9 L662.8 918.1 L663.7 918.1 L664.5 918.1 L665.4 918.1 L666.2 918.1 L667.0 924.2 L667.9 924.2 L668.7 930.2 L669.6 924.2 L670.5 930.2 L671.4 930.2 L672.2 930.2 L673.1 936.3 L674.0 936.3 L674.9 936.3 L675.7 942.4 L676.6 942.4 L677.5 948.5 L678.4 942.4 L679.3 948.5 L680.2 948.5 L681.1 948.5 L682.0 954.6 L683.0 960.6 L683.9 960.6 L684.9 956.6 L685.9 966.7 L686.9 960.6 L687.9 966.7 L688.9 966.7 L689.9 966.7 L690.9 966.7 L692.0 972.8 L693.0 966.7 L694.1 972.8 L695.1 972.8 L696.2 978.9 L697.3 978.9 L698.3 978.9 L699.4 978.9 L700.5 985.0 L701.7 991.0 L702.8 985.0 L704.0 985.0 L705.2 991.0 L706.4 997.1 L707.6 991.0 L708.7 1002.3 L709.9 997.1 L711.0 997.1 L712.2 997.1 L713.2 997.1 L714.3 1003.2 L715.3 1003.2 L716.3 1009.3 L717.2 1009.3 L718.1 1009.3 L719.0 1015.4 L719.9 1009.3 L720.8 1015.4 L721.7 1021.4 L722.7 1021.4 L723.7 1027.5 L724.8 1027.5 L726.0 1027.5 L727.2 1032.6 L728.4 1027.5 L729.7 1027.5 L731.0 1027.5 L732.3 1041.4 L733.6 1033.6 L735.0 1039.5 L736.4 1039.7 L737.7 1039.7 L739.1 1039.7 L740.5 1039.7 L741.9 1045.8 L743.3 1039.7 L744.6 1045.8 L746.0 1051.8 L747.4 1045.8 L748.8 1045.8 L750.3 1051.8 L751.7 1051.8 L753.2 1051.8 L754.7 1057.9 L756.3 1051.8 L757.8 1057.9 L759.5 1057.9 L761.1 1057.9 L762.9 1064.0 L764.6 1064.0 L766.5 1064.0 L768.3 1064.0 L770.2 1064.0 L772.1 1057.9 L774.1 1064.0 L776.0 1064.0 L777.9 1064.0 L779.9 1064.0 L781.8 1064.0 L783.6 1062.3 L785.5 1070.1 L787.3 1070.1 L789.1 1070.1 L791.0 1070.1 L792.8 1076.2 L794.6 1076.2 L796.4 1076.2 L798.1 1076.2 L799.9 1076.2 L801.7 1076.2 L803.5 1076.2 L805.2 1082.2 L807.0 1082.2 L808.8 1082.2 L810.5 1082.2 L812.3 1082.2 L814.0 1082.2 L815.8 1088.3 L817.5 1088.3 L819.2 1088.3 L821.0 1088.3 L822.7 1094.4 L824.4 1094.4 L826.1 1094.4 L827.8 1094.4 L829.6 1094.4 L831.3 1094.4 L833.0 1100.5 L834.6 1100.5 L836.3 1100.5 L838.0 1094.4 L839.7 1106.6 L841.3 1106.6 L842.9 1106.6 L844.5 1106.6 L846.2 1100.5 L847.8 1106.6 L849.5 1106.6 L851.3 1106.6 L853.1 1112.6 L854.9 1112.6 L856.8 1112.6 L858.8 1112.6 L860.7 1106.6 L862.7 1106.6 L864.7 1106.6 L866.7 1106.6 L868.7 1106.6 L870.8 1112.6 L872.7 1112.6 L874.7 1112.6 L876.7 1112.6 L878.6 1112.6 L880.6 1112.6 L882.5 1112.6 L884.5 1112.6 L886.5 1112.6 L888.4 1112.6 L890.4 1112.6 L892.3 1112.6 L894.3 1118.7 L896.2 1118.7 L898.2 1118.7 L900.2 1118.7 L902.1 1118.7 L904.1 1118.7 L906.0 1118.7 L908.0 1118.7 L910.0 1118.7 L911.9 1118.7 L913.9 1118.7 L915.9 1118.7 L917.9 1118.7 L919.8 1124.8 L921.8 1118.7 L923.7 1118.7 L925.7 1124.8 L927.6 1124.8 L929.6 1124.8 L931.5 1124.8 L933.5 1124.8 L935.4 1124.8 L937.3 1124.8 L939.2 1130.2 L941.1 1124.8 L943.0 1130.9 L944.9 1130.9 L946.8 1130.9 L948.7 1130.9 L950.6 1130.9 L952.5 1130.9 L954.4 1137.0 L956.3 1130.9 L958.2 1130.9 L960.1 1137.0 L962.0 1137.0 L963.9 1137.0 L965.8 1137.0 L967.7 1137.0 L969.6 1137.0 L971.5 1137.0 L973.4 1143.0 L975.3 1137.0 L977.2 1143.0 L979.1 1143.0 L981.0 1143.0 L982.9 1137.0 L984.9 1143.0 L986.8 1143.0 L988.7 1143.0 L990.7 1143.0 L992.6 1143.0 L994.6 1143.0 L996.5 1143.0 L998.5 1143.0 L1000.4 1143.0 L1002.4 1149.1 L1004.3 1149.1 L1006.3 1143.0 L1008.3 1149.1 L1010.2 1143.0 L1012.2 1143.0 L1014.1 1143.0 L1016.1 1149.1 L1018.0 1149.1 L1020.0 1143.0 L1021.9 1155.7 L1023.9 1149.1 L1025.8 1155.2 L1027.7 1149.1 L1029.7 1149.1 L1031.6 1155.2 L1033.6 1155.2 L1035.5 1155.2 L1037.5 1149.1 L1039.4 1161.3 L1041.4 1149.1 L1043.3 1155.2 L1045.3 1155.2 L1047.3 1161.3 L1049.2 1155.2 L1051.2 1155.2 L1053.2 1155.2 L1055.2 1161.3 L1057.1 1155.2 L1059.1 1161.3 L1061.1 1161.3 L1063.1 1161.3 L1065.1 1161.3 L1067.0 1161.3 L1069.0 1161.3 L1071.0 1161.3 L1073.0 1161.3 L1075.0 1161.3 L1076.9 1161.3 L1078.9 1155.2 L1080.9 1155.2 L1082.9 1167.4 L1084.8 1167.4 L1086.8 1161.3 L1088.8 1161.3 L1090.7 1161.3 L1092.7 1161.3 L1094.7 1161.3 L1096.7 1167.4 L1098.6 1167.4 L1100.6 1167.4 L1102.6 1167.4 L1104.5 1167.4 L1106.5 1167.4 L1108.5 1161.3 L1110.4 1161.3 L1112.4 1167.4 L1114.4 1167.4 L1116.3 1167.4 L1118.3 1173.4 L1120.3 1173.4 L1122.2 1167.4 L1124.2 1167.4 L1126.2 1167.4 L1128.1 1173.4 L1130.1 1173.4 L1132.0 1173.4 L1134.0 1173.4 L1136.0 1173.4 L1137.9 1167.4 L1139.9 1173.4 L1141.9 1173.4 L1143.8 1173.4 L1145.8 1173.4 L1147.7 1179.5 L1149.7 1179.5 L1151.7 1179.5 L1153.6 1179.5 L1155.6 1179.5 L1157.5 1173.4 L1159.5 1173.4 L1161.4 1179.5 L1163.4 1179.5 L1165.4 1179.5 L1167.3 1173.4 L1169.3 1173.4 L1171.2 1185.6 L1173.2 1179.5 L1175.2 1179.5 L1177.1 1179.5 L1179.1 1179.5 L1181.0 1179.5 L1183.0 1179.5 L1184.9 1179.5 L1186.9 1179.5 L1188.8 1179.5 L1190.8 1185.6 L1192.8 1185.6 L1194.7 1185.6 L1196.7 1179.5 L1198.6 1179.5 L1200.6 1185.6 L1202.6 1185.6 L1204.5 1185.6 L1206.5 1185.6 L1208.5 1191.7 L1210.5 1191.7 L1212.5 1185.6 L1214.4 1191.7 L1216.4 1191.7 L1218.4 1185.6 L1220.3 1185.6 L1222.3 1185.6 L1224.2 1191.7 L1226.1 1191.7 L1228.0 1191.7 L1229.9 1191.7 L1231.8 1197.8 L1233.6 1191.7 L1235.5 1191.7 L1237.3 1197.8 L1239.1 1197.8 L1240.9 1197.8 L1242.7 1197.8 L1244.5 1197.8 L1246.3 1203.8 L1248.0 1197.8 L1249.8 1197.8 L1251.6 1197.8 L1253.3 1203.8 L1255.1 1203.8 L1256.8 1203.8 L1258.5 1203.8 L1260.2 1203.8 L1262.0 1209.9 L1263.7 1209.9 L1265.5 1203.8 L1267.3 1216.0 L1269.1 1216.0 L1271.0 1216.0 L1272.9 1216.0 L1274.8 1209.9 L1276.7 1216.0 L1278.7 1216.0 L1280.7 1211.2 L1282.6 1216.0 L1284.6 1216.0 L1286.7 1216.0 L1288.7 1216.0 L1290.7 1209.9 L1292.8 1216.0 L1294.8 1216.0 L1296.9 1216.0 L1298.9 1216.0 L1301.0 1216.0 L1303.0 1216.0 L1305.1 1222.1 L1307.1 1222.1 L1309.1 1216.0 L1311.2 1216.0 L1313.2 1216.0 L1315.2 1216.0 L1317.2 1209.9 L1319.2 1216.0 L1321.2 1216.0 L1323.2 1216.0 L1325.2 1216.0 L1327.2 1216.0 L1329.2 1209.9 L1331.1 1222.1 L1333.1 1222.1 L1335.1 1216.0 L1337.1 1216.0 L1339.1 1216.0 L1341.1 1216.0 L1343.1 1216.0 L1345.1 1222.1 L1347.1 1222.1 L1349.1 1222.1 L1351.1 1222.1 L1353.1 1216.0 L1355.1 1216.0 L1357.1 1216.0 L1359.1 1216.0 L1361.1 1216.0 L1363.1 1216.0 L1365.1 1222.1 L1367.0 1222.1 L1369.0 1222.1 L1371.0 1222.1 L1373.0 1216.0 L1375.0 1216.0 L1377.0 1216.0 L1379.0 1222.1 L1381.0 1216.0 L1383.0 1222.1 L1385.0 1222.1 L1387.0 1222.1 L1389.0 1228.2 L1391.0 1216.0 L1393.0 1216.0 L1395.0 1222.1 L1397.0 1222.1 L1399.0 1216.0 L1401.0 1222.1 L1403.0 1222.1 L1405.0 1222.1 L1407.0 1222.1 L1409.0 1222.1 L1411.0 1222.1 L1413.0 1222.1 L1414.9 1222.1 L1416.9 1222.1 L1418.9 1222.1 L1420.9 1222.1 L1422.9 1222.1 L1424.9 1222.1 L1426.9 1222.1 L1428.9 1228.2 L1430.9 1228.2 L1432.9 1222.1 L1434.9 1222.1 L1436.9 1222.1 L1438.9 1222.1 L1440.9 1222.1 L1442.9 1222.1 L1444.9 1222.1 L1446.9 1228.2 L1448.9 1222.1 L1450.9 1228.2 L1452.9 1222.1 L1454.9 1228.2 L1456.9 1228.2 L1458.9 1228.2 L1460.9 1228.2 L1462.9 1228.2 L1464.9 1228.2 L1466.9 1228.2 L1468.9 1228.2 L1470.8 1228.2 L1472.8 1228.2 L1474.8 1229.4 L1476.8 1222.1 L1478.8 1228.2 L1480.8 1228.2 L1482.8 1228.2 L1484.8 1228.2 L1486.8 1228.2 L1488.8 1228.2 L1490.8 1222.1 L1492.8 1240.7 L1494.8 1234.2 L1496.8 1228.2 L1498.8 1228.2 L1500.8 1228.2 L1502.8 1228.2 L1504.7 1228.2 L1506.7 1234.2 L1508.7 1228.2 L1510.7 1228.2 L1512.7 1228.2 L1514.7 1234.2 L1516.7 1234.2 L1518.7 1228.2 L1520.7 1234.2 L1522.7 1234.2 L1524.7 1234.2 L1526.7 1234.2 L1528.6 1234.2 L1530.6 1234.2 L1532.6 1234.2 L1534.6 1234.2 L1536.6 1234.2 L1538.6 1234.2 L1540.6 1234.2 L1542.6 1234.2 L1544.5 1240.3 L1546.5 1240.3 L1548.5 1234.2 L1550.5 1234.2 L1552.5 1234.2 L1554.5 1234.2 L1556.5 1234.2 L1558.5 1234.2 L1560.4 1240.3 L1562.4 1240.3 L1564.4 1234.2 L1566.4 1234.2 L1568.4 1234.2 L1570.4 1240.3 L1572.4 1234.2 L1574.4 1245.2 L1576.3 1240.3 L1578.3 1240.3 L1580.3 1240.3 L1582.3 1234.2 L1584.3 1234.2 L1586.3 1239.4 L1588.3 1234.2 L1590.3 1240.3 L1592.2 1240.3 L1594.2 1240.3 L1596.2 1240.3 L1598.2 1246.4 L1600.2 1246.4 L1602.2 1246.4 L1604.2 1240.3 L1606.1 1246.4 L1608.1 1246.4 L1610.1 1246.4 L1612.1 1240.3 L1614.1 1240.3 L1616.1 1240.3 L1618.1 1240.3 L1620.1 1246.4 L1622.0 1246.4 L1624.0 1246.4 L1626.0 1240.3 L1628.0 1240.3 L1630.0 1240.3 L1632.0 1246.4 L1634.0 1246.4 L1636.0 1246.4 L1638.0 1246.4 L1640.0 1240.3 L1642.0 1252.5 L1644.0 1252.5 L1646.0 1252.5 L1647.9 1246.4 L1649.9 1246.4 L1651.9 1246.4 L1653.9 1246.4 L1655.9 1246.4 L1657.9 1246.4 L1659.9 1246.4 L1661.9 1246.4 L1663.9 1246.4 L1665.9 1246.4 L1667.8 1252.5 L1669.8 1252.5 L1671.8 1252.5 L1673.8 1252.5 L1675.7 1252.5 L1677.7 1246.4 L1679.7 1246.4 L1681.6 1252.5 L1683.6 1252.5 L1685.5 1246.4 L1687.5 1252.5 L1689.4 1246.4 L1691.4 1252.5 L1693.4 1252.5 L1695.3 1252.5 L1697.3 1252.5 L1699.2 1258.6 L1701.2 1252.5 L1703.2 1258.6 L1705.2 1258.6 L1707.1 1247.6 L1709.1 1252.5 L1711.1 1252.5 L1713.1 1258.6 L1715.1 1252.5 L1717.1 1252.5 L1719.1 1258.6 L1721.1 1258.6 L1723.1 1258.6 L1725.1 1258.6 L1727.0 1258.6 L1729.0 1258.6 L1731.0 1258.6 L1733.0 1258.6 L1735.0 1264.6 L1737.0 1264.6 L1739.0 1264.6 L1741.0 1258.6 L1743.0 1251.5 L1745.0 1264.6 L1747.0 1264.6 L1749.0 1264.6 L1750.9 1264.6 L1752.9 1258.6 L1754.9 1258.6 L1756.9 1258.6 L1758.9 1258.6 L1760.9 1258.6 L1762.9 1258.6 L1764.9 1258.6 L1766.9 1264.6 L1768.9 1264.6 L1770.9 1264.6 L1772.9 1265.8 L1774.9 1264.6 L1776.9 1264.6 L1778.9 1270.5 L1780.8 1258.6 L1782.8 1258.6 L1784.8 1264.6 L1786.8 1264.6 L1788.8 1258.6 L1790.8 1264.6 L1792.8 1258.6 L1794.8 1264.6 L1796.8 1264.6 L1798.8 1264.6 L1800.8 1264.6 L1802.8 1264.6 L1804.8 1264.6 L1806.8 1264.6 L1808.7 1277.2 L1810.7 1264.6 L1812.7 1264.6 L1814.7 1264.6 L1816.7 1270.7 L1818.7 1270.7 L1820.7 1270.7 L1822.7 1264.6 L1824.7 1264.6 L1826.7 1264.6 L1828.7 1270.7 L1830.7 1270.7 L1832.7 1264.6 L1834.7 1264.6 L1836.7 1270.7 L1838.7 1270.7 L1840.7 1264.6 L1842.7 1264.6 L1844.6 1270.7 L1846.6 1270.7 L1848.6 1270.7 L1850.6 1270.7 L1852.6 1270.7 L1854.6 1264.6 L1856.6 1264.6 L1858.6 1264.6 L1860.6 1270.7 L1862.6 1270.7 L1864.6 1270.7 L1866.6 1270.7 L1868.6 1264.6 L1870.6 1264.6 L1872.6 1270.7 L1874.6 1270.7 L1876.6 1270.7 L1878.6 1270.7 L1880.6 1270.7 L1882.6 1264.6 L1884.6 1264.6 L1886.6 1276.8 L1888.6 1282.0 L1890.6 1276.8 L1892.6 1270.7 L1894.6 1276.8 L1896.6 1276.8 L1898.6 1270.7 L1900.6 1270.7 L1902.6 1276.8 L1904.6 1270.7 L1906.6 1276.8 L1908.6 1270.7 L1910.6 1270.7 L1912.6 1276.8 L1914.6 1276.8 L1916.6 1276.8 L1918.5 1276.8 L1920.5 1270.7 L1922.5 1266.7 L1924.5 1270.7 L1926.5 1270.7 L1928.5 1276.8 L1930.5 1276.8 L1932.5 1270.7 L1934.5 1276.8 L1936.5 1276.8 L1938.5 1270.7 L1940.5 1270.7 L1942.5 1276.8 L1944.5 1270.7 L1946.5 1270.7 L1948.5 1270.7 L1950.5 1270.7 L1952.5 1270.7 L1954.5 1276.8 L1956.5 1276.8 L1958.5 1276.8 L1960.5 1270.7 L1962.5 1276.8 L1964.5 1276.8 L1966.5 1276.8 L1968.5 1276.8 L1970.5 1272.3 L1972.5 1276.8 L1974.5 1276.8 L1976.5 1282.9 L1978.5 1282.9 L1980.5 1270.7 L1982.4 1276.8 L1984.4 1276.8 L1986.4 1276.8 L1988.4 1276.8 L1990.4 1276.8 L1992.4 1276.8 L1994.4 1282.9 L1996.4 1276.8 L1998.4 1282.9 L2000.4 1276.8 L2002.4 1276.8 L2004.4 1276.8 L2006.4 1276.8 L2008.4 1276.8 L2010.3 1276.8 L2012.3 1282.9 L2014.3 1276.8 L2016.3 1276.8 L2018.3 1276.8 L2020.3 1282.9 L2022.3 1276.8" fill="none" stroke="#FFCF8A" stroke-width="13" stroke-linecap="round" stroke-linejoin="round"/>
<path d="M327.8 1781.0 L327.8 1779.0 L327.8 1777.0 L327.8 1775.0 L327.8 1773.0 L327.8 1771.0 L327.8 1769.0 L327.8 1767.0 L327.8 1765.0 L327.8 1763.0 L327.8 1761.0 L327.7 1759.0 L327.7 1757.0 L327.7 1755.0 L327.7 1753.0 L327.7 1751.0 L327.7 1749.0 L327.7 1747.0 L327.7 1745.0 L327.7 1743.0 L327.7 1741.0 L327.7 1739.0 L327.7 1737.0 L327.7 1735.0 L327.7 1733.0 L327.7 1731.0 L327.7 1729.0 L327.7 1727.0 L327.7 1725.0 L327.7 1723.0 L327.7 1721.0 L327.8 1719.0 L327.8 1717.0 L327.8 1715.0 L327.8 1713.0 L327.8 1711.0 L327.9 1709.0 L327.9 1707.0 L327.9 1705.0 L328.0 1703.0 L328.0 1701.0 L328.0 1699.0 L328.1 1697.0 L328.1 1695.0 L328.2 1693.0 L328.2 1691.0 L328.3 1689.0 L328.3 1687.0 L328.4 1685.0 L328.4 1683.0 L328.5 1681.0 L328.6 1679.0 L328.6 1677.0 L328.7 1675.0 L328.7 1673.0 L328.8 1671.0 L328.9 1669.0 L328.9 1667.0 L329.0 1665.0 L329.0 1663.0 L329.1 1661.0 L329.2 1659.0 L329.2 1657.0 L329.3 1655.0 L329.3 1653.0 L329.4 1651.0 L329.5 1649.0 L329.5 1647.0 L329.6 1645.0 L329.6 1643.0 L329.7 1641.0 L329.8 1639.0 L329.8 1637.0 L329.9 1635.0 L329.9 1633.0 L330.0 1631.0 L330.0 1629.0 L330.1 1627.0 L330.1 1625.0 L330.2 1623.0 L330.2 1621.0 L330.3 1619.0 L330.3 1617.0 L330.4 1615.0 L330.4 1613.0 L330.4 1611.0 L330.5 1609.0 L330.5 1607.0 L330.6 1605.0 L330.6 1603.0 L330.7 1601.0 L330.7 1599.0 L330.7 1597.0 L330.8 1595.0 L330.8 1593.0 L330.9 1591.0 L330.9 1589.0 L331.0 1587.0 L331.0 1585.0 L331.0 1583.0 L331.1 1581.0 L331.1 1579.0 L331.2 1577.0 L331.2 1575.0 L331.3 1573.0 L331.3 1571.0 L331.4 1569.0 L331.4 1567.0 L331.5 1565.0 L331.5 1563.0 L331.6 1561.0 L331.6 1559.0 L331.7 1557.0 L331.7 1555.0 L331.8 1553.0 L331.8 1551.0 L331.9 1549.0 L332.0 1547.0 L332.0 1545.0 L332.1 1543.0 L332.2 1541.0 L332.2 1539.0 L332.3 1537.0 L332.4 1535.0 L332.5 1533.0 L332.5 1531.0 L332.6 1529.0 L332.7 1527.0 L332.8 1525.0 L332.8 1523.0 L332.9 1521.0 L333.0 1519.0 L333.1 1517.0 L333.2 1515.0 L333.2 1513.0 L333.3 1511.0 L333.4 1509.0 L333.5 1507.0 L333.6 1505.0 L333.6 1503.0 L333.7 1501.0 L333.8 1499.0 L333.9 1497.0 L334.0 1495.0 L334.0 1493.0 L334.1 1491.0 L334.2 1489.0 L334.3 1487.0 L334.3 1485.0 L334.4 1483.0 L334.5 1481.0 L334.5 1479.0 L334.6 1477.0 L334.7 1475.0 L334.7 1473.0 L334.8 1471.0 L334.8 1469.0 L334.9 1467.0 L334.9 1465.0 L335.0 1463.0 L335.0 1461.0 L335.1 1459.0 L335.1 1457.0 L335.2 1455.0 L335.2 1453.0 L335.3 1450.9 L335.3 1449.0 L335.4 1447.0 L335.4 1445.0 L335.4 1443.0 L335.5 1441.0 L335.5 1439.0 L335.6 1437.0 L335.6 1434.9 L335.6 1433.0 L335.7 1431.0 L335.7 1429.0 L335.8 1427.0 L335.8 1424.9 L335.9 1423.1 L335.9 1420.9 L335.9 1419.0 L336.0 1416.9 L336.0 1415.0 L336.1 1413.0 L336.1 1411.0 L336.2 1408.9 L336.2 1407.0 L336.3 1404.8 L336.3 1402.9 L336.4 1400.9 L336.5 1399.1 L336.5 1397.0 L336.6 1395.0 L336.7 1392.9 L336.7 1391.1 L336.8 1389.2 L336.9 1387.0 L336.9 1385.1 L337.0 1383.2 L337.1 1380.7 L337.2 1378.8 L337.3 1376.8 L337.4 1374.9 L337.5 1373.3 L337.5 1371.0 L337.6 1369.1 L337.7 1366.9 L337.8 1365.0 L337.9 1363.1 L338.0 1361.1 L338.1 1359.2 L338.2 1357.3 L338.3 1355.1 L338.4 1353.2 L338.5 1351.3 L338.6 1349.4 L338.8 1347.0 L338.9 1345.2 L339.0 1342.8 L339.1 1340.5 L339.2 1339.0 L339.3 1336.7 L339.4 1334.8 L339.5 1333.4 L339.6 1331.6 L339.7 1329.5 L339.8 1327.3 L339.9 1324.9 L340.1 1323.0 L340.2 1320.6 L340.3 1319.3 L340.4 1317.5 L340.5 1315.7 L340.6 1313.2 L340.7 1311.3 L340.8 1308.8 L340.9 1307.0 L341.0 1305.1 L341.1 1302.6 L341.2 1300.8 L341.3 1298.9 L341.4 1297.9 L341.5 1295.3 L341.6 1293.5 L341.7 1290.9 L341.8 1289.1 L341.9 1287.3 L342.0 1285.5 L342.1 1282.9 L342.2 1281.1 L342.3 1279.3 L342.4 1277.5 L342.5 1274.8 L342.6 1273.1 L342.7 1271.3 L342.8 1268.6 L342.8 1267.7 L342.9 1265.0 L343.0 1263.3 L343.1 1260.5 L343.2 1259.7 L343.3 1257.0 L343.4 1256.2 L343.5 1252.5 L343.7 1250.7 L343.8 1250.0 L343.9 1246.2 L344.0 1244.4 L344.1 1243.7 L344.2 1240.9 L344.3 1239.2 L344.4 1237.4 L344.5 1234.6 L344.6 1234.0 L344.7 1232.3 L344.9 1228.3 L345.0 1226.5 L345.1 1224.8 L345.2 1223.1 L345.3 1220.2 L345.5 1218.5 L345.6 1216.8 L345.7 1215.1 L345.9 1212.1 L346.0 1210.4 L346.1 1208.7 L346.2 1205.7 L346.4 1204.0 L346.5 1202.3 L346.6 1202.0 L346.8 1199.0 L346.9 1197.3 L347.0 1195.7 L347.2 1194.0 L347.3 1192.4 L347.5 1189.3 L347.6 1186.2 L347.7 1184.5 L347.9 1182.9 L348.0 1181.2 L348.1 1179.6 L348.3 1176.4 L348.4 1174.8 L348.6 1173.2 L348.7 1171.6 L348.8 1168.3 L349.0 1166.7 L349.1 1165.1 L349.2 1163.6 L349.4 1161.8 L349.5 1158.7 L349.6 1155.3 L349.8 1153.8 L349.9 1153.9 L350.0 1152.4 L350.2 1149.0 L350.3 1147.5 L350.4 1145.9 L350.6 1144.4 L350.7 1141.0 L350.8 1139.4 L351.0 1137.9 L351.1 1134.4 L351.2 1134.8 L351.4 1133.3 L351.5 1131.5 L351.6 1126.3 L351.8 1124.8 L351.9 1123.3 L352.0 1119.7 L352.2 1120.3 L352.3 1116.7 L352.4 1115.2 L352.6 1113.7 L352.7 1110.1 L352.8 1108.6 L353.0 1107.1 L353.1 1105.7 L353.2 1102.0 L353.4 1100.5 L353.5 1099.1 L353.6 1097.6 L353.8 1093.9 L353.9 1092.4 L354.0 1091.0 L354.2 1091.8 L354.3 1085.8 L354.4 1084.3 L354.6 1082.9 L354.7 1081.4 L354.8 1077.7 L355.0 1076.2 L355.1 1077.2 L355.2 1071.0 L355.4 1069.5 L355.5 1068.1 L355.6 1066.7 L355.8 1067.7 L355.9 1063.9 L356.1 1062.5 L356.2 1058.6 L356.3 1057.2 L356.5 1053.2 L356.6 1051.9 L356.8 1053.1 L356.9 1049.1 L357.1 1045.1 L357.2 1043.7 L357.4 1042.4 L357.5 1041.0 L357.7 1036.9 L357.8 1038.3 L357.9 1037.0 L358.1 1032.9 L358.2 1031.5 L358.3 1030.2 L358.5 1028.9 L358.6 1024.8 L358.7 1023.4 L358.9 1022.1 L359.0 1018.0 L359.1 1016.7 L359.2 1012.5 L359.3 1009.0 L359.4 1009.8 L359.6 1008.5 L359.7 1007.2 L359.8 1003.0 L359.8 1001.7 L359.9 1000.4 L360.0 996.1 L360.1 994.9 L360.2 996.6 L360.2 995.3 L360.3 991.0 L360.4 989.7 L360.4 988.5 L360.4 984.2 L360.5 982.9 L360.5 984.6 L360.6 980.3 L360.6 979.1 L360.6 974.8 L360.7 973.5 L360.7 972.2 L360.7 967.9 L360.8 969.7 L360.8 965.4 L360.8 964.1 L360.9 962.8 L360.9 958.5 L361.0 957.3 L361.0 953.9 L361.1 954.7 L361.1 950.4 L361.2 952.2 L361.2 947.9 L361.3 946.6 L361.4 945.4 L361.5 944.2 L361.6 942.9 L361.7 935.4 L361.8 934.1 L361.9 936.1 L362.0 931.6 L362.1 930.4 L362.2 929.2 L362.3 928.0 L362.4 923.5 L362.6 919.0 L362.7 917.8 L362.8 916.6 L362.9 915.4 L363.1 914.2 L363.2 913.0 L363.3 908.5 L363.5 907.3 L363.6 902.7 L363.8 901.5 L363.9 900.3 L364.0 899.2 L364.2 898.0 L364.3 896.8 L364.5 895.7 L364.6 891.0 L364.8 889.9 L364.9 888.7 L365.1 887.6 L365.2 882.9 L365.4 881.8 L365.5 877.0 L365.7 879.5 L365.8 874.7 L366.0 873.6 L366.1 872.5 L366.3 867.7 L366.4 866.6 L366.6 865.5 L366.7 864.4 L366.9 863.3 L367.1 862.2 L367.2 857.3 L367.4 852.4 L367.5 848.4 L367.7 850.3 L367.8 849.2 L368.0 848.1 L368.2 847.1 L368.3 846.1 L368.5 841.1 L368.7 836.0 L368.8 835.0 L369.0 833.9 L369.2 837.0 L369.3 831.9 L369.5 826.8 L369.7 825.7 L369.9 824.7 L370.0 823.7 L370.2 822.7 L370.4 821.8 L370.5 816.6 L370.7 815.6 L370.9 810.3 L371.1 809.4 L371.2 808.4 L371.4 807.4 L371.6 802.1 L371.7 801.2 L371.9 800.2 L372.1 803.7 L372.3 793.9 L372.4 792.9 L372.6 792.0 L372.8 791.1 L372.9 790.2 L373.1 789.3 L373.3 788.4 L373.4 782.9 L373.6 786.6 L373.7 781.1 L373.9 780.2 L374.1 779.4 L374.2 769.2 L374.4 768.3 L374.6 772.1 L374.7 771.3 L374.9 765.7 L375.0 764.8 L375.2 759.2 L375.4 758.3 L375.5 752.7 L375.7 756.6 L375.8 755.8 L376.0 750.1 L376.2 753.0 L376.3 743.6 L376.5 747.7 L376.7 746.9 L376.8 746.1 L377.0 745.3 L377.2 739.5 L377.3 738.7 L377.5 732.9 L377.7 732.1 L377.8 731.3 L378.0 730.6 L378.2 724.7 L378.4 729.1 L378.5 723.2 L378.7 722.4 L378.9 721.7 L379.1 710.5 L379.2 715.0 L379.4 709.0 L379.6 708.3 L379.8 712.9 L380.0 706.8 L380.1 700.8 L380.3 700.0 L380.5 699.3 L380.7 698.6 L380.8 698.0 L381.0 697.3 L381.2 691.1 L381.4 690.4 L381.5 689.8 L381.7 683.6 L381.9 682.9 L382.1 682.2 L382.3 681.6 L382.4 675.3 L382.6 674.7 L382.8 674.0 L383.0 673.4 L383.2 667.1 L383.4 666.4 L383.6 665.8 L383.8 659.4 L384.0 658.8 L384.2 658.2 L384.4 657.6 L384.6 657.0 L384.8 656.4 L385.1 649.9 L385.3 649.4 L385.5 648.8 L385.8 648.3 L386.0 647.7 L386.2 647.2 L386.5 646.7 L386.8 640.1 L387.0 633.4 L387.3 632.9 L387.6 632.4 L387.9 625.6 L388.2 625.1 L388.4 624.6 L388.7 624.1 L389.0 623.7 L389.3 623.3 L389.7 616.3 L390.0 615.9 L390.3 615.5 L390.6 615.1 L390.9 608.0 L391.2 607.6 L391.6 600.5 L391.9 600.1 L392.2 599.7 L392.5 599.4 L392.9 599.0 L393.2 598.7 L393.5 591.4 L393.8 591.1 L394.2 590.8 L394.5 590.5 L394.9 590.2 L395.2 589.9 L395.6 582.5 L395.9 582.2 L396.3 574.7 L396.6 581.8 L397.0 574.2 L397.3 574.0 L397.7 566.3 L398.0 574.1 L398.4 565.9 L398.7 565.7 L399.1 565.6 L399.4 557.8 L399.7 557.6 L400.1 557.4 L400.4 549.5 L400.7 549.4 L401.0 549.3 L401.3 556.5 L401.6 541.1 L401.8 541.0 L402.1 540.9 L402.4 540.8 L402.6 540.8 L402.9 540.7 L403.1 532.6 L403.4 532.5 L403.6 532.5 L403.9 524.3 L404.1 532.4 L404.4 524.2 L404.6 524.2 L404.9 524.2 L405.1 515.8 L405.4 524.2 L405.7 515.8 L405.9 515.8 L406.2 507.5 L406.5 507.5 L406.8 507.5 L407.1 499.2 L407.4 499.2 L407.7 507.5 L408.0 499.2 L408.3 499.2 L408.6 499.2 L408.9 490.9 L409.2 490.9 L409.6 482.6 L409.9 482.6 L410.2 490.9 L410.5 482.6 L410.8 490.9 L411.2 474.2 L411.5 474.2 L411.8 474.2 L412.1 474.2 L412.4 474.2 L412.6 465.9 L412.9 465.9 L413.2 465.9 L413.4 465.9 L413.7 457.6 L414.0 457.6 L414.3 465.9 L414.6 457.6 L414.9 449.3 L415.2 457.6 L415.5 444.4 L415.8 449.3 L416.2 441.0 L416.6 441.0 L417.0 441.0 L417.4 441.0 L417.9 432.6 L418.3 432.6 L418.8 432.6 L419.4 432.6 L420.0 438.2 L420.6 432.6 L421.2 424.3 L421.9 424.3 L422.5 416.0 L423.2 416.0 L423.9 416.0 L424.7 416.0 L425.4 416.0 L426.2 416.0 L426.9 416.0 L427.7 407.7 L428.5 399.4 L429.2 416.0 L430.0 407.7 L430.8 407.7 L431.5 399.4 L432.3 399.4 L433.0 391.0 L433.8 391.0 L434.6 391.0 L435.5 391.0 L436.3 391.0 L437.1 391.0 L438.0 382.7 L438.8 391.0 L439.6 374.4 L440.4 382.7 L441.2 382.7 L442.0 374.4 L442.7 366.1 L443.4 374.4 L444.0 374.4 L444.6 374.4 L445.1 371.6 L445.6 366.1 L446.0 357.8 L446.5 357.8 L447.0 357.8 L447.5 366.1 L448.1 357.8 L448.7 357.8 L449.3 349.4 L450.0 349.4 L450.7 349.4 L451.4 341.1 L452.2 341.1 L453.1 341.1 L453.9 341.1 L454.8 341.1 L455.8 341.1 L456.7 341.1 L457.7 332.8 L458.7 332.8 L459.8 332.8 L460.8 324.5 L461.9 324.5 L463.0 332.8 L464.1 324.5 L465.3 324.5 L466.6 324.5 L467.8 316.2 L469.1 316.2 L470.4 316.2 L471.8 316.2 L473.3 307.8 L474.8 307.8 L476.5 307.8 L478.2 307.8 L480.0 307.8 L481.9 316.2 L483.8 316.2 L485.8 307.8 L487.7 299.5 L489.7 307.8 L491.7 307.8 L493.7 299.5 L495.7 299.5 L497.7 299.5 L499.6 299.5 L501.5 307.8 L503.4 307.8 L505.3 316.2 L507.0 316.2 L508.7 316.2 L510.3 316.2 L511.6 307.8 L512.8 316.2 L513.8 316.2 L514.9 324.5 L515.9 324.5 L517.0 316.2 L518.2 316.2 L519.6 324.5 L521.0 316.2 L522.5 324.5 L524.1 324.5 L525.7 332.8 L527.3 332.8 L528.8 324.5 L530.3 332.8 L531.7 332.8 L533.0 332.8 L534.2 341.1 L535.3 332.8 L536.4 341.1 L537.4 341.1 L538.4 349.4 L539.4 349.4 L540.3 349.4 L541.2 349.4 L542.0 357.8 L542.9 357.8 L543.7 349.4 L544.5 357.8 L545.3 366.1 L546.0 357.8 L546.6 366.1 L547.4 357.8 L548.1 366.1 L549.0 374.4 L550.0 374.4 L551.1 366.1 L552.2 366.1 L553.4 366.1 L554.6 374.4 L555.8 374.4 L557.1 374.4 L558.4 374.4 L559.7 382.7 L561.2 391.0 L562.7 391.0 L564.2 391.0 L565.8 391.0 L567.3 391.0 L568.7 382.7 L570.0 391.0 L571.2 391.0 L572.3 391.0 L573.3 399.6 L574.3 399.4 L575.1 407.7 L575.9 407.7 L576.7 399.4 L577.4 399.4 L578.1 407.7 L578.8 407.7 L579.5 407.7 L580.2 416.0 L581.0 424.3 L581.8 416.0 L582.5 416.0 L583.3 424.3 L584.0 432.6 L584.8 432.6 L585.5 432.6 L586.2 432.6 L587.0 432.6 L587.7 441.0 L588.4 441.0 L589.2 432.6 L589.9 441.0 L590.7 441.0 L591.5 441.0 L592.2 441.0 L593.0 441.0 L593.8 441.0 L594.7 457.6 L595.5 464.3 L596.3 457.6 L597.1 457.6 L598.0 441.2 L598.8 457.6 L599.6 465.9 L600.5 457.6 L601.3 457.6 L602.1 465.9 L603.0 473.2 L603.8 465.9 L604.6 465.9 L605.5 465.9 L606.3 474.2 L607.1 474.2 L608.0 482.6 L608.8 482.6 L609.6 490.9 L610.5 490.9 L611.3 490.9 L612.2 490.9 L613.0 490.9 L613.8 499.2 L614.6 490.9 L615.5 490.9 L616.3 507.5 L617.1 499.2 L617.9 507.5 L618.7 507.5 L619.4 507.5 L620.2 507.5 L621.0 513.9 L621.7 515.8 L622.5 515.8 L623.2 515.8 L624.0 507.5 L624.7 507.5 L625.5 524.2 L626.3 515.8 L627.0 524.2 L627.8 532.5 L628.6 532.5 L629.4 532.5 L630.3 532.5 L631.1 524.2 L632.0 540.8 L632.8 540.8 L633.7 540.8 L634.5 540.8 L635.4 540.8 L636.3 540.8 L637.2 549.1 L638.1 540.8 L639.0 549.1 L639.9 557.4 L640.9 557.4 L641.8 549.1 L642.7 557.4 L643.7 557.4 L644.7 565.8 L645.7 565.8 L646.7 557.4 L647.8 557.4 L648.8 565.8 L649.9 565.8 L650.9 565.8 L652.0 574.1 L653.1 574.1 L654.1 574.1 L655.1 574.1 L656.2 574.1 L657.2 587.4 L658.1 582.4 L659.1 582.4 L660.0 590.7 L660.9 590.7 L661.9 582.4 L662.8 590.7 L663.7 590.7 L664.6 590.7 L665.5 590.7 L666.4 599.0 L667.4 590.7 L668.4 599.0 L669.4 599.0 L670.4 607.4 L671.5 599.0 L672.5 599.0 L673.6 622.7 L674.7 607.4 L675.8 607.4 L676.9 615.7 L678.0 615.7 L679.1 615.7 L680.2 615.7 L681.3 615.7 L682.4 624.0 L683.4 624.0 L684.5 632.3 L685.6 632.3 L686.7 632.3 L687.8 632.3 L688.9 632.3 L689.9 632.3 L691.0 640.6 L692.1 632.3 L693.2 632.3 L694.3 640.6 L695.4 640.6 L696.5 640.6 L697.5 640.6 L698.6 649.0 L699.6 649.0 L700.7 648.9 L701.7 657.3 L702.8 649.0 L703.8 657.3 L704.9 657.3 L705.9 657.3 L706.9 665.6 L707.9 665.6 L709.0 665.6 L710.0 665.6 L711.0 665.6 L712.0 665.6 L713.0 665.6 L714.0 673.9 L715.0 673.9 L716.0 673.9 L716.9 682.2 L717.9 682.2 L718.9 682.2 L719.8 690.6 L720.8 690.6 L721.7 682.2 L722.6 682.2 L723.6 690.6 L724.5 690.6 L725.5 690.6 L726.4 698.9 L727.3 698.9 L728.2 698.9 L729.1 707.2 L730.0 698.9 L730.8 707.2 L731.7 715.5 L732.6 707.2 L733.4 715.5 L734.2 715.5 L735.0 715.5 L735.8 715.5 L736.6 715.5 L737.4 723.8 L738.1 723.8 L738.9 723.8 L739.6 723.8 L740.4 723.8 L741.1 723.8 L741.8 732.2 L742.5 732.2 L743.2 732.2 L743.8 732.2 L744.5 732.2 L745.1 732.2 L745.7 740.5 L746.3 740.5 L746.9 748.8 L747.4 740.5 L747.9 740.5 L748.4 748.8 L748.9 748.8 L749.3 748.8 L749.8 757.1 L750.2 757.1 L750.6 765.4 L751.1 765.4 L751.5 765.4 L751.9 765.4 L752.3 765.4 L752.7 773.8 L753.1 765.4 L753.5 773.8 L753.9 773.8 L754.4 773.8 L754.8 782.1 L755.2 782.1 L755.6 790.4 L756.0 790.4 L756.4 790.4 L756.7 790.4 L757.1 790.4 L757.5 798.7 L757.9 798.7 L758.3 798.7 L758.7 807.0 L759.2 807.0 L759.6 807.0 L760.0 807.0 L760.5 807.0 L761.0 807.0 L761.4 807.0 L761.9 815.4 L762.4 807.0 L762.8 815.4 L763.3 815.4 L763.8 815.4 L764.3 823.7 L764.8 823.7 L765.4 823.7 L765.9 832.0 L766.5 832.0 L767.2 832.0 L767.8 832.0 L768.5 840.3 L769.2 848.6 L769.9 848.6 L770.7 840.3 L771.4 840.3 L772.2 848.6 L773.0 857.0 L773.9 848.6 L774.7 848.6 L775.6 849.5 L776.5 857.0 L777.5 857.0 L778.4 865.3 L779.4 865.3 L780.5 865.3 L781.6 865.3 L782.7 865.3 L783.8 873.6 L785.0 865.3 L786.2 865.3 L787.4 865.3 L788.6 873.6 L789.9 873.6 L791.1 881.9 L792.4 873.6 L793.7 876.1 L795.0 881.9 L796.2 873.6 L797.5 881.9 L798.8 890.2 L800.0 881.9 L801.3 881.9 L802.6 898.6 L803.9 898.6 L805.2 898.6 L806.5 898.6 L807.9 898.6 L809.2 898.6 L810.5 905.6 L811.9 898.6 L813.2 906.9 L814.6 906.9 L816.0 906.9 L817.3 915.2 L818.7 922.7 L820.1 906.9 L821.5 906.9 L822.9 915.2 L824.3 915.2 L825.7 915.2 L827.1 915.2 L828.6 915.2 L830.0 915.2 L831.4 923.5 L832.9 923.5 L834.3 923.5 L835.8 923.5 L837.3 931.8 L838.7 931.8 L840.2 931.8 L841.7 940.2 L843.2 931.8 L844.8 931.8 L846.3 931.8 L847.9 940.2 L849.4 940.2 L851.0 940.2 L852.5 940.2 L854.1 948.5 L855.6 940.2 L857.2 940.2 L858.7 940.2 L860.2 940.2 L861.7 940.2 L863.1 941.4 L864.5 948.5 L865.9 956.8 L867.3 948.5 L868.6 956.8 L869.9 956.8 L871.2 965.1 L872.6 956.8 L873.9 956.8 L875.2 965.1 L876.6 965.1 L878.0 965.1 L879.4 965.1 L880.8 965.1 L882.3 965.1 L883.8 973.4 L885.4 973.4 L887.0 973.4 L888.6 981.8 L890.3 973.4 L892.0 973.4 L893.7 973.4 L895.5 973.4 L897.2 981.8 L899.0 981.8 L900.8 990.1 L902.6 973.4 L904.5 990.1 L906.3 981.8 L908.1 990.1 L910.0 990.1 L911.8 990.1 L913.6 990.1 L915.5 990.1 L917.3 981.8 L919.1 981.8 L920.9 990.1 L922.7 990.1 L924.4 990.1 L926.1 990.1 L927.9 998.4 L929.6 990.1 L931.3 990.1 L933.0 990.1 L934.6 990.1 L936.3 1006.7 L938.0 998.4 L939.7 998.4 L941.3 998.4 L943.0 998.4 L944.7 1006.7 L946.4 1006.7 L948.0 1015.0 L949.7 1015.0 L951.4 1015.0 L953.1 1015.0 L954.8 1015.0 L956.5 1015.0 L958.2 1015.0 L960.0 1015.0 L961.7 1015.0 L963.4 1015.0 L965.2 1015.0 L966.9 1015.0 L968.7 1023.4 L970.4 1023.4 L972.2 1023.4 L973.9 1023.4 L975.7 1023.4 L977.5 1023.4 L979.3 1023.4 L981.1 1023.4 L982.9 1023.4 L984.7 1023.4 L986.5 1026.1 L988.3 1039.7 L990.1 1031.7 L992.0 1031.7 L993.8 1031.7 L995.7 1031.7 L997.6 1031.7 L999.5 1036.9 L1001.4 1040.0 L1003.3 1031.7 L1005.2 1031.7 L1007.1 1040.0 L1009.0 1045.6 L1010.9 1040.0 L1012.9 1040.0 L1014.8 1031.7 L1016.7 1031.7 L1018.6 1040.0 L1020.6 1040.0 L1022.5 1031.7 L1024.5 1031.7 L1026.4 1040.0 L1028.3 1040.0 L1030.2 1040.0 L1032.2 1040.0 L1034.1 1040.0 L1036.0 1040.0 L1038.0 1040.0 L1039.9 1040.0 L1041.8 1040.0 L1043.8 1056.6 L1045.7 1048.3 L1047.7 1056.6 L1049.6 1056.6 L1051.6 1056.6 L1053.5 1048.3 L1055.4 1048.3 L1057.4 1048.3 L1059.4 1048.3 L1061.3 1048.3 L1063.3 1048.3 L1065.2 1056.6 L1067.2 1056.6 L1069.2 1056.6 L1071.1 1056.6 L1073.1 1056.6 L1075.1 1056.6 L1077.0 1056.6 L1079.0 1056.6 L1081.0 1056.6 L1083.0 1056.6 L1085.0 1048.3 L1086.9 1048.3 L1088.9 1048.3 L1090.9 1048.3 L1092.9 1065.0 L1094.9 1056.6 L1096.9 1056.6 L1098.9 1048.3 L1100.9 1056.6 L1102.9 1056.6 L1104.9 1056.6 L1106.9 1056.6 L1108.8 1065.0 L1110.8 1065.0 L1112.8 1065.0 L1114.8 1056.6 L1116.8 1065.0 L1118.8 1056.6 L1120.8 1065.0 L1122.8 1065.0 L1124.8 1065.0 L1126.8 1056.6 L1128.8 1056.6 L1130.8 1056.6 L1132.8 1056.6 L1134.8 1056.6 L1136.7 1056.6 L1138.7 1056.6 L1140.7 1065.0 L1142.7 1065.0 L1144.7 1065.0 L1146.7 1056.6 L1148.7 1056.6 L1150.7 1065.0 L1152.7 1065.0 L1154.7 1065.0 L1156.7 1065.0 L1158.7 1056.6 L1160.7 1056.6 L1162.7 1056.6 L1164.7 1056.6 L1166.7 1065.0 L1168.7 1065.0 L1170.7 1056.6 L1172.7 1056.6 L1174.7 1056.6 L1176.7 1056.6 L1178.7 1056.6 L1180.7 1056.6 L1182.7 1057.4 L1184.7 1065.0 L1186.7 1065.0 L1188.7 1056.6 L1190.7 1056.6 L1192.7 1056.6 L1194.7 1065.0 L1196.7 1065.0 L1198.7 1065.0 L1200.7 1065.0 L1202.7 1056.6 L1204.7 1065.0 L1206.7 1065.0 L1208.7 1056.6 L1210.7 1056.6 L1212.7 1065.0 L1214.7 1065.0 L1216.7 1065.0 L1218.7 1065.0 L1220.7 1065.0 L1222.7 1056.6 L1224.7 1056.6 L1226.7 1056.6 L1228.7 1065.0 L1230.7 1056.6 L1232.7 1056.6 L1234.7 1056.6 L1236.7 1056.6 L1238.7 1065.0 L1240.7 1065.0 L1242.7 1065.0 L1244.7 1065.0 L1246.7 1065.0 L1248.7 1056.6 L1250.7 1056.6 L1252.7 1065.0 L1254.7 1065.0 L1256.7 1056.6 L1258.7 1056.6 L1260.7 1065.0 L1262.7 1065.0 L1264.7 1056.6 L1266.7 1056.6 L1268.7 1065.0 L1270.7 1065.0 L1272.7 1065.0 L1274.7 1065.0 L1276.7 1056.6 L1278.7 1056.6 L1280.7 1065.0 L1282.7 1056.6 L1284.7 1056.6 L1286.7 1065.0 L1288.7 1065.0 L1290.7 1065.0 L1292.7 1065.0 L1294.7 1056.6 L1296.7 1065.0 L1298.7 1065.0 L1300.7 1056.6 L1302.7 1056.6 L1304.7 1056.6 L1306.7 1056.6 L1308.7 1056.6 L1310.7 1056.6 L1312.7 1065.0 L1314.7 1065.0 L1316.7 1056.6 L1318.7 1056.6 L1320.7 1065.0 L1322.7 1065.0 L1324.7 1056.6 L1326.7 1056.6 L1328.7 1065.0 L1330.7 1065.0 L1332.7 1065.0 L1334.7 1065.0 L1336.7 1065.0 L1338.7 1065.0 L1340.7 1065.0 L1342.7 1065.0 L1344.7 1065.0 L1346.7 1065.0 L1348.7 1065.0 L1350.7 1065.0 L1352.7 1073.3 L1354.7 1073.3 L1356.7 1073.3 L1358.7 1073.3 L1360.7 1073.3 L1362.6 1073.3 L1364.6 1073.3 L1366.6 1065.0 L1368.6 1065.0 L1370.6 1065.0 L1372.6 1073.3 L1374.6 1073.3 L1376.6 1073.3 L1378.6 1073.3 L1380.6 1065.0 L1382.6 1065.0 L1384.6 1065.0 L1386.6 1065.0 L1388.6 1065.0 L1390.5 1065.0 L1392.5 1073.3 L1394.5 1073.3 L1396.5 1073.3 L1398.5 1065.0 L1400.5 1073.3 L1402.5 1073.3 L1404.5 1073.3 L1406.5 1073.3 L1408.4 1065.0 L1410.4 1065.0 L1412.4 1073.3 L1414.4 1073.3 L1416.4 1073.3 L1418.4 1073.3 L1420.4 1065.0 L1422.4 1073.3 L1424.3 1073.3 L1426.3 1073.3 L1428.3 1081.6 L1430.3 1081.6 L1432.3 1081.6 L1434.3 1081.6 L1436.2 1081.6 L1438.2 1073.3 L1440.2 1073.3 L1442.2 1073.3 L1444.2 1073.3 L1446.1 1073.3 L1448.1 1073.3 L1450.1 1073.3 L1452.1 1073.3 L1454.1 1073.3 L1456.0 1081.6 L1458.0 1073.3 L1460.0 1073.3 L1462.0 1081.6 L1463.9 1081.6 L1465.9 1081.6 L1467.9 1081.6 L1469.9 1081.6 L1471.8 1073.3 L1473.8 1081.6 L1475.8 1081.6 L1477.8 1089.9 L1479.7 1081.6 L1481.7 1081.6 L1483.7 1081.6 L1485.7 1081.6 L1487.7 1089.9 L1489.6 1089.9 L1491.6 1081.6 L1493.6 1081.6 L1495.6 1081.6 L1497.5 1089.9 L1499.5 1089.9 L1501.5 1089.9 L1503.5 1089.9 L1505.4 1089.9 L1507.4 1089.9 L1509.4 1089.9 L1511.4 1081.6 L1513.4 1089.9 L1515.3 1089.9 L1517.3 1081.6 L1519.3 1081.6 L1521.3 1081.6 L1523.2 1081.6 L1525.2 1081.6 L1527.2 1081.6 L1529.2 1081.6 L1531.2 1081.6 L1533.1 1089.9 L1535.1 1089.9 L1537.1 1089.9 L1539.1 1090.2 L1541.1 1089.9 L1543.0 1089.9 L1545.0 1089.9 L1547.0 1089.9 L1549.0 1098.2 L1551.0 1089.9 L1553.0 1089.9 L1554.9 1089.9 L1556.9 1089.9 L1558.9 1089.9 L1560.9 1098.2 L1562.9 1098.2 L1564.9 1098.2 L1566.9 1089.9 L1568.8 1089.9 L1570.8 1089.9 L1572.8 1089.9 L1574.8 1089.9 L1576.8 1089.9 L1578.8 1089.9 L1580.8 1098.2 L1582.8 1098.2 L1584.8 1104.1 L1586.7 1098.2 L1588.7 1098.2 L1590.7 1098.2 L1592.7 1098.2 L1594.7 1097.1 L1596.7 1098.2 L1598.7 1098.2 L1600.7 1098.2 L1602.6 1089.9 L1604.6 1089.9 L1606.6 1098.2 L1608.6 1098.2 L1610.6 1098.2 L1612.6 1098.2 L1614.6 1098.2 L1616.6 1098.2 L1618.6 1106.6 L1620.5 1098.2 L1622.5 1098.2 L1624.5 1098.2 L1626.5 1098.2 L1628.5 1098.2 L1630.5 1098.2 L1632.5 1098.2 L1634.5 1106.9 L1636.4 1098.2 L1638.4 1106.6 L1640.4 1098.2 L1642.4 1098.2 L1644.4 1098.2 L1646.4 1098.6 L1648.3 1106.6 L1650.3 1098.2 L1652.3 1106.6 L1654.3 1106.6 L1656.3 1106.6 L1658.3 1106.6 L1660.2 1106.6 L1662.2 1106.6 L1664.2 1106.6 L1666.2 1106.6 L1668.2 1106.6 L1670.1 1106.6 L1672.1 1106.6 L1674.1 1106.6 L1676.1 1106.6 L1678.1 1106.6 L1680.0 1106.6 L1682.0 1106.6 L1684.0 1114.9 L1686.0 1114.9 L1687.9 1106.6 L1689.9 1114.9 L1691.9 1114.9 L1693.9 1114.9 L1695.8 1106.6 L1697.8 1106.6 L1699.8 1114.9 L1701.8 1114.9 L1703.7 1106.6 L1705.7 1106.6 L1707.7 1106.6 L1709.7 1106.6 L1711.6 1106.6 L1713.6 1106.6 L1715.6 1114.9 L1717.6 1106.6 L1719.5 1106.6 L1721.5 1114.9 L1723.5 1123.2 L1725.5 1106.6 L1727.4 1114.9 L1729.4 1114.9 L1731.4 1123.2 L1733.3 1123.2 L1735.3 1114.9 L1737.3 1123.2 L1739.3 1123.2 L1741.2 1114.9 L1743.2 1123.2 L1745.2 1123.2 L1747.2 1123.2 L1749.1 1123.2 L1751.1 1123.2 L1753.1 1123.2 L1755.1 1123.2 L1757.0 1123.2 L1759.0 1114.9 L1761.0 1114.9 L1763.0 1123.2 L1764.9 1114.9 L1766.9 1123.2 L1768.9 1123.2 L1770.9 1123.2 L1772.9 1127.8 L1774.8 1123.2 L1776.8 1123.2 L1778.8 1123.2 L1780.8 1123.2 L1782.8 1123.2 L1784.7 1123.2 L1786.7 1123.2 L1788.7 1123.2 L1790.7 1131.5 L1792.7 1123.2 L1794.6 1123.2 L1796.6 1123.2 L1798.6 1123.2 L1800.6 1123.2 L1802.6 1123.2 L1804.6 1123.2 L1806.5 1131.5 L1808.5 1131.5 L1810.5 1131.5 L1812.5 1123.2 L1814.5 1123.2 L1816.5 1131.5 L1818.4 1131.5 L1820.4 1131.5 L1822.4 1131.5 L1824.4 1131.5 L1826.4 1123.2 L1828.4 1123.2 L1830.4 1131.5 L1832.3 1131.0 L1834.3 1131.5 L1836.3 1139.8 L1838.3 1131.5 L1840.3 1136.9 L1842.3 1131.5 L1844.3 1131.5 L1846.3 1131.5 L1848.3 1131.5 L1850.2 1139.8 L1852.2 1131.5 L1854.2 1131.5 L1856.2 1131.5 L1858.2 1131.5 L1860.2 1131.5 L1862.2 1131.5 L1864.2 1131.5 L1866.2 1131.5 L1868.2 1139.8 L1870.2 1139.8 L1872.2 1139.8 L1874.2 1139.8 L1876.1 1138.9 L1878.1 1139.8 L1880.1 1139.8 L1882.1 1131.5 L1884.1 1139.8 L1886.1 1139.8 L1888.1 1139.8 L1890.1 1139.8 L1892.1 1131.5 L1894.1 1139.8 L1896.1 1139.8 L1898.1 1131.5 L1900.1 1139.8 L1902.1 1139.8 L1904.1 1139.8 L1906.1 1139.8 L1908.1 1139.8 L1910.1 1131.5 L1912.1 1139.8 L1914.1 1139.8 L1916.1 1139.8 L1918.1 1139.8 L1920.1 1131.5 L1922.1 1131.5 L1924.1 1139.8 L1926.1 1139.8 L1928.1 1139.8 L1930.1 1139.8 L1932.1 1139.8 L1934.1 1139.8 L1936.1 1131.5 L1938.1 1131.5 L1940.1 1139.8 L1942.1 1139.8 L1944.1 1139.8 L1946.1 1131.5 L1948.1 1131.5 L1950.1 1131.5 L1952.1 1131.5 L1954.1 1131.5 L1956.1 1139.8 L1958.1 1139.8 L1960.1 1139.8 L1962.1 1139.8 L1964.1 1139.8 L1966.1 1139.8 L1968.1 1139.8 L1970.1 1139.8 L1972.1 1131.5 L1974.1 1131.5 L1976.1 1131.5 L1978.1 1139.8 L1980.1 1139.8 L1982.0 1139.8 L1984.0 1131.5 L1986.0 1131.5 L1988.0 1131.5 L1990.0 1139.8 L1992.0 1139.8 L1994.0 1131.5 L1996.0 1139.8 L1998.0 1139.8 L2000.0 1139.8 L2002.0 1139.8 L2004.0 1139.8 L2006.0 1139.8 L2008.0 1139.8 L2010.0 1139.8 L2012.0 1131.5 L2014.0 1131.5 L2016.0 1131.5 L2018.0 1131.5 L2020.0 1139.8 L2022.0 1139.8" fill="none" stroke="#62E58D" stroke-width="13" stroke-linecap="round" stroke-linejoin="round"/>
<path d="M329.5 1760.0 L330.2 1758.1 L330.8 1756.2 L331.5 1754.3 L332.1 1752.4 L332.8 1750.6 L333.5 1748.7 L334.2 1746.8 L335.0 1745.0 L335.7 1743.1 L336.4 1741.3 L337.1 1739.5 L337.8 1737.4 L338.5 1735.2 L339.1 1733.4 L339.7 1731.5 L340.2 1729.7 L340.8 1728.6 L341.3 1726.2 L341.8 1724.5 L342.3 1722.8 L342.9 1721.1 L343.4 1718.5 L343.9 1715.8 L344.4 1714.1 L345.0 1712.4 L345.5 1710.8 L346.1 1707.9 L346.6 1707.6 L347.2 1706.0 L347.7 1703.1 L348.2 1701.5 L348.8 1700.0 L349.3 1696.8 L349.7 1695.3 L350.2 1692.1 L350.6 1692.3 L351.1 1690.8 L351.5 1685.6 L351.9 1684.1 L352.3 1684.5 L352.6 1683.1 L353.0 1679.6 L353.3 1678.1 L353.7 1676.7 L354.0 1673.1 L354.3 1669.5 L354.6 1670.3 L354.9 1666.6 L355.2 1665.2 L355.5 1663.7 L355.8 1662.3 L356.0 1661.0 L356.3 1657.2 L356.6 1655.8 L356.8 1654.4 L357.1 1653.1 L357.4 1651.7 L357.6 1647.8 L357.9 1646.5 L358.1 1642.5 L358.3 1641.2 L358.5 1639.9 L358.8 1638.6 L359.0 1637.3 L359.2 1633.2 L359.4 1631.9 L359.5 1627.8 L359.7 1629.3 L359.9 1628.1 L360.1 1623.9 L360.3 1622.7 L360.4 1621.4 L360.6 1617.2 L360.8 1615.9 L361.0 1614.7 L361.1 1610.5 L361.3 1609.2 L361.5 1608.0 L361.7 1606.7 L361.8 1605.5 L362.0 1604.3 L362.2 1600.0 L362.3 1595.6 L362.5 1594.4 L362.6 1593.2 L362.8 1588.8 L362.9 1587.6 L363.1 1586.4 L363.2 1585.2 L363.4 1580.8 L363.5 1579.6 L363.7 1581.7 L363.8 1580.5 L364.0 1576.0 L364.1 1574.9 L364.2 1573.7 L364.4 1572.5 L364.5 1564.7 L364.7 1563.5 L364.8 1562.3 L364.9 1561.2 L365.1 1563.5 L365.2 1558.9 L365.4 1557.8 L365.5 1553.2 L365.6 1552.0 L365.8 1547.4 L365.9 1549.8 L366.0 1545.2 L366.1 1544.1 L366.3 1543.0 L366.4 1538.3 L366.5 1537.2 L366.6 1536.1 L366.8 1535.0 L366.9 1533.9 L367.0 1532.8 L367.1 1531.7 L367.2 1527.0 L367.3 1522.2 L367.5 1521.1 L367.6 1520.1 L367.7 1519.0 L367.8 1514.2 L367.9 1516.9 L368.0 1512.1 L368.1 1511.0 L368.2 1510.0 L368.3 1505.1 L368.4 1504.1 L368.5 1503.0 L368.6 1502.0 L368.7 1501.0 L368.7 1499.9 L368.8 1491.2 L368.9 1494.0 L369.0 1489.1 L369.1 1488.1 L369.2 1487.1 L369.3 1486.0 L369.4 1485.0 L369.5 1484.0 L369.5 1475.1 L369.6 1474.1 L369.7 1473.1 L369.8 1472.1 L369.9 1467.1 L370.0 1466.1 L370.1 1468.5 L370.2 1464.1 L370.3 1459.1 L370.3 1462.1 L370.4 1461.1 L370.5 1456.1 L370.6 1455.1 L370.7 1450.1 L370.8 1449.1 L370.9 1448.1 L370.9 1447.1 L371.0 1442.0 L371.1 1441.1 L371.2 1440.1 L371.3 1439.1 L371.4 1434.0 L371.4 1437.2 L371.5 1432.1 L371.6 1431.1 L371.7 1430.2 L371.8 1429.3 L371.8 1428.3 L371.9 1423.2 L372.0 1422.2 L372.1 1417.0 L372.1 1420.3 L372.2 1410.9 L372.3 1414.2 L372.4 1409.0 L372.4 1412.4 L372.5 1407.2 L372.6 1406.3 L372.6 1401.0 L372.7 1404.4 L372.8 1394.9 L372.8 1393.9 L372.9 1393.0 L373.0 1387.8 L373.0 1391.2 L373.1 1390.3 L373.1 1389.4 L373.2 1384.1 L373.3 1383.2 L373.3 1382.3 L373.4 1381.4 L373.4 1380.5 L373.5 1375.2 L373.5 1374.3 L373.6 1373.4 L373.7 1372.5 L373.7 1367.2 L373.8 1366.3 L373.8 1361.0 L373.9 1360.1 L373.9 1359.2 L374.0 1353.9 L374.0 1353.0 L374.1 1347.6 L374.1 1351.2 L374.2 1345.9 L374.3 1345.0 L374.3 1348.6 L374.4 1343.2 L374.4 1342.4 L374.5 1337.0 L374.5 1331.6 L374.6 1335.2 L374.6 1329.8 L374.7 1329.0 L374.8 1328.1 L374.8 1327.2 L374.9 1326.4 L374.9 1321.0 L375.0 1320.1 L375.0 1314.7 L375.1 1313.8 L375.2 1313.0 L375.2 1312.1 L375.3 1306.7 L375.4 1310.4 L375.4 1309.6 L375.5 1304.1 L375.6 1303.3 L375.6 1302.4 L375.7 1296.9 L375.8 1296.1 L375.8 1295.3 L375.9 1294.4 L375.9 1293.6 L376.0 1288.1 L376.1 1287.3 L376.2 1286.5 L376.2 1285.6 L376.3 1280.1 L376.4 1279.3 L376.4 1278.5 L376.5 1272.9 L376.6 1272.1 L376.6 1271.3 L376.7 1265.7 L376.8 1269.7 L376.8 1259.3 L376.9 1258.5 L377.0 1257.7 L377.0 1256.9 L377.1 1251.3 L377.2 1250.5 L377.2 1249.7 L377.3 1248.9 L377.4 1248.1 L377.4 1247.3 L377.5 1246.5 L377.6 1240.9 L377.7 1235.2 L377.7 1239.3 L377.8 1238.6 L377.9 1237.8 L377.9 1232.1 L378.0 1226.4 L378.1 1225.6 L378.1 1224.9 L378.2 1224.1 L378.3 1218.4 L378.3 1217.6 L378.4 1221.8 L378.5 1221.1 L378.5 1210.4 L378.6 1209.6 L378.7 1213.8 L378.7 1213.1 L378.8 1207.4 L378.9 1206.6 L378.9 1200.9 L379.0 1200.1 L379.1 1199.4 L379.2 1198.6 L379.2 1197.9 L379.3 1192.1 L379.4 1191.4 L379.4 1190.6 L379.5 1189.9 L379.6 1184.1 L379.6 1183.4 L379.7 1177.6 L379.8 1181.9 L379.8 1181.2 L379.9 1175.4 L380.0 1174.7 L380.0 1168.8 L380.1 1168.1 L380.2 1167.4 L380.2 1166.7 L380.3 1166.0 L380.4 1160.1 L380.4 1159.4 L380.5 1158.7 L380.6 1158.0 L380.6 1152.1 L380.7 1151.4 L380.8 1145.5 L380.8 1144.8 L380.9 1144.1 L381.0 1138.2 L381.0 1137.5 L381.1 1136.8 L381.1 1136.1 L381.2 1135.4 L381.3 1134.7 L381.3 1128.8 L381.4 1128.1 L381.5 1122.1 L381.5 1121.4 L381.6 1120.8 L381.6 1120.1 L381.7 1119.4 L381.8 1118.8 L381.8 1118.1 L381.9 1112.1 L381.9 1111.4 L382.0 1110.8 L382.1 1104.8 L382.1 1104.1 L382.2 1103.5 L382.2 1102.8 L382.3 1102.2 L382.4 1096.1 L382.4 1095.5 L382.5 1089.4 L382.6 1088.7 L382.6 1088.1 L382.7 1087.5 L382.8 1081.4 L382.8 1080.7 L382.9 1080.1 L382.9 1079.5 L383.0 1078.8 L383.1 1072.7 L383.1 1072.1 L383.2 1071.5 L383.3 1070.9 L383.4 1064.7 L383.4 1064.1 L383.5 1063.5 L383.6 1062.9 L383.6 1062.3 L383.7 1061.7 L383.8 1055.5 L383.9 1049.3 L383.9 1048.7 L384.0 1053.7 L384.1 1047.5 L384.2 1046.9 L384.2 1040.7 L384.3 1040.1 L384.4 1039.5 L384.5 1033.3 L384.5 1032.7 L384.6 1032.1 L384.7 1031.5 L384.8 1030.9 L384.8 1030.4 L384.9 1029.8 L385.0 1023.5 L385.1 1023.0 L385.1 1016.7 L385.2 1016.1 L385.3 1009.8 L385.3 1009.2 L385.4 1008.7 L385.5 1008.1 L385.5 1001.8 L385.6 1001.2 L385.6 1000.7 L385.7 1000.1 L385.7 993.7 L385.8 993.2 L385.9 992.6 L385.9 992.1 L386.0 991.6 L386.0 991.0 L386.0 984.6 L386.1 984.1 L386.1 983.6 L386.2 977.2 L386.2 976.6 L386.3 976.1 L386.3 969.7 L386.3 969.2 L386.4 974.5 L386.4 968.1 L386.5 967.6 L386.5 967.0 L386.6 960.6 L386.6 960.1 L386.6 959.6 L386.7 959.0 L386.7 952.6 L386.8 952.1 L386.8 951.6 L386.9 945.1 L386.9 944.6 L387.0 944.1 L387.0 943.6 L387.1 937.1 L387.1 942.6 L387.2 942.1 L387.3 935.6 L387.3 929.1 L387.4 934.6 L387.4 928.1 L387.5 927.6 L387.5 927.1 L387.6 926.6 L387.7 920.1 L387.7 919.6 L387.8 919.1 L387.8 918.6 L387.9 918.1 L388.0 911.6 L388.0 911.1 L388.1 904.6 L388.1 904.1 L388.2 903.6 L388.3 897.0 L388.3 902.7 L388.4 896.1 L388.5 895.6 L388.5 895.1 L388.6 888.6 L388.7 888.1 L388.7 881.5 L388.8 887.2 L388.9 880.5 L389.0 880.1 L389.0 879.6 L389.1 879.2 L389.2 872.5 L389.3 878.3 L389.4 865.4 L389.4 871.2 L389.5 870.8 L389.6 864.1 L389.7 863.6 L389.8 857.0 L389.9 856.5 L390.0 856.1 L390.0 855.7 L390.1 848.9 L390.2 848.5 L390.3 854.4 L390.4 847.7 L390.5 838.0 L390.6 840.5 L390.7 846.4 L390.8 846.1 L390.9 839.3 L391.0 838.9 L391.1 832.1 L391.2 831.7 L391.3 831.3 L391.4 824.5 L391.5 824.1 L391.6 823.7 L391.7 816.8 L391.8 816.5 L391.9 816.1 L392.0 815.7 L392.1 808.8 L392.2 808.4 L392.4 808.1 L392.5 807.7 L392.6 800.8 L392.7 800.4 L392.8 800.1 L392.9 793.1 L393.0 799.4 L393.2 792.4 L393.3 798.7 L393.4 791.7 L393.5 791.4 L393.6 784.4 L393.7 784.1 L393.9 783.8 L394.0 771.6 L394.1 776.4 L394.2 769.3 L394.4 769.0 L394.5 775.5 L394.6 775.2 L394.7 761.2 L394.9 774.6 L395.0 760.6 L395.1 760.4 L395.2 753.2 L395.4 752.9 L395.5 759.5 L395.6 752.3 L395.8 752.1 L395.9 751.8 L396.0 751.6 L396.2 751.3 L396.3 744.1 L396.4 743.8 L396.6 736.5 L396.7 743.4 L396.9 736.1 L397.0 735.8 L397.1 735.6 L397.3 735.4 L397.4 728.1 L397.6 727.9 L397.7 720.5 L397.8 727.4 L398.0 720.1 L398.1 719.9 L398.3 719.7 L398.4 712.2 L398.6 712.1 L398.7 704.6 L398.9 704.4 L399.0 704.2 L399.2 704.1 L399.3 703.9 L399.5 703.7 L399.6 696.2 L399.8 696.0 L399.9 695.9 L400.1 688.3 L400.2 688.2 L400.4 684.4 L400.6 680.4 L400.7 687.8 L400.9 680.2 L401.0 687.6 L401.2 679.9 L401.4 679.8 L401.5 679.7 L401.7 679.7 L401.8 671.9 L402.0 664.2 L402.2 664.1 L402.3 664.0 L402.5 671.7 L402.6 663.9 L402.8 656.1 L403.0 656.0 L403.1 656.0 L403.3 655.9 L403.4 648.1 L403.6 655.9 L403.7 655.8 L403.9 647.9 L404.0 647.9 L404.2 640.0 L404.3 632.1 L404.5 640.0 L404.6 632.0 L404.8 640.0 L404.9 632.0 L405.1 632.0 L405.2 632.0 L405.3 632.0 L405.5 632.0 L405.6 624.0 L405.8 624.0 L405.9 624.0 L406.0 608.0 L406.2 608.0 L406.3 616.0 L406.4 608.0 L406.6 608.0 L406.7 608.0 L406.8 608.0 L406.9 608.0 L407.1 592.0 L407.2 600.0 L407.3 600.0 L407.5 592.0 L407.6 592.0 L407.8 592.0 L407.9 584.0 L408.0 584.0 L408.2 584.0 L408.3 576.0 L408.5 576.0 L408.6 576.0 L408.7 576.0 L408.9 568.0 L409.0 568.0 L409.2 568.0 L409.3 568.0 L409.5 560.0 L409.7 568.0 L409.8 560.0 L410.0 560.0 L410.1 552.0 L410.3 552.0 L410.4 560.0 L410.6 544.0 L410.8 544.0 L410.9 544.0 L411.1 544.0 L411.3 544.0 L411.4 536.0 L411.6 536.0 L411.8 544.0 L412.0 536.0 L412.1 536.0 L412.3 536.0 L412.5 536.0 L412.7 528.0 L412.9 528.0 L413.1 520.0 L413.3 520.0 L413.5 512.0 L413.7 512.0 L414.0 512.0 L414.2 512.0 L414.4 512.0 L414.6 504.0 L414.8 512.0 L415.1 512.0 L415.3 512.0 L415.5 496.0 L415.8 496.0 L416.0 496.0 L416.2 488.0 L416.5 488.0 L416.7 488.0 L416.9 480.0 L417.2 480.0 L417.4 480.0 L417.6 480.0 L417.8 480.0 L418.1 480.0 L418.3 480.0 L418.5 480.0 L418.7 480.0 L418.9 478.5 L419.1 472.0 L419.3 472.0 L419.6 472.0 L419.8 464.0 L420.0 464.0 L420.2 464.0 L420.4 464.0 L420.6 456.0 L420.8 456.0 L421.0 456.0 L421.2 456.0 L421.5 448.0 L421.7 448.0 L421.9 448.0 L422.2 440.0 L422.4 440.0 L422.6 440.0 L422.9 440.0 L423.1 432.0 L423.4 432.0 L423.7 432.0 L423.9 432.0 L424.2 432.0 L424.5 424.0 L424.7 424.0 L425.0 424.0 L425.3 424.0 L425.6 416.0 L425.9 416.0 L426.1 408.0 L426.4 408.0 L426.7 400.0 L427.0 400.0 L427.3 408.0 L427.6 408.0 L428.0 400.0 L428.3 400.0 L428.6 400.0 L428.9 392.0 L429.3 384.0 L429.6 392.0 L430.0 384.0 L430.3 384.0 L430.7 392.0 L431.1 384.0 L431.4 384.0 L431.8 376.0 L432.2 376.0 L432.6 376.0 L433.1 376.0 L433.5 368.0 L433.9 368.0 L434.4 368.0 L434.8 368.0 L435.3 360.0 L435.7 360.0 L436.0 360.0 L436.4 360.0 L436.7 352.0 L437.0 344.0 L437.3 352.0 L437.5 352.0 L437.8 352.0 L438.1 352.0 L438.3 344.0 L438.6 344.0 L438.9 344.0 L439.2 336.0 L439.5 336.0 L439.8 336.0 L440.2 328.0 L440.5 328.0 L440.8 328.0 L441.2 320.0 L441.5 320.0 L441.9 320.0 L442.2 312.0 L442.6 312.0 L442.9 312.0 L443.3 320.0 L443.7 312.0 L444.0 304.0 L444.4 312.0 L444.8 304.0 L445.2 304.0 L445.6 304.0 L446.0 304.0 L446.4 304.0 L446.8 288.0 L447.2 288.0 L447.6 288.0 L448.1 288.0 L448.5 288.0 L449.0 288.0 L449.4 280.0 L449.9 280.0 L450.3 272.0 L450.8 285.0 L451.3 280.0 L451.8 272.0 L452.3 264.0 L452.8 264.0 L453.3 272.0 L453.9 272.0 L454.4 272.0 L455.0 256.0 L455.6 256.0 L456.2 264.0 L456.8 256.0 L457.4 256.0 L458.0 256.0 L458.7 248.0 L459.3 248.0 L460.0 256.0 L460.6 248.0 L461.3 248.0 L462.0 240.0 L462.6 232.0 L463.3 232.0 L464.0 240.0 L464.7 240.0 L465.4 240.0 L466.1 232.0 L466.9 232.0 L467.6 232.0 L468.3 224.0 L469.0 216.0 L469.8 224.0 L470.5 224.0 L471.1 216.0 L471.8 216.0 L472.4 208.0 L473.0 208.0 L473.6 208.0 L474.3 208.0 L475.0 213.4 L475.8 200.0 L476.6 200.0 L477.5 200.0 L478.5 200.0 L479.7 200.0 L481.0 192.0 L482.4 192.0 L483.9 192.0 L485.5 184.0 L487.2 184.0 L488.8 192.0 L490.5 192.0 L492.1 192.0 L493.7 192.0 L495.2 192.0 L496.6 184.0 L498.1 184.0 L499.6 184.0 L501.1 192.0 L502.5 184.0 L503.9 192.0 L505.3 200.0 L506.6 200.0 L507.9 200.0 L509.1 192.0 L510.3 200.0 L511.4 200.0 L512.4 200.0 L513.4 208.0 L514.3 200.0 L515.1 208.0 L516.0 216.0 L516.7 216.0 L517.5 216.0 L518.3 216.0 L519.0 216.0 L519.8 224.0 L520.5 216.0 L521.2 232.0 L521.8 224.0 L522.5 224.0 L523.1 232.0 L523.7 232.0 L524.3 232.0 L524.9 232.0 L525.4 240.0 L526.0 240.0 L526.6 248.0 L527.1 240.0 L527.7 248.0 L528.3 256.0 L528.8 248.0 L529.4 256.0 L529.9 256.0 L530.5 256.0 L531.0 256.0 L531.5 256.0 L532.0 264.0 L532.5 264.0 L533.0 264.0 L533.4 264.0 L533.9 264.0 L534.3 272.0 L534.7 272.0 L535.1 272.0 L535.5 272.0 L535.9 272.0 L536.3 280.0 L536.6 280.0 L537.0 288.0 L537.4 288.0 L537.8 288.0 L538.2 288.0 L538.7 288.0 L539.1 296.0 L539.5 296.0 L540.0 304.0 L540.4 304.0 L540.9 304.0 L541.3 304.0 L541.7 304.0 L542.2 312.0 L542.6 312.0 L543.1 312.0 L543.5 312.0 L544.0 312.0 L544.4 312.0 L544.8 320.0 L545.3 320.0 L545.7 320.0 L546.1 328.0 L546.6 328.0 L547.0 336.0 L547.4 336.0 L547.9 336.0 L548.3 344.0 L548.8 336.0 L549.2 336.0 L549.7 336.0 L550.2 344.0 L550.6 344.0 L551.1 352.0 L551.5 345.0 L552.0 352.0 L552.5 352.0 L553.0 352.0 L553.5 360.0 L554.0 352.0 L554.5 360.0 L555.0 360.0 L555.5 368.0 L556.1 368.0 L556.6 360.0 L557.2 368.0 L557.7 376.0 L558.2 376.0 L558.6 376.0 L559.1 376.0 L559.5 384.0 L559.9 376.0 L560.2 384.0 L560.6 392.0 L560.9 392.0 L561.2 392.0 L561.5 392.0 L561.8 392.0 L562.1 400.0 L562.3 392.0 L562.6 400.0 L562.8 406.0 L563.0 400.0 L563.3 400.0 L563.5 408.0 L563.7 408.0 L564.0 408.0 L564.2 408.0 L564.4 416.0 L564.7 416.0 L565.0 416.0 L565.2 424.0 L565.5 424.0 L565.8 424.0 L566.1 424.0 L566.5 424.0 L566.8 432.0 L567.1 432.0 L567.5 432.0 L567.8 440.0 L568.2 440.0 L568.5 440.0 L568.8 448.0 L569.2 448.0 L569.5 448.0 L569.9 456.0 L570.2 456.0 L570.6 456.0 L571.0 456.0 L571.3 456.0 L571.7 456.0 L572.0 456.0 L572.4 456.0 L572.7 456.0 L573.1 472.0 L573.5 472.0 L573.8 472.0 L574.2 472.0 L574.5 472.0 L574.9 472.0 L575.2 472.0 L575.5 480.0 L575.9 480.0 L576.2 480.0 L576.5 488.0 L576.8 480.0 L577.1 488.0 L577.4 496.0 L577.7 496.0 L578.0 496.0 L578.2 496.0 L578.5 496.0 L578.8 496.0 L579.1 504.0 L579.5 512.0 L579.8 504.0 L580.1 504.0 L580.4 512.0 L580.8 512.0 L581.2 520.0 L581.5 520.0 L581.9 512.0 L582.3 520.0 L582.8 520.0 L583.2 528.0 L583.7 528.0 L584.2 528.0 L584.7 528.0 L585.3 536.0 L585.9 544.0 L586.5 548.7 L587.1 544.0 L587.7 544.0 L588.4 536.0 L589.0 544.0 L589.7 552.0 L590.4 544.0 L591.0 552.0 L591.7 560.0 L592.3 552.0 L593.0 560.0 L593.6 560.0 L594.2 560.0 L594.8 568.0 L595.3 560.0 L595.9 560.0 L596.4 568.0 L596.8 568.0 L597.3 576.0 L597.7 576.0 L598.1 584.0 L598.6 584.0 L598.9 576.0 L599.3 584.0 L599.7 584.0 L600.1 584.0 L600.5 592.0 L600.8 592.0 L601.2 592.0 L601.6 592.0 L602.0 600.0 L602.4 600.0 L602.8 600.0 L603.3 608.0 L603.7 608.0 L604.2 608.0 L604.6 608.0 L605.1 608.0 L605.6 608.0 L606.1 616.0 L606.5 616.0 L607.0 616.0 L607.5 624.0 L608.0 624.0 L608.5 624.0 L609.0 624.0 L609.5 624.0 L610.0 632.0 L610.5 640.0 L611.0 640.0 L611.4 640.0 L611.9 640.0 L612.4 640.0 L612.9 640.0 L613.4 648.0 L613.8 640.0 L614.3 653.6 L614.8 648.0 L615.3 656.0 L615.8 648.0 L616.3 656.0 L616.8 648.0 L617.3 656.0 L617.8 656.0 L618.3 664.0 L618.8 664.0 L619.4 664.0 L619.9 664.0 L620.4 664.0 L621.0 680.0 L621.5 672.0 L622.1 672.0 L622.6 672.0 L623.2 672.0 L623.7 680.0 L624.3 680.0 L624.9 688.0 L625.5 688.0 L626.1 688.0 L626.7 688.0 L627.3 696.0 L628.0 696.0 L628.6 696.0 L629.3 696.0 L630.0 704.0 L630.7 704.0 L631.5 704.0 L632.2 712.0 L633.0 712.0 L633.7 704.0 L634.5 712.0 L635.2 720.0 L636.0 712.0 L636.8 720.0 L637.5 720.0 L638.3 720.0 L639.0 728.0 L639.7 728.0 L640.5 728.0 L641.2 728.0 L641.9 728.0 L642.7 736.0 L643.4 736.0 L644.1 736.0 L644.9 736.0 L645.7 736.0 L646.4 736.0 L647.2 744.0 L648.0 752.0 L648.8 744.0 L649.6 744.0 L650.5 744.0 L651.3 760.0 L652.2 752.0 L653.0 752.0 L653.9 760.0 L654.7 760.0 L655.6 768.0 L656.4 768.0 L657.3 760.0 L658.1 768.0 L659.0 780.2 L659.8 776.0 L660.7 776.0 L661.5 776.0 L662.3 776.0 L663.1 776.0 L664.0 776.0 L664.8 784.0 L665.7 784.0 L666.5 792.0 L667.4 784.0 L668.2 792.0 L669.1 792.0 L670.0 792.0 L670.9 792.0 L671.8 792.0 L672.8 800.0 L673.7 792.0 L674.7 792.0 L675.6 800.0 L676.6 800.0 L677.6 808.0 L678.5 808.0 L679.5 808.0 L680.4 808.0 L681.4 808.0 L682.3 808.0 L683.2 808.0 L684.1 820.9 L684.9 816.0 L685.8 824.0 L686.7 832.0 L687.5 824.0 L688.4 824.0 L689.3 832.0 L690.2 832.0 L691.1 832.0 L692.1 832.0 L693.1 832.0 L694.1 840.0 L695.2 840.0 L696.3 840.0 L697.5 840.0 L698.6 848.0 L699.8 848.0 L701.0 856.0 L702.3 856.0 L703.5 856.0 L704.8 856.0 L706.0 856.0 L707.3 856.0 L708.5 856.0 L709.8 864.0 L711.1 864.0 L712.3 864.0 L713.6 872.0 L714.8 864.0 L716.0 864.0 L717.2 872.0 L718.4 872.0 L719.6 880.0 L720.8 872.0 L722.1 872.0 L723.3 880.0 L724.5 880.0 L725.7 880.0 L727.0 888.0 L728.2 880.0 L729.5 888.0 L730.8 888.0 L732.1 888.0 L733.4 888.0 L734.8 888.0 L736.2 896.0 L737.6 896.0 L739.0 896.0 L740.4 888.0 L741.8 888.0 L743.3 896.0 L744.8 904.0 L746.3 896.0 L747.8 909.8 L749.3 912.0 L750.8 912.0 L752.3 912.0 L753.8 904.0 L755.4 912.0 L756.9 912.0 L758.5 920.0 L760.1 920.0 L761.7 912.0 L763.3 920.0 L764.9 912.0 L766.6 912.0 L768.2 920.0 L769.9 920.0 L771.5 928.0 L773.2 920.0 L774.8 920.0 L776.4 920.0 L778.1 928.0 L779.7 928.0 L781.3 928.0 L782.8 928.0 L784.4 928.0 L786.0 928.0 L787.5 928.0 L789.1 928.0 L790.6 928.0 L792.2 936.0 L793.8 936.0 L795.3 944.0 L796.9 944.0 L798.5 944.0 L800.1 944.0 L801.7 944.0 L803.3 944.0 L805.0 952.0 L806.6 952.0 L808.3 952.0 L810.0 944.0 L811.6 944.0 L813.3 944.0 L815.0 952.0 L816.7 952.0 L818.4 952.0 L820.1 952.0 L821.8 960.0 L823.5 952.0 L825.2 960.0 L827.0 960.0 L828.7 960.0 L830.4 968.0 L832.2 968.0 L833.9 960.0 L835.7 968.0 L837.4 960.0 L839.2 960.0 L841.0 968.0 L842.8 968.0 L844.6 968.0 L846.4 968.0 L848.3 976.0 L850.2 976.0 L852.1 976.0 L854.1 976.0 L856.0 976.0 L858.0 976.0 L860.0 976.0 L862.0 968.0 L864.0 976.0 L866.0 976.0 L868.0 976.0 L870.0 976.0 L872.0 984.0 L874.0 976.0 L876.0 968.0 L877.9 972.3 L879.9 976.0 L881.8 976.0 L883.8 984.0 L885.7 984.0 L887.7 976.0 L889.6 976.0 L891.5 984.0 L893.5 984.0 L895.4 984.0 L897.3 984.0 L899.3 984.0 L901.2 984.0 L903.1 984.0 L905.0 984.0 L906.9 976.0 L908.8 992.0 L910.7 984.0 L912.6 984.0 L914.5 984.0 L916.4 992.0 L918.2 992.0 L920.1 992.0 L922.0 984.0 L923.9 992.0 L925.8 992.0 L927.6 992.0 L929.5 992.0 L931.4 992.0 L933.2 992.0 L935.1 992.0 L936.9 992.0 L938.8 992.0 L940.7 992.0 L942.5 1000.0 L944.4 992.0 L946.2 992.0 L948.1 1000.0 L949.9 992.0 L951.8 1000.0 L953.7 1000.0 L955.5 1000.0 L957.4 1000.0 L959.3 1000.0 L961.2 1008.0 L963.0 1000.0 L964.9 1000.0 L966.8 1008.0 L968.7 1008.0 L970.5 1016.0 L972.4 1016.0 L974.3 1008.0 L976.2 1008.0 L978.1 1008.0 L980.0 1008.0 L981.9 1008.0 L983.8 1008.0 L985.7 1016.0 L987.7 1016.0 L989.6 1016.0 L991.5 1016.0 L993.4 1024.0 L995.4 1024.0 L997.3 1024.0 L999.2 1016.0 L1001.1 1016.0 L1003.1 1024.0 L1005.0 1016.0 L1006.9 1024.0 L1008.9 1016.0 L1010.8 1024.0 L1012.8 1016.0 L1014.7 1016.0 L1016.6 1016.0 L1018.6 1024.0 L1020.5 1024.0 L1022.5 1024.0 L1024.4 1024.0 L1026.4 1024.0 L1028.3 1024.0 L1030.3 1024.0 L1032.3 1024.0 L1034.2 1024.0 L1036.2 1028.6 L1038.2 1032.0 L1040.1 1032.0 L1042.1 1032.0 L1044.1 1032.0 L1046.1 1032.0 L1048.0 1024.0 L1050.0 1024.0 L1052.0 1024.0 L1054.0 1032.0 L1056.0 1032.0 L1057.9 1024.0 L1059.9 1032.0 L1061.9 1032.0 L1063.9 1032.0 L1065.9 1032.0 L1067.8 1024.0 L1069.8 1032.0 L1071.8 1032.0 L1073.8 1024.0 L1075.8 1032.0 L1077.8 1032.0 L1079.8 1024.0 L1081.7 1032.0 L1083.7 1024.0 L1085.7 1024.0 L1087.7 1024.0 L1089.7 1032.0 L1091.7 1032.0 L1093.7 1032.0 L1095.7 1032.0 L1097.6 1040.0 L1099.6 1040.0 L1101.6 1032.0 L1103.6 1032.0 L1105.6 1032.0 L1107.6 1032.0 L1109.6 1040.0 L1111.6 1040.0 L1113.6 1032.0 L1115.6 1040.0 L1117.6 1040.0 L1119.6 1040.0 L1121.5 1032.0 L1123.5 1032.0 L1125.5 1032.0 L1127.5 1032.0 L1129.5 1040.0 L1131.5 1040.0 L1133.5 1032.0 L1135.5 1032.0 L1137.5 1032.0 L1139.5 1040.0 L1141.5 1040.0 L1143.5 1040.0 L1145.5 1040.0 L1147.5 1040.0 L1149.5 1040.0 L1151.5 1040.0 L1153.5 1040.0 L1155.5 1040.0 L1157.5 1032.0 L1159.5 1040.0 L1161.4 1040.0 L1163.4 1040.0 L1165.4 1032.0 L1167.4 1040.0 L1169.4 1040.0 L1171.4 1040.0 L1173.4 1040.0 L1175.4 1040.0 L1177.4 1040.0 L1179.4 1040.0 L1181.4 1040.0 L1183.4 1040.0 L1185.4 1040.0 L1187.4 1040.0 L1189.4 1040.0 L1191.4 1040.0 L1193.4 1040.0 L1195.4 1040.0 L1197.4 1032.0 L1199.4 1032.0 L1201.4 1040.0 L1203.4 1048.0 L1205.4 1040.0 L1207.4 1048.0 L1209.4 1040.0 L1211.4 1040.0 L1213.4 1040.0 L1215.4 1048.0 L1217.4 1040.0 L1219.4 1040.0 L1221.4 1040.0 L1223.4 1040.0 L1225.4 1040.0 L1227.4 1040.0 L1229.4 1040.0 L1231.4 1040.0 L1233.4 1040.0 L1235.4 1040.0 L1237.4 1048.0 L1239.4 1040.0 L1241.4 1040.0 L1243.4 1040.0 L1245.4 1048.0 L1247.4 1044.9 L1249.4 1040.0 L1251.4 1040.0 L1253.4 1040.0 L1255.4 1040.0 L1257.4 1040.0 L1259.4 1048.0 L1261.4 1040.0 L1263.4 1048.0 L1265.4 1048.0 L1267.4 1048.0 L1269.4 1040.0 L1271.4 1048.0 L1273.4 1040.0 L1275.4 1040.0 L1277.4 1048.0 L1279.4 1048.0 L1281.4 1048.0 L1283.4 1040.0 L1285.4 1040.0 L1287.4 1040.0 L1289.4 1040.0 L1291.4 1040.0 L1293.4 1048.0 L1295.4 1040.0 L1297.4 1048.0 L1299.4 1048.0 L1301.4 1046.5 L1303.4 1040.0 L1305.4 1048.0 L1307.4 1048.0 L1309.4 1048.0 L1311.4 1040.0 L1313.4 1040.0 L1315.4 1040.0 L1317.4 1040.0 L1319.4 1040.0 L1321.4 1048.0 L1323.4 1048.0 L1325.3 1048.0 L1327.3 1048.0 L1329.3 1048.0 L1331.3 1040.0 L1333.3 1040.0 L1335.3 1040.0 L1337.3 1040.0 L1339.3 1040.0 L1341.3 1048.0 L1343.3 1040.0 L1345.3 1040.0 L1347.3 1048.0 L1349.3 1048.0 L1351.3 1048.0 L1353.3 1048.0 L1355.3 1048.0 L1357.3 1048.0 L1359.3 1056.0 L1361.3 1056.0 L1363.3 1040.0 L1365.3 1048.0 L1367.3 1048.0 L1369.3 1056.0 L1371.2 1048.0 L1373.2 1048.0 L1375.2 1048.0 L1377.2 1048.0 L1379.2 1056.0 L1381.2 1056.0 L1383.2 1056.0 L1385.2 1056.0 L1387.2 1056.0 L1389.2 1056.0 L1391.2 1056.0 L1393.2 1056.0 L1395.2 1048.0 L1397.2 1048.0 L1399.2 1048.0 L1401.2 1048.0 L1403.2 1056.0 L1405.2 1048.0 L1407.1 1048.0 L1409.1 1056.0 L1411.1 1056.0 L1413.1 1056.0 L1415.1 1056.0 L1417.1 1048.0 L1419.1 1048.0 L1421.1 1048.0 L1423.1 1048.0 L1425.1 1048.0 L1427.1 1048.0 L1429.1 1056.0 L1431.1 1056.0 L1433.1 1048.0 L1435.1 1056.0 L1437.1 1056.0 L1439.1 1056.0 L1441.1 1056.0 L1443.1 1056.0 L1445.0 1056.0 L1447.0 1056.0 L1449.0 1056.0 L1451.0 1056.0 L1453.0 1056.0 L1455.0 1056.0 L1457.0 1056.0 L1459.0 1056.0 L1461.0 1056.0 L1463.0 1056.0 L1465.0 1056.0 L1467.0 1056.0 L1469.0 1056.0 L1471.0 1056.0 L1473.0 1056.0 L1475.0 1056.0 L1477.0 1048.0 L1479.0 1056.0 L1481.0 1056.0 L1483.0 1056.0 L1485.0 1056.0 L1487.0 1056.0 L1489.0 1056.0 L1491.0 1064.0 L1492.9 1056.0 L1494.9 1064.0 L1496.9 1048.0 L1498.9 1064.0 L1500.9 1056.0 L1502.9 1056.0 L1504.9 1056.0 L1506.9 1056.0 L1508.9 1061.0 L1510.9 1056.0 L1512.9 1056.0 L1514.9 1056.0 L1516.9 1064.0 L1518.9 1064.0 L1520.9 1056.0 L1522.9 1056.0 L1524.9 1056.0 L1526.9 1056.0 L1528.9 1064.0 L1530.9 1064.0 L1532.8 1064.0 L1534.8 1056.0 L1536.8 1056.0 L1538.8 1064.0 L1540.8 1064.0 L1542.8 1056.0 L1544.8 1056.0 L1546.8 1056.0 L1548.8 1056.0 L1550.8 1056.0 L1552.8 1064.0 L1554.8 1064.0 L1556.7 1064.0 L1558.7 1064.0 L1560.7 1064.0 L1562.7 1056.0 L1564.7 1064.0 L1566.7 1064.0 L1568.7 1064.0 L1570.7 1056.0 L1572.7 1064.0 L1574.6 1064.0 L1576.6 1064.0 L1578.6 1064.0 L1580.6 1064.0 L1582.6 1064.0 L1584.6 1064.0 L1586.6 1064.0 L1588.5 1064.0 L1590.5 1072.0 L1592.5 1072.0 L1594.5 1064.0 L1596.5 1064.0 L1598.5 1072.0 L1600.4 1072.0 L1602.4 1072.0 L1604.4 1072.0 L1606.4 1072.0 L1608.4 1072.0 L1610.3 1072.0 L1612.3 1072.0 L1614.3 1072.0 L1616.3 1072.0 L1618.3 1072.0 L1620.2 1072.0 L1622.2 1072.0 L1624.2 1072.0 L1626.2 1072.0 L1628.1 1072.0 L1630.1 1072.0 L1632.1 1072.0 L1634.1 1072.0 L1636.0 1064.0 L1638.0 1064.0 L1640.0 1072.0 L1641.9 1072.0 L1643.9 1072.0 L1645.9 1072.0 L1647.9 1072.0 L1649.8 1072.0 L1651.8 1072.0 L1653.8 1072.0 L1655.8 1080.0 L1657.7 1080.0 L1659.7 1072.0 L1661.7 1080.0 L1663.6 1080.0 L1665.6 1080.0 L1667.6 1080.0 L1669.6 1080.0 L1671.5 1084.4 L1673.5 1080.0 L1675.5 1080.0 L1677.4 1080.0 L1679.4 1080.0 L1681.4 1080.0 L1683.3 1080.0 L1685.3 1080.0 L1687.3 1088.0 L1689.3 1088.0 L1691.2 1088.0 L1693.2 1080.0 L1695.2 1080.0 L1697.1 1080.0 L1699.1 1080.0 L1701.1 1088.0 L1703.1 1088.0 L1705.0 1080.0 L1707.0 1080.0 L1709.0 1088.0 L1711.0 1088.0 L1713.0 1088.0 L1715.0 1088.0 L1716.9 1088.0 L1718.9 1088.0 L1720.9 1088.0 L1722.9 1088.0 L1724.9 1088.0 L1726.9 1088.0 L1728.9 1092.9 L1730.8 1088.0 L1732.8 1088.0 L1734.8 1088.0 L1736.8 1088.0 L1738.7 1088.0 L1740.7 1088.0 L1742.7 1096.0 L1744.6 1096.0 L1746.6 1096.0 L1748.5 1088.0 L1750.5 1088.0 L1752.4 1088.0 L1754.4 1096.0 L1756.3 1096.0 L1758.2 1096.0 L1760.1 1088.0 L1762.1 1096.0 L1764.0 1100.0 L1765.9 1096.0 L1767.8 1104.0 L1769.7 1096.0 L1771.7 1104.0 L1773.6 1104.0 L1775.5 1104.0 L1777.5 1096.0 L1779.4 1104.0 L1781.4 1104.0 L1783.4 1096.0 L1785.4 1096.0 L1787.4 1096.0 L1789.4 1096.0 L1791.5 1104.0 L1793.5 1104.0 L1795.6 1096.0 L1797.6 1104.0 L1799.6 1104.0 L1801.7 1104.0 L1803.7 1104.0 L1805.7 1104.0 L1807.8 1104.0 L1809.8 1104.0 L1811.8 1104.0 L1813.7 1096.0 L1815.7 1104.0 L1817.6 1104.0 L1819.6 1104.0 L1821.5 1104.0 L1823.3 1104.0 L1825.2 1112.0 L1827.0 1112.0 L1828.8 1104.0 L1830.6 1104.0 L1832.3 1112.0 L1834.0 1112.0 L1835.7 1112.0 L1837.4 1112.0 L1839.1 1112.0 L1840.8 1112.0 L1842.6 1112.0 L1844.4 1112.0 L1846.2 1112.0 L1848.1 1120.0 L1850.0 1120.0 L1851.9 1128.0 L1853.8 1120.0 L1855.8 1120.0 L1857.8 1120.0 L1859.7 1120.0 L1861.7 1120.0 L1863.7 1120.0 L1865.7 1120.0 L1867.7 1128.0 L1869.7 1120.0 L1871.7 1120.0 L1873.7 1120.0 L1875.7 1120.0 L1877.7 1120.0 L1879.7 1120.0 L1881.6 1120.0 L1883.6 1120.0 L1885.6 1120.0 L1887.6 1128.0 L1889.5 1120.0 L1891.5 1120.0 L1893.5 1128.0 L1895.5 1128.0 L1897.5 1120.0 L1899.4 1120.0 L1901.4 1120.0 L1903.4 1128.0 L1905.4 1120.0 L1907.4 1128.0 L1909.4 1128.0 L1911.4 1128.0 L1913.4 1128.0 L1915.4 1128.0 L1917.4 1128.0 L1919.3 1128.0 L1921.3 1128.0 L1923.3 1128.0 L1925.3 1128.0 L1927.3 1128.0 L1929.3 1128.0 L1931.3 1141.6 L1933.3 1136.0 L1935.3 1128.0 L1937.3 1136.0 L1939.3 1128.0 L1941.3 1128.0 L1943.3 1128.0 L1945.3 1128.0 L1947.3 1128.0 L1949.3 1136.0 L1951.3 1136.0 L1953.3 1136.0 L1955.3 1128.0 L1957.3 1136.0 L1959.3 1128.0 L1961.3 1128.0 L1963.3 1128.0 L1965.3 1136.0 L1967.3 1128.0 L1969.3 1128.0 L1971.3 1128.0 L1973.3 1128.0 L1975.3 1136.0 L1977.3 1128.0 L1979.3 1128.0 L1981.3 1128.0" fill="none" stroke="#DE9DFF" stroke-width="13" stroke-linecap="round" stroke-linejoin="round"/>
<path d="M336.2 1735.0 L337.3 1733.3 L338.4 1731.7 L339.6 1730.0 L340.7 1728.4 L341.8 1726.7 L342.9 1725.1 L344.1 1723.4 L345.2 1721.8 L346.3 1720.1 L347.4 1718.4 L348.5 1716.8 L349.6 1715.1 L350.7 1713.4 L351.8 1711.8 L352.9 1710.1 L354.0 1708.4 L355.1 1706.7 L356.2 1705.1 L357.3 1703.4 L358.3 1701.7 L359.4 1700.0 L360.5 1698.3 L361.6 1696.6 L362.6 1694.9 L363.7 1693.2 L364.7 1691.5 L365.8 1689.8 L366.8 1688.1 L367.9 1686.4 L368.9 1684.7 L370.0 1683.0 L371.0 1681.3 L372.0 1679.6 L373.1 1677.9 L374.1 1676.1 L375.1 1674.4 L376.1 1672.7 L377.2 1671.0 L378.2 1669.3 L379.2 1667.5 L380.2 1665.8 L381.2 1664.1 L382.2 1662.4 L383.2 1660.6 L384.2 1658.9 L385.2 1657.2 L386.2 1655.4 L387.2 1653.7 L388.2 1651.9 L389.1 1650.2 L390.1 1648.4 L391.0 1646.6 L391.9 1644.9 L392.8 1643.0 L393.7 1641.2 L394.6 1639.4 L395.5 1637.6 L396.3 1635.8 L397.3 1634.0 L398.2 1632.3 L399.2 1630.5 L400.1 1628.8 L401.2 1627.1 L402.3 1625.4 L403.4 1623.8 L404.6 1622.2 L405.9 1620.7 L407.2 1619.2 L408.6 1617.7 L410.0 1616.3 L411.4 1614.8 L412.8 1613.4 L414.2 1612.0 L415.6 1610.5 L417.0 1609.1 L418.3 1607.5 L419.5 1606.0 L420.7 1604.4 L421.9 1602.8 L423.0 1601.1 L424.1 1599.5 L425.2 1597.8 L426.2 1596.1 L427.2 1594.3 L428.2 1592.6 L429.2 1590.9 L430.2 1589.1 L431.1 1587.3 L432.1 1585.5 L433.0 1583.8 L433.9 1582.0 L434.8 1580.2 L435.6 1578.4 L436.5 1576.6 L437.3 1574.7 L438.1 1572.9 L438.8 1571.0 L439.6 1569.2 L440.3 1567.3 L441.0 1565.4 L441.7 1563.6 L442.5 1561.7 L443.2 1559.9 L444.0 1558.0 L444.8 1556.2 L445.6 1554.3 L446.4 1552.5 L447.2 1550.7 L448.1 1548.9 L448.9 1547.1 L449.8 1545.3 L450.7 1543.5 L451.5 1541.7 L452.4 1539.9 L453.3 1538.1 L454.2 1536.3 L455.2 1534.5 L456.1 1532.8 L457.0 1531.0 L458.0 1529.2 L459.0 1527.5 L459.9 1525.8 L460.9 1524.0 L462.0 1522.3 L463.0 1520.6 L464.0 1518.9 L465.1 1517.2 L466.1 1515.5 L467.2 1513.7 L468.2 1512.0 L469.3 1510.3 L470.3 1508.6 L471.4 1506.9 L472.4 1505.2 L473.5 1503.5 L474.5 1501.8 L475.6 1500.1 L476.7 1498.5 L477.7 1496.8 L478.8 1495.1 L479.9 1493.4 L481.0 1491.7 L482.0 1490.0 L483.1 1488.3 L484.2 1486.7 L485.3 1485.0 L486.4 1483.3 L487.5 1481.7 L488.7 1480.0 L489.8 1478.4 L490.9 1476.7 L492.0 1475.1 L493.2 1473.4 L494.3 1471.8 L495.4 1470.1 L496.5 1468.4 L497.6 1466.8 L498.7 1465.1 L499.8 1463.4 L500.9 1461.7 L501.9 1460.0 L503.0 1458.3 L504.0 1456.6 L505.1 1454.9 L506.1 1453.2 L507.1 1451.5 L508.1 1449.8 L509.2 1448.0 L510.2 1446.3 L511.2 1444.6 L512.3 1442.9 L513.3 1441.2 L514.3 1439.5 L515.3 1437.7 L516.4 1436.0 L517.4 1434.3 L518.4 1432.6 L519.4 1430.9 L520.5 1429.1 L521.5 1427.4 L522.5 1425.7 L523.5 1424.0 L524.5 1422.3 L525.6 1420.5 L526.6 1418.8 L527.6 1417.1 L528.6 1415.4 L529.6 1413.6 L530.6 1411.9 L531.6 1410.2 L532.6 1408.5 L533.6 1406.7 L534.6 1405.0 L535.7 1403.3 L536.7 1401.5 L537.7 1399.8 L538.7 1398.1 L539.7 1396.4 L540.7 1394.7 L541.8 1393.0 L542.8 1391.2 L543.8 1389.5 L544.9 1387.8 L545.9 1386.1 L546.9 1384.3 L547.9 1382.6 L548.9 1380.9 L550.0 1379.2 L551.0 1377.5 L552.1 1375.8 L553.3 1374.2 L554.5 1372.6 L555.7 1371.1 L557.0 1369.6 L558.4 1368.1 L559.8 1366.7 L561.2 1365.3 L562.6 1363.9 L564.1 1362.5 L565.6 1361.1 L567.1 1359.8 L568.6 1358.4 L570.0 1357.1 L571.5 1355.7 L573.0 1354.3 L574.4 1352.9 L575.8 1351.5 L577.2 1350.0 L578.6 1348.6 L579.9 1347.1 L581.2 1345.6 L582.6 1344.1 L583.9 1342.6 L585.2 1341.1 L586.5 1339.6 L587.9 1338.1 L589.2 1336.6 L590.5 1335.1 L591.9 1333.6 L593.2 1332.1 L594.6 1330.7 L596.0 1329.2 L597.4 1327.8 L598.8 1326.4 L600.3 1325.1 L601.7 1323.7 L603.2 1322.4 L604.7 1321.1 L606.3 1319.8 L607.8 1318.5 L609.3 1317.2 L610.9 1316.0 L612.4 1314.7 L614.0 1313.5 L615.6 1312.2 L617.2 1311.0 L618.8 1309.8 L620.4 1308.6 L622.0 1307.4 L623.6 1306.2 L625.2 1305.0 L626.8 1303.8 L628.4 1302.6 L630.1 1301.5 L631.7 1300.3 L633.3 1299.1 L634.9 1298.0 L636.6 1296.8 L638.2 1295.7 L639.9 1294.6 L641.5 1293.4 L643.2 1292.3 L644.9 1291.2 L646.5 1290.1 L648.2 1289.0 L649.9 1287.9 L651.6 1286.8 L653.2 1285.8 L654.9 1284.7 L656.6 1283.6 L658.3 1282.5 L660.0 1281.5 L661.7 1280.4 L663.4 1279.3 L665.1 1278.2 L666.8 1277.1 L668.5 1276.1 L670.2 1275.0 L671.9 1274.0 L673.6 1272.9 L675.3 1272.0 L677.1 1271.0 L678.9 1270.1 L680.7 1269.3 L682.5 1268.5 L684.3 1267.7 L686.2 1267.0 L688.1 1266.3 L690.0 1265.7 L691.9 1265.1 L693.8 1264.5 L695.7 1263.9 L697.6 1263.3 L699.6 1262.8 L701.5 1262.2 L703.4 1261.7 L705.3 1261.1 L707.3 1260.5 L709.2 1259.9 L711.1 1259.2 L713.0 1258.6 L714.9 1258.0 L716.8 1257.4 L718.7 1256.8 L720.6 1256.2 L722.5 1255.6 L724.4 1254.9 L726.3 1254.3 L728.2 1253.7 L730.1 1253.1 L732.0 1252.4 L733.9 1251.8 L735.8 1251.2 L737.7 1250.5 L739.6 1249.8 L741.4 1249.2 L743.3 1248.4 L745.2 1247.7 L747.0 1247.0 L748.9 1246.2 L750.7 1245.4 L752.6 1244.7 L754.4 1243.9 L756.3 1243.1 L758.1 1242.4 L760.0 1241.6 L761.9 1240.9 L763.8 1240.3 L765.6 1239.6 L767.6 1239.0 L769.5 1238.5 L771.4 1237.9 L773.3 1237.5 L775.3 1237.0 L777.2 1236.6 L779.2 1236.1 L781.1 1235.7 L783.1 1235.3 L785.1 1234.8 L787.0 1234.4 L788.9 1233.9 L790.9 1233.4 L792.8 1232.9 L794.7 1232.4 L796.7 1231.8 L798.6 1231.3 L800.6 1230.8 L802.5 1230.3 L804.4 1229.8 L806.4 1229.4 L808.3 1228.9 L810.3 1228.5 L812.2 1228.0 L814.2 1227.6 L816.1 1227.3 L818.1 1226.9 L820.1 1226.5 L822.0 1226.2 L824.0 1225.8 L826.0 1225.5 L828.0 1225.2 L829.9 1224.9 L831.9 1224.6 L833.9 1224.3 L835.9 1224.0 L837.9 1223.7 L839.8 1223.4 L841.8 1223.1 L843.8 1222.8 L845.8 1222.6 L847.8 1222.3 L849.7 1222.0 L851.7 1221.7 L853.7 1221.4 L855.7 1221.1 L857.6 1220.8 L859.6 1220.5 L861.6 1220.2 L863.6 1219.9 L865.6 1219.6 L867.5 1219.3 L869.5 1219.1 L871.5 1218.8 L873.5 1218.5 L875.5 1218.2 L877.5 1218.0 L879.4 1217.7 L881.4 1217.5 L883.4 1217.2 L885.4 1217.0 L887.4 1216.7 L889.4 1216.5 L891.4 1216.3 L893.3 1216.1 L895.3 1215.8 L897.3 1215.6 L899.3 1215.4 L901.3 1215.2 L903.3 1215.0 L905.3 1214.9 L907.3 1214.7 L909.3 1214.5 L911.3 1214.3 L913.2 1214.1 L915.2 1214.0 L917.2 1213.8 L919.2 1213.6 L921.2 1213.5 L923.2 1213.3 L925.2 1213.2 L927.2 1213.0 L929.2 1212.8 L931.2 1212.7 L933.2 1212.5 L935.2 1212.4 L937.2 1212.2 L939.2 1212.1 L941.2 1211.9 L943.2 1211.7 L945.2 1211.6 L947.1 1211.4 L949.1 1211.3 L951.1 1211.1 L953.1 1211.0 L955.1 1210.9 L957.1 1210.7 L959.1 1210.6 L961.1 1210.4 L963.1 1210.3 L965.1 1210.2 L967.1 1210.0 L969.1 1209.9 L971.1 1209.8 L973.1 1209.6 L975.1 1209.5 L977.1 1209.4 L979.1 1209.3 L981.1 1209.1 L983.1 1209.0 L985.1 1208.9 L987.1 1208.7 L989.1 1208.6 L991.1 1208.5 L993.1 1208.4 L995.0 1208.2 L997.0 1208.1 L999.0 1208.0 L1001.0 1207.9 L1003.0 1207.8 L1005.0 1207.7 L1007.0 1207.6 L1009.0 1207.4 L1011.0 1207.3 L1013.0 1207.2 L1015.0 1207.1 L1017.0 1207.0 L1019.0 1206.9 L1021.0 1206.8 L1023.0 1206.7 L1025.0 1206.6 L1027.0 1206.4 L1029.0 1206.3 L1031.0 1206.2 L1033.0 1206.1 L1035.0 1206.0 L1037.0 1205.8 L1039.0 1205.7 L1041.0 1205.5 L1043.0 1205.4 L1045.0 1205.3 L1047.0 1205.1 L1049.0 1205.0 L1050.9 1204.8 L1052.9 1204.6 L1054.9 1204.5 L1056.9 1204.3 L1058.9 1204.1 L1060.9 1204.0 L1062.9 1203.8 L1064.9 1203.6 L1066.9 1203.5 L1068.9 1203.3 L1070.9 1203.1 L1072.9 1203.0 L1074.9 1202.8 L1076.9 1202.7 L1078.9 1202.5 L1080.9 1202.3 L1082.8 1202.2 L1084.8 1202.0 L1086.8 1201.9 L1088.8 1201.7 L1090.8 1201.6 L1092.8 1201.4 L1094.8 1201.3 L1096.8 1201.1 L1098.8 1201.0 L1100.8 1200.8 L1102.8 1200.7 L1104.8 1200.5 L1106.8 1200.4 L1108.8 1200.2 L1110.8 1200.1 L1112.8 1199.9 L1114.8 1199.8 L1116.8 1199.7 L1118.8 1199.5 L1120.7 1199.4 L1122.7 1199.3 L1124.7 1199.2 L1126.7 1199.0 L1128.7 1198.9 L1130.7 1198.8 L1132.7 1198.7 L1134.7 1198.6 L1136.7 1198.5 L1138.7 1198.3 L1140.7 1198.2 L1142.7 1198.1 L1144.7 1198.0 L1146.7 1197.9 L1148.7 1197.8 L1150.7 1197.7 L1152.7 1197.6 L1154.7 1197.6 L1156.7 1197.5 L1158.7 1197.4 L1160.7 1197.3 L1162.7 1197.2 L1164.7 1197.2 L1166.7 1197.1 L1168.7 1197.0 L1170.7 1197.0 L1172.7 1196.9 L1174.7 1196.8 L1176.7 1196.8 L1178.7 1196.7 L1180.7 1196.7 L1182.7 1196.6 L1184.7 1196.6 L1186.7 1196.5 L1188.7 1196.5 L1190.7 1196.4 L1192.7 1196.4 L1194.7 1196.3 L1196.7 1196.3 L1198.7 1196.2 L1200.7 1196.2 L1202.7 1196.1 L1204.7 1196.1 L1206.7 1196.1 L1208.7 1196.1 L1210.7 1196.0 L1212.7 1196.0 L1214.7 1196.0 L1216.7 1196.0 L1218.7 1195.9 L1220.7 1195.9 L1222.7 1195.9 L1224.7 1195.9 L1226.7 1195.8 L1228.7 1195.8 L1230.7 1195.8 L1232.7 1195.7 L1234.7 1195.7 L1236.7 1195.6 L1238.7 1195.6 L1240.7 1195.5 L1242.7 1195.4 L1244.7 1195.4 L1246.7 1195.3 L1248.7 1195.3 L1250.7 1195.2 L1252.7 1195.2 L1254.7 1195.1 L1256.7 1195.1 L1258.7 1195.0 L1260.7 1194.9 L1262.7 1194.8 L1264.7 1194.6 L1266.7 1194.5 L1268.7 1194.3 L1270.7 1194.1 L1272.6 1193.9 L1274.6 1193.7 L1276.6 1193.4 L1278.6 1193.1 L1280.6 1192.8 L1282.6 1192.6 L1284.5 1192.3 L1286.5 1192.1 L1288.5 1191.9 L1290.5 1191.6 L1292.5 1191.4 L1294.5 1191.2 L1296.5 1191.0 L1298.5 1190.8 L1300.5 1190.7 L1302.4 1190.5 L1304.4 1190.4 L1306.4 1190.3 L1308.4 1190.3 L1310.4 1190.2 L1312.4 1190.2 L1314.4 1190.1 L1316.4 1190.1 L1318.4 1190.1 L1320.4 1190.1 L1322.4 1190.1 L1324.4 1190.1 L1326.4 1190.2 L1328.4 1190.2 L1330.4 1190.2 L1332.5 1190.3 L1334.5 1190.3 L1336.5 1190.3 L1338.5 1190.3 L1340.5 1190.4 L1342.5 1190.4 L1344.5 1190.4 L1346.5 1190.4 L1348.5 1190.4 L1350.5 1190.4 L1352.5 1190.4 L1354.5 1190.4 L1356.5 1190.5 L1358.5 1190.5 L1360.5 1190.5 L1362.5 1190.5 L1364.5 1190.6 L1366.5 1190.6 L1368.5 1190.6 L1370.5 1190.7 L1372.5 1190.7 L1374.5 1190.8 L1376.5 1190.8 L1378.5 1190.8 L1380.5 1190.9 L1382.5 1190.9 L1384.5 1191.0 L1386.5 1191.0 L1388.5 1191.1 L1390.5 1191.1 L1392.5 1191.2 L1394.5 1191.2 L1396.5 1191.3 L1398.5 1191.3 L1400.5 1191.4 L1402.5 1191.4 L1404.5 1191.5 L1406.5 1191.6 L1408.5 1191.6 L1410.5 1191.7 L1412.5 1191.8 L1414.5 1191.8 L1416.5 1191.9 L1418.4 1192.0 L1420.4 1192.0 L1422.4 1192.1 L1424.4 1192.2 L1426.4 1192.2 L1428.4 1192.3 L1430.4 1192.4 L1432.4 1192.5 L1434.4 1192.5 L1436.4 1192.6 L1438.4 1192.7 L1440.4 1192.8 L1442.4 1192.8 L1444.4 1192.9 L1446.4 1193.0 L1448.4 1193.1 L1450.4 1193.1 L1452.4 1193.2 L1454.4 1193.3 L1456.4 1193.4 L1458.4 1193.5 L1460.4 1193.5 L1462.4 1193.6 L1464.4 1193.7 L1466.4 1193.8 L1468.4 1193.9 L1470.4 1193.9 L1472.4 1194.0 L1474.4 1194.1 L1476.4 1194.2 L1478.4 1194.3 L1480.4 1194.4 L1482.4 1194.4 L1484.4 1194.5 L1486.4 1194.6 L1488.4 1194.7 L1490.4 1194.8 L1492.4 1194.9 L1494.4 1194.9 L1496.4 1195.0 L1498.4 1195.1 L1500.4 1195.2 L1502.4 1195.3 L1504.4 1195.3 L1506.4 1195.4 L1508.4 1195.5 L1510.4 1195.6 L1512.4 1195.7 L1514.4 1195.7 L1516.4 1195.8 L1518.4 1195.9 L1520.4 1196.0 L1522.4 1196.0 L1524.4 1196.1 L1526.4 1196.2 L1528.4 1196.3 L1530.4 1196.4 L1532.4 1196.4 L1534.4 1196.5 L1536.4 1196.6 L1538.4 1196.7 L1540.4 1196.7 L1542.4 1196.8 L1544.4 1196.9 L1546.4 1197.0 L1548.4 1197.0 L1550.4 1197.1 L1552.4 1197.2 L1554.4 1197.3 L1556.4 1197.3 L1558.4 1197.4 L1560.4 1197.5 L1562.4 1197.6 L1564.4 1197.6 L1566.4 1197.7 L1568.4 1197.8 L1570.4 1197.9 L1572.4 1197.9 L1574.3 1198.0 L1576.3 1198.1 L1578.3 1198.1 L1580.3 1198.2 L1582.3 1198.3 L1584.3 1198.4 L1586.3 1198.4 L1588.3 1198.5 L1590.3 1198.6 L1592.3 1198.7 L1594.3 1198.7 L1596.3 1198.8 L1598.3 1198.9 L1600.3 1199.0 L1602.3 1199.0 L1604.3 1199.1 L1606.3 1199.2 L1608.3 1199.2 L1610.3 1199.3 L1612.3 1199.4 L1614.3 1199.5 L1616.3 1199.5 L1618.3 1199.6 L1620.3 1199.7 L1622.3 1199.8 L1624.3 1199.8 L1626.3 1199.9 L1628.3 1200.0 L1630.3 1200.1 L1632.3 1200.1 L1634.3 1200.2 L1636.3 1200.3 L1638.3 1200.4 L1640.3 1200.4 L1642.3 1200.5 L1644.3 1200.6 L1646.3 1200.7 L1648.3 1200.7 L1650.3 1200.8 L1652.3 1200.9 L1654.3 1201.0 L1656.3 1201.1 L1658.3 1201.1 L1660.3 1201.2 L1662.3 1201.3 L1664.3 1201.4 L1666.3 1201.5 L1668.3 1201.6 L1670.3 1201.6 L1672.3 1201.7 L1674.3 1201.8 L1676.3 1201.9 L1678.3 1202.0 L1680.3 1202.1 L1682.3 1202.2 L1684.3 1202.2 L1686.3 1202.3 L1688.3 1202.4 L1690.3 1202.5 L1692.3 1202.6 L1694.3 1202.7 L1696.3 1202.8 L1698.3 1202.9 L1700.3 1203.0 L1702.3 1203.1 L1704.3 1203.1 L1706.3 1203.2 L1708.3 1203.3 L1710.3 1203.4 L1712.3 1203.5 L1714.3 1203.6 L1716.2 1203.7 L1718.2 1203.8 L1720.2 1203.9 L1722.2 1204.0 L1724.2 1204.1 L1726.2 1204.2 L1728.2 1204.3 L1730.2 1204.4 L1732.2 1204.5 L1734.2 1204.6 L1736.2 1204.7 L1738.2 1204.8 L1740.2 1204.9 L1742.2 1205.0 L1744.2 1205.1 L1746.2 1205.2 L1748.2 1205.3 L1750.2 1205.4 L1752.2 1205.5 L1754.2 1205.6 L1756.2 1205.7 L1758.2 1205.8 L1760.2 1205.9 L1762.2 1206.0 L1764.2 1206.1 L1766.2 1206.2 L1768.2 1206.3 L1770.2 1206.4 L1772.2 1206.5 L1774.2 1206.6 L1776.2 1206.7 L1778.2 1206.8 L1780.2 1206.9 L1782.2 1207.0 L1784.2 1207.1 L1786.2 1207.2 L1788.2 1207.3 L1790.2 1207.4 L1792.2 1207.5 L1794.2 1207.6 L1796.2 1207.7 L1798.2 1207.8 L1800.2 1207.9 L1802.2 1208.0 L1804.1 1208.1 L1806.1 1208.2 L1808.1 1208.3 L1810.1 1208.4 L1812.1 1208.5 L1814.1 1208.6 L1816.1 1208.7 L1818.1 1208.8 L1820.1 1208.9 L1822.1 1209.0 L1824.1 1209.1 L1826.1 1209.2 L1828.1 1209.3 L1830.1 1209.4 L1832.1 1209.5 L1834.1 1209.6 L1836.1 1209.7 L1838.1 1209.8 L1840.1 1209.9 L1842.1 1210.0 L1844.1 1210.1 L1846.1 1210.3 L1848.1 1210.4 L1850.1 1210.5 L1852.1 1210.7 L1854.1 1210.8 L1856.1 1210.9 L1858.1 1211.1 L1860.1 1211.2 L1862.1 1211.3 L1864.1 1211.4 L1866.1 1211.6 L1868.1 1211.7 L1870.1 1211.8 L1872.1 1212.0 L1874.1 1212.1 L1876.1 1212.2 L1878.1 1212.4 L1880.0 1212.6 L1882.0 1212.8 L1884.0 1213.0 L1886.0 1213.2 L1888.0 1213.4 L1890.0 1213.7 L1892.0 1214.0 L1893.9 1214.3 L1895.9 1214.6 L1897.9 1215.0 L1899.8 1215.3 L1901.8 1215.7 L1903.8 1216.1 L1905.7 1216.5 L1907.7 1216.9 L1909.6 1217.3 L1911.6 1217.7 L1913.6 1218.1 L1915.5 1218.5 L1917.5 1218.9 L1919.4 1219.3 L1921.4 1219.7 L1923.4 1220.1 L1925.3 1220.5 L1927.3 1220.9 L1929.3 1221.3 L1931.2 1221.7 L1933.2 1222.1 L1935.1 1222.5 L1937.1 1222.9 L1939.1 1223.3 L1941.0 1223.7 L1943.0 1224.1 L1944.9 1224.5 L1946.9 1224.9 L1948.8 1225.4 L1950.8 1225.8 L1952.7 1226.2 L1954.7 1226.7 L1956.6 1227.1 L1958.6 1227.6 L1960.5 1228.0 L1962.5 1228.5 L1964.4 1228.9 L1966.4 1229.4 L1968.3 1229.9 L1970.3 1230.3 L1972.2 1230.8 L1974.2 1231.3 L1976.1 1231.8 L1978.0 1232.2 L1980.0 1232.7 L1981.9 1233.2 L1983.9 1233.7 L1985.8 1234.2 L1987.7 1234.8 L1989.6 1235.3 L1991.6 1235.8 L1993.5 1236.4 L1995.4 1236.9 L1997.3 1237.5 L1999.2 1238.1 L2001.1 1238.7 L2003.1 1239.3 L2005.0 1239.9 L2006.9 1240.6 L2008.8 1241.2 L2010.7 1241.8 L2012.6 1242.4 L2014.5 1243.0 L2016.4 1243.6 L2018.3 1244.2 L2020.2 1244.8 L2022.1 1245.3 L2024.1 1245.9 L2026.0 1246.4 L2027.9 1247.0 L2029.8 1247.5 L2031.8 1248.0 L2033.7 1248.6 L2035.6 1249.1 L2037.5 1249.6 L2039.5 1250.2 L2041.4 1250.7" fill="none" stroke="#808080" stroke-width="12.6" stroke-linecap="round" stroke-linejoin="round"/>
</g>
<g id="photo">
<defs>
<linearGradient id="bg" x1="0" y1="0" x2="0" y2="1"><stop offset="0" stop-color="#877a70"/><stop offset="0.12" stop-color="#978a80"/><stop offset="0.4" stop-color="#a59a92"/><stop offset="0.75" stop-color="#b0a8a1"/><stop offset="1" stop-color="#b3aca6"/></linearGradient>
<linearGradient id="bgx" x1="0" y1="0" x2="1" y2="0"><stop offset="0" stop-color="#fff" stop-opacity="0.06"/><stop offset="0.5" stop-color="#000" stop-opacity="0.05"/><stop offset="1" stop-color="#fff" stop-opacity="0.05"/></linearGradient>
<linearGradient id="cyl" x1="0" y1="0" x2="1" y2="0"><stop offset="0" stop-color="#3a3b41"/><stop offset="0.2" stop-color="#404248"/><stop offset="0.55" stop-color="#44454b"/><stop offset="0.85" stop-color="#3f4046"/><stop offset="1" stop-color="#37383d"/></linearGradient>
<linearGradient id="cylv" x1="0" y1="0" x2="0" y2="1"><stop offset="0" stop-color="#15161a" stop-opacity="0.18"/><stop offset="0.25" stop-color="#15161a" stop-opacity="0.05"/><stop offset="0.55" stop-color="#8a8d99" stop-opacity="0.10"/><stop offset="0.8" stop-color="#3a2f2a" stop-opacity="0.22"/><stop offset="1" stop-color="#2e2624" stop-opacity="0.38"/></linearGradient>
<filter id="b1" x="-5%" y="-5%" width="110%" height="110%"><feGaussianBlur stdDeviation="1.3"/></filter>
<filter id="b3" x="-20%" y="-20%" width="140%" height="140%"><feGaussianBlur stdDeviation="3.5"/></filter>
<filter id="b8" x="-30%" y="-30%" width="160%" height="160%"><feGaussianBlur stdDeviation="9"/></filter>
<filter id="grain" x="0" y="0" width="100%" height="100%"><feTurbulence type="fractalNoise" baseFrequency="0.55" numOctaves="2" seed="3" result="n"/><feColorMatrix type="matrix" values="0 0 0 0 0.52  0 0 0 0 0.53  0 0 0 0 0.56  0.9 0.9 0.9 0 -1.1"/></filter>
<clipPath id="pc"><rect x="955.5" y="222.3" width="445.4" height="700"/></clipPath>
<clipPath id="cc"><path d="M996 249 C1010 240 1040 235 1060 233 C1120 227 1160 226 1190 226 C1260 226 1335 231 1370 246 L1369 404 L1370 425 L1372 497 L1379 503 L1385 545 L1389 591 L1393 668 L1389 770 L1379 842 L1371 884 C1330 901 1262 913 1186 916 C1109 912 1045 892 1007 870 L996 848 L990 800 L987 748 L978 736 L973 693 L971 617 L975 545 L982 507 L989 458 L996 408 Z"/></clipPath>
</defs>
<rect x="955.5" y="222.3" width="445.4" height="700" fill="url(#bg)"/>
<rect x="955.5" y="222.3" width="445.4" height="700" fill="url(#bgx)"/>
<g clip-path="url(#pc)">
<g filter="url(#b1)">
<path d="M996 249 C1010 240 1040 235 1060 233 C1120 227 1160 226 1190 226 C1260 226 1335 231 1370 246 L1369 404 L1370 425 L1372 497 L1379 503 L1385 545 L1389 591 L1393 668 L1389 770 L1379 842 L1371 884 C1330 901 1262 913 1186 916 C1109 912 1045 892 1007 870 L996 848 L990 800 L987 748 L978 736 L973 693 L971 617 L975 545 L982 507 L989 458 L996 408 Z" fill="url(#cyl)"/>
<path d="M996 249 C1010 240 1040 235 1060 233 C1120 227 1160 226 1190 226 C1260 226 1335 231 1370 246 L1369 404 L1370 425 L1372 497 L1379 503 L1385 545 L1389 591 L1393 668 L1389 770 L1379 842 L1371 884 C1330 901 1262 913 1186 916 C1109 912 1045 892 1007 870 L996 848 L990 800 L987 748 L978 736 L973 693 L971 617 L975 545 L982 507 L989 458 L996 408 Z" fill="url(#cylv)"/>
</g>
<g clip-path="url(#cc)">
<g filter="url(#b8)">
<path d="M1075 915 L1150 800 L1195 745 L1245 800 L1330 905 Z" fill="#362d2a" opacity="0.45"/>
<ellipse cx="1130" cy="640" rx="110" ry="90" fill="#5a5c66" opacity="0.35"/>
<ellipse cx="1300" cy="620" rx="70" ry="80" fill="#565862" opacity="0.3"/>
<ellipse cx="1180" cy="330" rx="120" ry="70" fill="#4f5058" opacity="0.3"/>
</g>
<rect x="955" y="222" width="446" height="700" filter="url(#grain)" opacity="0.38"/>
<g filter="url(#b3)" fill="none" stroke-linecap="round">
<path d="M986 470 C1010 500 1030 480 1060 478 C1090 476 1110 474 1135 480 C1170 492 1200 512 1240 528 C1262 520 1280 516 1300 520 C1330 512 1350 490 1385 500" stroke="#70737e" stroke-width="6" opacity="0.95"/>
<path d="M978 640 C990 590 1020 540 1070 495" stroke="#6a6d78" stroke-width="7" opacity="0.85"/>
<path d="M1000 600 C1030 560 1060 530 1100 500" stroke="#666974" stroke-width="6" opacity="0.75"/>
<path d="M1245 560 C1275 530 1300 522 1330 525 C1350 515 1370 505 1388 500" stroke="#6a6d78" stroke-width="7" opacity="0.85"/>
<path d="M997 408 C1020 430 1040 455 1062 476" stroke="#686b76" stroke-width="5" opacity="0.9"/>
<path d="M1320 560 C1340 600 1330 650 1300 680" stroke="#3a3b41" stroke-width="6" opacity="0.5"/>
<path d="M1010 850 C1040 872 1080 880 1120 878 C1150 870 1170 880 1200 878" stroke="#2f2c2c" stroke-width="4" opacity="0.5"/>
<path d="M1035 236 V300 M1050 236 V285 M1232 232 V300 M1322 236 V310" stroke="#33343a" stroke-width="4" opacity="0.55"/>
</g>
<g filter="url(#b1)">
<path d="M1096 453 C1104 449 1112 452 1120 457 C1128 455 1134 462 1142 463 C1150 461 1156 468 1166 468 C1180 466 1196 474 1212 478 C1232 480 1258 490 1286 491 C1291 495 1288 499 1280 500 C1270 506 1250 510 1232 508 C1214 508 1196 500 1180 494 C1162 488 1148 480 1134 474 C1120 470 1104 462 1096 453 Z" fill="#2b2728"/>
<path d="M1160 478 C1186 490 1222 500 1262 501" fill="none" stroke="#4b423e" stroke-width="5" opacity="0.85"/>
<path d="M1098 450 C1112 444 1126 450 1140 456" fill="none" stroke="#5b5d66" stroke-width="5" opacity="0.7"/>
<path d="M1318 440 L1330 428 M1338 420 L1356 398 M1352 392 L1360 376" fill="none" stroke="#34353b" stroke-width="5" opacity="0.7"/>
</g>
</g>
<path d="M998 250 C1012 241 1040 236 1060 234 C1120 228 1160 227 1190 227 C1260 227 1335 232 1368 247" fill="none" stroke="#74767d" stroke-width="3.5" filter="url(#b1)"/>
</g>
<path d="M1003 399.5 L1287 867.5" stroke="#ffff00" stroke-width="7" stroke-linecap="round" stroke-dasharray="6.5 17" fill="none"/>
<path d="M1353.3 400.8 L1002.4 843.8" stroke="#ffff00" stroke-width="7" stroke-linecap="round" stroke-dasharray="6.5 17" fill="none"/>

</g>
<g id="legend">
<path d="M1486.9 307 H1678.8" stroke="#808080" stroke-width="15" stroke-linecap="round" fill="none"/>
<text x="1722.5" y="325.9" font-size="66" font-weight="bold">Raw tailings</text>
<path d="M1489.7 411.5 H1682.1" stroke="#FFA3A3" stroke-width="15" stroke-linecap="round" fill="none"/>
<text x="1739.5" y="429" font-size="66" font-weight="bold">3 days</text>
<path d="M1489.7 526.8 H1682.1" stroke="#05668D" stroke-width="15" stroke-linecap="round" fill="none"/>
<text x="1742" y="547.2" font-size="66" font-weight="bold">7 days</text>
<path d="M1492.6 631.3 H1685.3" stroke="#FFCF8A" stroke-width="15" stroke-linecap="round" fill="none"/>
<text x="1743.5" y="651.7" font-size="66" font-weight="bold">14 days</text>
<path d="M1492.6 737 H1685.3" stroke="#62E58D" stroke-width="15" stroke-linecap="round" fill="none"/>
<text x="1750" y="759.2" font-size="66" font-weight="bold">28 days</text>
<path d="M1492.6 850.5 H1685.3" stroke="#DE9DFF" stroke-width="15" stroke-linecap="round" fill="none"/>
<text x="1755.5" y="867.3" font-size="66" font-weight="bold">90 days</text>
</g>
<g id="labels">
<text x="286.5" y="215.4" text-anchor="end" font-size="78">1400</text>
<text x="286.5" y="443.8" text-anchor="end" font-size="78">1200</text>
<text x="286.5" y="682.0" text-anchor="end" font-size="78">1000</text>
<text x="275.2" y="897.9" text-anchor="end" font-size="78">800</text>
<text x="275.0" y="1128.6" text-anchor="end" font-size="78">600</text>
<text x="290.2" y="1360.5" text-anchor="end" font-size="78">400</text>
<text x="291.4" y="1592.5" text-anchor="end" font-size="78">200</text>
<text x="281.0" y="1817.8" text-anchor="end" font-size="78">0</text>
<text x="322.3" y="1880" text-anchor="middle" font-size="78">0</text>
<text x="549.0" y="1880" text-anchor="middle" font-size="78">2</text>
<text x="775.7" y="1880" text-anchor="middle" font-size="78">4</text>
<text x="1002.4" y="1880" text-anchor="middle" font-size="78">6</text>
<text x="1229.1" y="1880" text-anchor="middle" font-size="78">8</text>
<text x="1460.3" y="1880" text-anchor="middle" font-size="78">10</text>
<text x="1687.0" y="1880" text-anchor="middle" font-size="78">12</text>
<text x="1913.7" y="1880" text-anchor="middle" font-size="78">14</text>
<text x="2140.4" y="1880" text-anchor="middle" font-size="78">16</text>
<text x="974.7" y="1971.4" font-size="91" textLength="563" lengthAdjust="spacingAndGlyphs">Axial strain (%)</text>
<text transform="translate(96,1317.5) rotate(-90)" font-size="91" textLength="796" lengthAdjust="spacingAndGlyphs">Deviatoric stress (kPa)</text>
<text x="1204.7" y="2106" text-anchor="middle" font-size="85">(<tspan font-weight="bold">a</tspan>)</text>
</g>
</svg>
</body></html>
